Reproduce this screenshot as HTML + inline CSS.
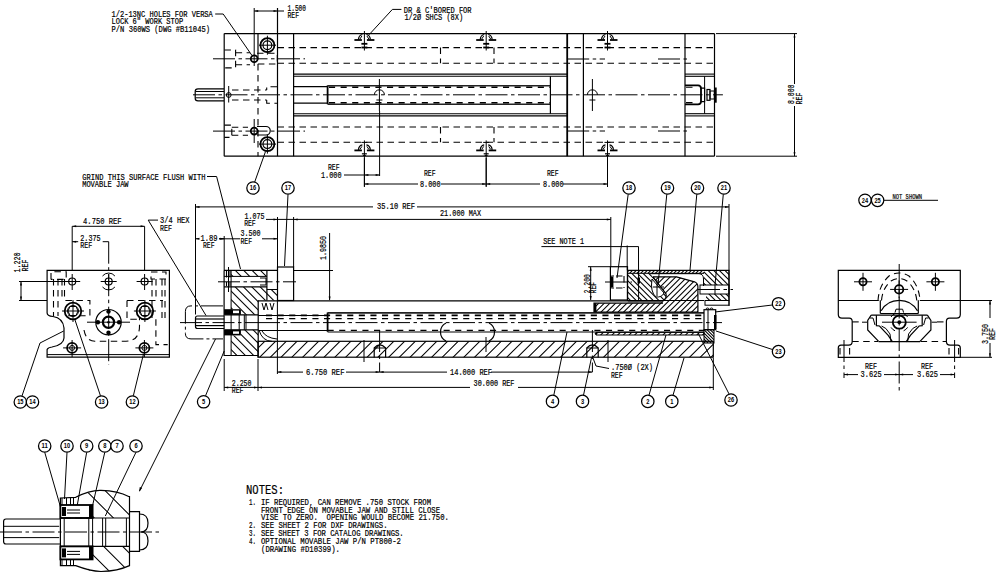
<!DOCTYPE html>
<html><head><meta charset="utf-8"><style>
html,body{margin:0;padding:0;background:#fff;width:1000px;height:573px;overflow:hidden}
svg{display:block}
.t{stroke:#000;stroke-width:1;fill:none}
.m{stroke:#000;stroke-width:1.2;fill:none}
.k{stroke:#000;stroke-width:1.8;fill:none}
.k2{stroke:#000;stroke-width:2.2;fill:none}
.m2{stroke:#222;stroke-width:1.6;fill:none}
.s{stroke:#000;stroke-width:1.1;fill:none}
.w{fill:#fff;stroke:none}
.wf{fill:#fff;stroke:#000;stroke-width:1}
.d{stroke:#000;stroke-width:1.1;fill:none;stroke-dasharray:6.5 4.5}
.dd{stroke:#000;stroke-width:1.6;fill:none;stroke-dasharray:5 3}
.thr{stroke:#000;stroke-width:1.8;fill:none;stroke-dasharray:6.1 5.5}
.thr2{stroke:#000;stroke-width:1.4;fill:none;stroke-dasharray:6.1 5.5}
.c{stroke:#000;stroke-width:1;fill:none;stroke-dasharray:22 3.5 3.5 3.5}
.ph{stroke:#000;stroke-width:1;fill:none;stroke-dasharray:22 3 3 3}
.h{stroke:#000;stroke-width:1.05;fill:none}
.h2{stroke:#000;stroke-width:1;fill:none}
.b{stroke:#000;stroke-width:1.1;fill:#fff}
.blk{fill:#000;stroke:none}
.ah{fill:#000;stroke:none}
.tx{font-family:"Liberation Mono",monospace;fill:#000;stroke:#000;stroke-width:0.2;white-space:pre}
.bt{font-family:"Liberation Sans",sans-serif;fill:#000;font-weight:bold}
.b{stroke:#000;stroke-width:1.25;fill:#fff}
</style></head><body>
<svg width="1000" height="573" viewBox="0 0 1000 573">
<line x1="224.2" y1="33.6" x2="714.5" y2="33.6" class="m"/>
<line x1="224.2" y1="156.2" x2="714.5" y2="156.2" class="m"/>
<line x1="224.2" y1="33.6" x2="224.2" y2="156.2" class="m"/>
<line x1="293.6" y1="33.6" x2="293.6" y2="156.2" class="m"/>
<line x1="277.5" y1="8" x2="277.5" y2="156.2" class="m"/>
<line x1="567.2" y1="33.6" x2="567.2" y2="156.2" class="k"/>
<line x1="583.4" y1="33.6" x2="583.4" y2="156.2" class="m"/>
<line x1="685" y1="33.6" x2="685" y2="156.2" class="m"/>
<line x1="714.5" y1="33.6" x2="714.5" y2="156.2" class="m"/>
<line x1="258" y1="33.6" x2="258" y2="53" class="m"/>
<line x1="258" y1="53" x2="258" y2="156.2" class="d"/>
<line x1="254.2" y1="8" x2="254.2" y2="66" class="t"/>
<line x1="254.2" y1="11" x2="284" y2="11" class="t"/>
<path d="M254.2,11.0L258.2,10.0L258.2,12.0Z" class="ah"/>
<path d="M277.5,11.0L273.5,12.0L273.5,10.0Z" class="ah"/>
<text x="287.5" y="11.2" font-size="8.4" class="tx" textLength="18.5" lengthAdjust="spacingAndGlyphs">1.500</text>
<text x="287.5" y="18.2" font-size="8.4" class="tx" textLength="11.5" lengthAdjust="spacingAndGlyphs">REF</text>
<circle cx="267.4" cy="45.2" r="7" class="k"/>
<circle cx="267.4" cy="45.2" r="4.4" class="m"/>
<line x1="259" y1="45.2" x2="276" y2="45.2" class="t"/>
<line x1="267.4" y1="35.7" x2="267.4" y2="54.7" class="t"/>
<circle cx="267.4" cy="144.1" r="7" class="k"/>
<circle cx="267.4" cy="144.1" r="4.4" class="m"/>
<line x1="259" y1="144.1" x2="276" y2="144.1" class="t"/>
<line x1="267.4" y1="134.6" x2="267.4" y2="153.6" class="t"/>
<circle cx="254.2" cy="58.8" r="3.4" class="k"/>
<line x1="213" y1="58.8" x2="305" y2="58.8" class="c"/>
<circle cx="254.2" cy="131.1" r="3.4" class="k"/>
<line x1="213" y1="131.1" x2="305" y2="131.1" class="c"/>
<path d="M224.4,50 L235.6,50 L235.6,67.9 L224.4,67.9" class="d"/>
<path d="M235.6,52.8 L250,52.8 M235.6,64.7 L250,64.7" class="d"/>
<path d="M257,53.2 L277.3,53.2 L277.3,64 L257,64" class="d"/>
<path d="M224.4,125.1 L231.8,125.1 L231.8,137.4 L224.4,137.4" class="d"/>
<path d="M231.8,127.2 L248,127.2 M231.8,135.3 L248,135.3" class="d"/>
<path d="M257,126.5 L266,126.5 A4.25,4.25 0 0 1 266,135 L257,135" class="m"/>
<line x1="254.2" y1="119" x2="254.2" y2="143" class="t"/>
<line x1="277.5" y1="47.6" x2="714.5" y2="47.6" class="d"/>
<line x1="277.5" y1="63.3" x2="714.5" y2="63.3" class="d"/>
<line x1="277.5" y1="127" x2="714.5" y2="127" class="d"/>
<line x1="277.5" y1="142.3" x2="714.5" y2="142.3" class="d"/>
<line x1="440.5" y1="47.6" x2="440.5" y2="63.3" class="d"/>
<line x1="494" y1="47.6" x2="494" y2="63.3" class="d"/>
<line x1="440.5" y1="127" x2="440.5" y2="142.3" class="d"/>
<line x1="494" y1="127" x2="494" y2="142.3" class="d"/>
<line x1="293.6" y1="74.1" x2="567.2" y2="74.1" class="s"/>
<line x1="685" y1="74.1" x2="714.5" y2="74.1" class="s"/>
<line x1="293.6" y1="76.3" x2="567.2" y2="76.3" class="s"/>
<line x1="685" y1="76.3" x2="714.5" y2="76.3" class="s"/>
<line x1="293.6" y1="113.7" x2="567.2" y2="113.7" class="s"/>
<line x1="685" y1="113.7" x2="714.5" y2="113.7" class="s"/>
<line x1="293.6" y1="115.9" x2="567.2" y2="115.9" class="s"/>
<line x1="685" y1="115.9" x2="714.5" y2="115.9" class="s"/>
<line x1="293.6" y1="86.6" x2="327.6" y2="86.6" class="m"/>
<line x1="293.6" y1="103.2" x2="327.6" y2="103.2" class="m"/>
<line x1="327.6" y1="85.4" x2="327.6" y2="104.2" class="k"/>
<line x1="327.6" y1="85.7" x2="550.4" y2="85.7" class="m2"/>
<line x1="327.6" y1="104.3" x2="550.4" y2="104.3" class="m2"/>
<line x1="329" y1="87.3" x2="550.4" y2="87.3" class="thr2"/>
<line x1="329" y1="102.8" x2="550.4" y2="102.8" class="thr2"/>
<line x1="550.4" y1="76.3" x2="550.4" y2="113.7" class="m"/>
<path d="M224,88.8 L198,88.8 Q195.2,88.8 195.2,91.5 L195.2,98.2 Q195.2,100.9 198,100.9 L224,100.9" class="m"/>
<line x1="195.5" y1="91.5" x2="224" y2="91.5" class="t"/>
<line x1="195.5" y1="97.8" x2="224" y2="97.8" class="t"/>
<circle cx="228.7" cy="95" r="2.4" class="t"/>
<line x1="228.7" y1="86" x2="228.7" y2="102.5" class="t"/>
<path d="M232,90 L266.7,90 M232,100 L266.7,100" class="d"/>
<path d="M277,86.8 L266.7,86.8 L266.7,90 M266.7,100 L266.7,103.3 L277,103.3" class="d"/>
<line x1="193" y1="94.8" x2="722.9" y2="94.8" class="c"/>
<path d="M374.4,94.8 A5,5 0 0 1 384.4,94.8" class="t"/>
<line x1="379.4" y1="79" x2="379.4" y2="111" class="t"/>
<line x1="376.4" y1="100" x2="382.4" y2="100" class="t"/>
<path d="M587.4,94.8 A5,5 0 0 1 597.4,94.8" class="t"/>
<line x1="592.4" y1="79" x2="592.4" y2="111" class="t"/>
<line x1="589.4" y1="100" x2="595.4" y2="100" class="t"/>
<line x1="379.6" y1="111" x2="379.6" y2="176" class="t"/>
<line x1="354.4" y1="40" x2="361.9" y2="40" class="k"/>
<line x1="366.9" y1="40" x2="374.4" y2="40" class="k"/>
<path d="M358.4,39.5 Q358.9,35 362.4,34.5 M366.4,34.5 Q369.9,35 370.4,39.5" class="m"/>
<path d="M359.9,39 L361.9,36 M366.9,36 L368.9,39" class="t"/>
<line x1="364.4" y1="31" x2="364.4" y2="50.5" class="t"/>
<line x1="361.4" y1="43.8" x2="367.4" y2="43.8" class="k"/>
<line x1="361.4" y1="47.5" x2="367.4" y2="47.5" class="k"/>
<line x1="354.4" y1="150.4" x2="361.9" y2="150.4" class="k"/>
<line x1="366.9" y1="150.4" x2="374.4" y2="150.4" class="k"/>
<path d="M358.4,149.9 Q358.9,145.4 362.4,144.9 M366.4,144.9 Q369.9,145.4 370.4,149.9" class="m"/>
<path d="M359.9,149.4 L361.9,146.4 M366.9,146.4 L368.9,149.4" class="t"/>
<line x1="364.4" y1="140.4" x2="364.4" y2="186.4" class="t"/>
<line x1="361.4" y1="142.4" x2="367.4" y2="142.4" class="t"/>
<line x1="361.9" y1="153.8" x2="366.9" y2="153.8" class="m"/>
<line x1="362.9" y1="155.4" x2="365.9" y2="155.4" class="t"/>
<line x1="476.2" y1="40" x2="483.7" y2="40" class="k"/>
<line x1="488.7" y1="40" x2="496.2" y2="40" class="k"/>
<path d="M480.2,39.5 Q480.7,35 484.2,34.5 M488.2,34.5 Q491.7,35 492.2,39.5" class="m"/>
<path d="M481.7,39 L483.7,36 M488.7,36 L490.7,39" class="t"/>
<line x1="486.2" y1="31" x2="486.2" y2="50.5" class="t"/>
<line x1="483.2" y1="43.8" x2="489.2" y2="43.8" class="k"/>
<line x1="483.2" y1="47.5" x2="489.2" y2="47.5" class="k"/>
<line x1="476.2" y1="150.4" x2="483.7" y2="150.4" class="k"/>
<line x1="488.7" y1="150.4" x2="496.2" y2="150.4" class="k"/>
<path d="M480.2,149.9 Q480.7,145.4 484.2,144.9 M488.2,144.9 Q491.7,145.4 492.2,149.9" class="m"/>
<path d="M481.7,149.4 L483.7,146.4 M488.7,146.4 L490.7,149.4" class="t"/>
<line x1="486.2" y1="140.4" x2="486.2" y2="186.4" class="t"/>
<line x1="483.2" y1="142.4" x2="489.2" y2="142.4" class="t"/>
<line x1="483.7" y1="153.8" x2="488.7" y2="153.8" class="m"/>
<line x1="484.7" y1="155.4" x2="487.7" y2="155.4" class="t"/>
<line x1="597.5" y1="40" x2="605" y2="40" class="k"/>
<line x1="610" y1="40" x2="617.5" y2="40" class="k"/>
<path d="M601.5,39.5 Q602.0,35 605.5,34.5 M609.5,34.5 Q613.0,35 613.5,39.5" class="m"/>
<path d="M603.0,39 L605.0,36 M610.0,36 L612.0,39" class="t"/>
<line x1="607.5" y1="31" x2="607.5" y2="50.5" class="t"/>
<line x1="604.5" y1="43.8" x2="610.5" y2="43.8" class="k"/>
<line x1="604.5" y1="47.5" x2="610.5" y2="47.5" class="k"/>
<line x1="597.5" y1="150.4" x2="605" y2="150.4" class="k"/>
<line x1="610" y1="150.4" x2="617.5" y2="150.4" class="k"/>
<path d="M601.5,149.9 Q602.0,145.4 605.5,144.9 M609.5,144.9 Q613.0,145.4 613.5,149.9" class="m"/>
<path d="M603.0,149.4 L605.0,146.4 M610.0,146.4 L612.0,149.4" class="t"/>
<line x1="607.5" y1="140.4" x2="607.5" y2="186.4" class="t"/>
<line x1="604.5" y1="142.4" x2="610.5" y2="142.4" class="t"/>
<line x1="605" y1="153.8" x2="610" y2="153.8" class="m"/>
<line x1="606" y1="155.4" x2="609" y2="155.4" class="t"/>
<line x1="567.2" y1="59" x2="605" y2="59" class="c"/>
<line x1="658" y1="59" x2="690" y2="59" class="c"/>
<line x1="567.2" y1="131" x2="605" y2="131" class="c"/>
<line x1="658" y1="131" x2="690" y2="131" class="c"/>
<path d="M685,85.4 L698,85.4 Q701,85.6 701,88.5 L701,101.2 Q701,104.2 698,104.4 L685,104.4" class="k"/>
<path d="M686,87.2 L697,87.2 M686,102.6 L697,102.6" class="d"/>
<path d="M701,88.2 L704.6,88.2 L704.6,101.6 L701,101.6" class="m"/>
<line x1="704.6" y1="76.3" x2="704.6" y2="113.7" class="t"/>
<rect x="707" y="89.5" width="3" height="10.8" class="m"/>
<rect x="710" y="91" width="4.3" height="8" class="t"/>
<line x1="715.6" y1="87.5" x2="715.6" y2="102.7" class="k2"/>
<line x1="716" y1="33.6" x2="797" y2="33.6" class="t"/>
<line x1="716" y1="156.2" x2="797" y2="156.2" class="t"/>
<line x1="794.5" y1="33.6" x2="794.5" y2="84" class="t"/>
<line x1="794.5" y1="106" x2="794.5" y2="156.2" class="t"/>
<path d="M794.5,33.6L795.5,37.6L793.5,37.6Z" class="ah"/>
<path d="M794.5,156.2L793.5,152.2L795.5,152.2Z" class="ah"/>
<text x="793.8" y="104" font-size="8.4" class="tx" textLength="19.5" lengthAdjust="spacingAndGlyphs" transform="rotate(-90 793.8 104)">8.000</text>
<text x="801.6" y="104.5" font-size="8.4" class="tx" textLength="12" lengthAdjust="spacingAndGlyphs" transform="rotate(-90 801.6 104.5)">REF</text>
<text x="111.5" y="16.8" font-size="8.4" class="tx" textLength="101.3" lengthAdjust="spacingAndGlyphs">1/2-13NC HOLES FOR VERSA</text>
<text x="111.5" y="24.3" font-size="8.4" class="tx" textLength="71.7" lengthAdjust="spacingAndGlyphs">LOCK 6" WORK STOP</text>
<text x="111.5" y="31.9" font-size="8.4" class="tx" textLength="98.5" lengthAdjust="spacingAndGlyphs">P/N 360WS (DWG #B11045)</text>
<path d="M215.2,14 L223.2,14 L252,55.5" class="t"/>
<text x="403.8" y="12.6" font-size="8.4" class="tx" textLength="67.8" lengthAdjust="spacingAndGlyphs">DR &amp; C'BORED FOR</text>
<text x="404.4" y="20.2" font-size="8.4" class="tx" textLength="58.8" lengthAdjust="spacingAndGlyphs">1/2Ø SHCS (8X)</text>
<path d="M401.4,9.4 L392.4,9.4 L369,34.8" class="t"/>
<path d="M254.7,182 L265.5,151.5" class="t"/>
<path d="M288,194.3 L284.5,266" class="t"/>
<line x1="364.4" y1="158" x2="364.4" y2="187" class="t"/>
<line x1="344" y1="175" x2="379.6" y2="175" class="t"/>
<path d="M379.6,175.0L375.6,176.0L375.6,174.0Z" class="ah"/>
<path d="M364.4,175.0L368.4,174.0L368.4,176.0Z" class="ah"/>
<text x="328" y="169.5" font-size="8.4" class="tx" textLength="11.5" lengthAdjust="spacingAndGlyphs">REF</text>
<text x="321" y="178.2" font-size="8.4" class="tx" textLength="20.5" lengthAdjust="spacingAndGlyphs">1.000</text>
<line x1="486.2" y1="158" x2="486.2" y2="187" class="t"/>
<line x1="607.5" y1="158" x2="607.5" y2="187" class="t"/>
<line x1="364.4" y1="184" x2="418" y2="184" class="t"/>
<line x1="441" y1="184" x2="540" y2="184" class="t"/>
<line x1="563" y1="184" x2="607.5" y2="184" class="t"/>
<path d="M364.4,184.0L368.4,183.0L368.4,185.0Z" class="ah"/>
<path d="M486.2,184.0L482.2,185.0L482.2,183.0Z" class="ah"/>
<path d="M486.2,184.0L490.2,183.0L490.2,185.0Z" class="ah"/>
<path d="M607.5,184.0L603.5,185.0L603.5,183.0Z" class="ah"/>
<text x="424" y="175.5" font-size="8.4" class="tx" textLength="11.5" lengthAdjust="spacingAndGlyphs">REF</text>
<text x="420" y="187.2" font-size="8.4" class="tx" textLength="20.5" lengthAdjust="spacingAndGlyphs">8.000</text>
<text x="547" y="175.5" font-size="8.4" class="tx" textLength="11.5" lengthAdjust="spacingAndGlyphs">REF</text>
<text x="543" y="187.2" font-size="8.4" class="tx" textLength="20.5" lengthAdjust="spacingAndGlyphs">8.000</text>
<line x1="195.5" y1="206.9" x2="373" y2="206.9" class="t"/>
<line x1="417" y1="206.9" x2="729" y2="206.9" class="t"/>
<path d="M195.5,206.9L199.5,205.9L199.5,207.9Z" class="ah"/>
<path d="M729.0,206.9L725.0,207.9L725.0,205.9Z" class="ah"/>
<text x="377" y="209.4" font-size="8.4" class="tx" textLength="38" lengthAdjust="spacingAndGlyphs">35.10 REF</text>
<line x1="195.5" y1="204" x2="195.5" y2="314.5" class="t"/>
<line x1="729" y1="204" x2="729" y2="306" class="t"/>
<line x1="266" y1="219.4" x2="610.8" y2="219.4" class="t"/>
<path d="M277.5,219.4L273.5,220.4L273.5,218.4Z" class="ah"/>
<path d="M293.6,219.4L297.6,218.4L297.6,220.4Z" class="ah"/>
<path d="M610.8,219.4L606.8,220.4L606.8,218.4Z" class="ah"/>
<line x1="610.8" y1="217" x2="610.8" y2="267" class="t"/>
<text x="440" y="216.4" font-size="8.4" class="tx" textLength="41" lengthAdjust="spacingAndGlyphs">21.000 MAX</text>
<text x="244.5" y="218.6" font-size="8.4" class="tx" textLength="20" lengthAdjust="spacingAndGlyphs">1.075</text>
<text x="244.2" y="226" font-size="8.4" class="tx" textLength="11.5" lengthAdjust="spacingAndGlyphs">REF</text>
<line x1="277.5" y1="217" x2="277.5" y2="267" class="t"/>
<line x1="293.6" y1="217" x2="293.6" y2="267" class="t"/>
<line x1="195.5" y1="238.8" x2="199" y2="238.8" class="t"/>
<line x1="219" y1="238.8" x2="224.2" y2="238.8" class="t"/>
<path d="M195.5,238.8L199.5,237.8L199.5,239.8Z" class="ah"/>
<path d="M224.2,238.8L220.2,239.8L220.2,237.8Z" class="ah"/>
<text x="200.5" y="241.2" font-size="8.4" class="tx" textLength="17" lengthAdjust="spacingAndGlyphs">1.89</text>
<text x="203" y="248" font-size="8.4" class="tx" textLength="11.5" lengthAdjust="spacingAndGlyphs">REF</text>
<line x1="224.2" y1="236" x2="224.2" y2="270" class="t"/>
<line x1="219" y1="238.8" x2="240" y2="238.8" class="t"/>
<line x1="262" y1="238.8" x2="277.5" y2="238.8" class="t"/>
<path d="M277.5,238.8L273.5,239.8L273.5,237.8Z" class="ah"/>
<text x="240.5" y="236.4" font-size="8.4" class="tx" textLength="20" lengthAdjust="spacingAndGlyphs">3.500</text>
<text x="240.5" y="244.2" font-size="8.4" class="tx" textLength="11.5" lengthAdjust="spacingAndGlyphs">REF</text>
<line x1="329.6" y1="233" x2="329.6" y2="300" class="t"/>
<path d="M329.6,300.5L328.6,296.5L330.6,296.5Z" class="ah"/>
<text x="326.2" y="260" font-size="8.4" class="tx" textLength="24" lengthAdjust="spacingAndGlyphs" transform="rotate(-90 326.2 260)">1.9850</text>
<line x1="294" y1="270.5" x2="333" y2="270.5" class="t"/>
<rect x="277.5" y="267" width="16.1" height="33.5" class="m"/>
<line x1="218" y1="281.8" x2="296" y2="281.8" class="c"/>
<line x1="258" y1="300.8" x2="627.5" y2="300.8" class="m"/>
<rect x="258" y="341.3" width="455.3" height="15.9" class="m"/>
<clipPath id="cp1"><path clip-rule="nonzero" d="M258,341.3 H713.3 V357.2 H258Z"/></clipPath>
<g clip-path="url(#cp1)"><path d="M-1118.1,520.4L720.4,-1318.1M-1112.7,525.8L725.8,-1312.7M-1107.3,531.2L731.2,-1307.3M-1102.0,536.5L736.5,-1302.0M-1096.6,541.9L741.9,-1296.6M-1091.2,547.3L747.3,-1291.2M-1085.8,552.6L752.6,-1285.8M-1080.5,558.0L758.0,-1280.5M-1075.1,563.4L763.4,-1275.1M-1069.7,568.8L768.8,-1269.7M-1064.3,574.1L774.1,-1264.3M-1059.0,579.5L779.5,-1259.0M-1053.6,584.9L784.9,-1253.6M-1048.2,590.3L790.3,-1248.2M-1042.8,595.6L795.6,-1242.8M-1037.5,601.0L801.0,-1237.5M-1032.1,606.4L806.4,-1232.1M-1026.7,611.8L811.8,-1226.7M-1021.3,617.1L817.1,-1221.3M-1016.0,622.5L822.5,-1216.0M-1010.6,627.9L827.9,-1210.6M-1005.2,633.3L833.3,-1205.2M-999.8,638.6L838.6,-1199.8M-994.5,644.0L844.0,-1194.5M-989.1,649.4L849.4,-1189.1M-983.7,654.8L854.8,-1183.7M-978.3,660.1L860.1,-1178.3M-973.0,665.5L865.5,-1173.0M-967.6,670.9L870.9,-1167.6M-962.2,676.3L876.3,-1162.2M-956.9,681.6L881.6,-1156.9M-951.5,687.0L887.0,-1151.5M-946.1,692.4L892.4,-1146.1M-940.7,697.7L897.7,-1140.7M-935.4,703.1L903.1,-1135.4M-930.0,708.5L908.5,-1130.0M-924.6,713.9L913.9,-1124.6M-919.2,719.2L919.2,-1119.2M-913.9,724.6L924.6,-1113.9M-908.5,730.0L930.0,-1108.5M-903.1,735.4L935.4,-1103.1M-897.7,740.7L940.7,-1097.7M-892.4,746.1L946.1,-1092.4M-887.0,751.5L951.5,-1087.0M-881.6,756.9L956.9,-1081.6M-876.2,762.2L962.2,-1076.2M-870.9,767.6L967.6,-1070.9M-865.5,773.0L973.0,-1065.5M-860.1,778.4L978.4,-1060.1M-854.7,783.7L983.7,-1054.7M-849.4,789.1L989.1,-1049.4M-844.0,794.5L994.5,-1044.0M-838.6,799.9L999.9,-1038.6M-833.2,805.2L1005.2,-1033.2M-827.9,810.6L1010.6,-1027.9M-822.5,816.0L1016.0,-1022.5M-817.1,821.3L1021.3,-1017.1M-811.8,826.7L1026.7,-1011.8M-806.4,832.1L1032.1,-1006.4M-801.0,837.5L1037.5,-1001.0M-795.6,842.8L1042.8,-995.6M-790.3,848.2L1048.2,-990.3M-784.9,853.6L1053.6,-984.9M-779.5,859.0L1059.0,-979.5M-774.1,864.3L1064.3,-974.1M-768.8,869.7L1069.7,-968.8M-763.4,875.1L1075.1,-963.4M-758.0,880.5L1080.5,-958.0M-752.6,885.8L1085.8,-952.6M-747.3,891.2L1091.2,-947.3M-741.9,896.6L1096.6,-941.9M-736.5,902.0L1102.0,-936.5M-731.1,907.3L1107.3,-931.1M-725.8,912.7L1112.7,-925.8M-720.4,918.1L1118.1,-920.4M-715.0,923.5L1123.5,-915.0M-709.6,928.8L1128.8,-909.6M-704.3,934.2L1134.2,-904.3M-698.9,939.6L1139.6,-898.9M-693.5,945.0L1145.0,-893.5M-688.2,950.3L1150.3,-888.2M-682.8,955.7L1155.7,-882.8M-677.4,961.1L1161.1,-877.4M-672.0,966.4L1166.4,-872.0M-666.7,971.8L1171.8,-866.7M-661.3,977.2L1177.2,-861.3M-655.9,982.6L1182.6,-855.9M-650.5,987.9L1187.9,-850.5M-645.2,993.3L1193.3,-845.2M-639.8,998.7L1198.7,-839.8M-634.4,1004.1L1204.1,-834.4M-629.0,1009.4L1209.4,-829.0M-623.7,1014.8L1214.8,-823.7M-618.3,1020.2L1220.2,-818.3M-612.9,1025.6L1225.6,-812.9M-607.5,1030.9L1230.9,-807.5M-602.2,1036.3L1236.3,-802.2M-596.8,1041.7L1241.7,-796.8M-591.4,1047.1L1247.1,-791.4M-586.0,1052.4L1252.4,-786.0M-580.7,1057.8L1257.8,-780.7M-575.3,1063.2L1263.2,-775.3M-569.9,1068.6L1268.6,-769.9M-564.5,1073.9L1273.9,-764.5M-559.2,1079.3L1279.3,-759.2M-553.8,1084.7L1284.7,-753.8M-548.4,1090.1L1290.1,-748.4M-543.1,1095.4L1295.4,-743.1M-537.7,1100.8L1300.8,-737.7M-532.3,1106.2L1306.2,-732.3M-526.9,1111.5L1311.5,-726.9M-521.6,1116.9L1316.9,-721.6M-516.2,1122.3L1322.3,-716.2M-510.8,1127.7L1327.7,-710.8M-505.4,1133.0L1333.0,-705.4M-500.1,1138.4L1338.4,-700.1M-494.7,1143.8L1343.8,-694.7M-489.3,1149.2L1349.2,-689.3M-483.9,1154.5L1354.5,-683.9M-478.6,1159.9L1359.9,-678.6M-473.2,1165.3L1365.3,-673.2M-467.8,1170.7L1370.7,-667.8M-462.4,1176.0L1376.0,-662.4M-457.1,1181.4L1381.4,-657.1M-451.7,1186.8L1386.8,-651.7M-446.3,1192.2L1392.2,-646.3M-440.9,1197.5L1397.5,-640.9M-435.6,1202.9L1402.9,-635.6M-430.2,1208.3L1408.3,-630.2M-424.8,1213.7L1413.7,-624.8M-419.5,1219.0L1419.0,-619.5M-414.1,1224.4L1424.4,-614.1M-408.7,1229.8L1429.8,-608.7M-403.3,1235.1L1435.1,-603.3M-398.0,1240.5L1440.5,-598.0M-392.6,1245.9L1445.9,-592.6M-387.2,1251.3L1451.3,-587.2M-381.8,1256.6L1456.6,-581.8M-376.5,1262.0L1462.0,-576.5M-371.1,1267.4L1467.4,-571.1M-365.7,1272.8L1472.8,-565.7M-360.3,1278.1L1478.1,-560.3M-355.0,1283.5L1483.5,-555.0M-349.6,1288.9L1488.9,-549.6M-344.2,1294.3L1494.3,-544.2M-338.8,1299.6L1499.6,-538.8M-333.5,1305.0L1505.0,-533.5M-328.1,1310.4L1510.4,-528.1M-322.7,1315.8L1515.8,-522.7M-317.3,1321.1L1521.1,-517.3M-312.0,1326.5L1526.5,-512.0M-306.6,1331.9L1531.9,-506.6M-301.2,1337.3L1537.3,-501.2M-295.8,1342.6L1542.6,-495.8M-290.5,1348.0L1548.0,-490.5M-285.1,1353.4L1553.4,-485.1M-279.7,1358.8L1558.8,-479.7M-274.4,1364.1L1564.1,-474.4M-269.0,1369.5L1569.5,-469.0M-263.6,1374.9L1574.9,-463.6M-258.2,1380.2L1580.2,-458.2M-252.9,1385.6L1585.6,-452.9M-247.5,1391.0L1591.0,-447.5M-242.1,1396.4L1596.4,-442.1M-236.7,1401.7L1601.7,-436.7M-231.4,1407.1L1607.1,-431.4M-226.0,1412.5L1612.5,-426.0M-220.6,1417.9L1617.9,-420.6M-215.2,1423.2L1623.2,-415.2M-209.9,1428.6L1628.6,-409.9M-204.5,1434.0L1634.0,-404.5M-199.1,1439.4L1639.4,-399.1M-193.7,1444.7L1644.7,-393.7M-188.4,1450.1L1650.1,-388.4M-183.0,1455.5L1655.5,-383.0M-177.6,1460.9L1660.9,-377.6M-172.2,1466.2L1666.2,-372.2M-166.9,1471.6L1671.6,-366.9M-161.5,1477.0L1677.0,-361.5M-156.1,1482.4L1682.4,-356.1M-150.8,1487.7L1687.7,-350.8M-145.4,1493.1L1693.1,-345.4M-140.0,1498.5L1698.5,-340.0M-134.6,1503.8L1703.8,-334.6M-129.3,1509.2L1709.2,-329.3M-123.9,1514.6L1714.6,-323.9M-118.5,1520.0L1720.0,-318.5M-113.1,1525.3L1725.3,-313.1M-107.8,1530.7L1730.7,-307.8M-102.4,1536.1L1736.1,-302.4M-97.0,1541.5L1741.5,-297.0M-91.6,1546.8L1746.8,-291.6M-86.3,1552.2L1752.2,-286.3M-80.9,1557.6L1757.6,-280.9M-75.5,1563.0L1763.0,-275.5M-70.1,1568.3L1768.3,-270.1M-64.8,1573.7L1773.7,-264.8M-59.4,1579.1L1779.1,-259.4M-54.0,1584.5L1784.5,-254.0M-48.6,1589.8L1789.8,-248.6M-43.3,1595.2L1795.2,-243.3M-37.9,1600.6L1800.6,-237.9M-32.5,1606.0L1806.0,-232.5M-27.1,1611.3L1811.3,-227.1M-21.8,1616.7L1816.7,-221.8M-16.4,1622.1L1822.1,-216.4M-11.0,1627.5L1827.5,-211.0M-5.7,1632.8L1832.8,-205.7M-0.3,1638.2L1838.2,-200.3M5.1,1643.6L1843.6,-194.9M10.5,1648.9L1848.9,-189.5M15.8,1654.3L1854.3,-184.2M21.2,1659.7L1859.7,-178.8M26.6,1665.1L1865.1,-173.4M32.0,1670.4L1870.4,-168.0M37.3,1675.8L1875.8,-162.7M42.7,1681.2L1881.2,-157.3M48.1,1686.6L1886.6,-151.9M53.5,1691.9L1891.9,-146.5M58.8,1697.3L1897.3,-141.2M64.2,1702.7L1902.7,-135.8M69.6,1708.1L1908.1,-130.4M75.0,1713.4L1913.4,-125.0M80.3,1718.8L1918.8,-119.7M85.7,1724.2L1924.2,-114.3M91.1,1729.6L1929.6,-108.9M96.5,1734.9L1934.9,-103.5M101.8,1740.3L1940.3,-98.2M107.2,1745.7L1945.7,-92.8M112.6,1751.1L1951.1,-87.4M118.0,1756.4L1956.4,-82.0M123.3,1761.8L1961.8,-76.7M128.7,1767.2L1967.2,-71.3M134.1,1772.5L1972.5,-65.9M139.4,1777.9L1977.9,-60.6M144.8,1783.3L1983.3,-55.2M150.2,1788.7L1988.7,-49.8M155.6,1794.0L1994.0,-44.4M160.9,1799.4L1999.4,-39.1M166.3,1804.8L2004.8,-33.7M171.7,1810.2L2010.2,-28.3M177.1,1815.5L2015.5,-22.9M182.4,1820.9L2020.9,-17.6M187.8,1826.3L2026.3,-12.2M193.2,1831.7L2031.7,-6.8M198.6,1837.0L2037.0,-1.4M203.9,1842.4L2042.4,3.9M209.3,1847.8L2047.8,9.3M214.7,1853.2L2053.2,14.7M220.1,1858.5L2058.5,20.1M225.4,1863.9L2063.9,25.4M230.8,1869.3L2069.3,30.8M236.2,1874.7L2074.7,36.2M241.6,1880.0L2080.0,41.6M246.9,1885.4L2085.4,46.9M252.3,1890.8L2090.8,52.3M257.7,1896.2L2096.2,57.7M263.0,1901.5L2101.5,63.0M268.4,1906.9L2106.9,68.4M273.8,1912.3L2112.3,73.8" class="h"/></g>
<path d="M224.1,270.3 L277.3,270.3 M266.9,270.3 L266.9,300.4 M258.2,300.4 L258.2,357.2 M224.1,270.3 L224.1,355.5 L258.2,355.5" class="m"/>
<line x1="231.1" y1="270.3" x2="231.1" y2="355.5" class="t"/>
<line x1="224.1" y1="276.4" x2="266.9" y2="276.4" class="t"/>
<line x1="224.1" y1="286.9" x2="266.9" y2="286.9" class="m"/>
<line x1="266.9" y1="289.5" x2="277.3" y2="289.5" class="t"/>
<clipPath id="cp2"><path clip-rule="nonzero" d="M231.1,270.3 L266.9,270.3 L266.9,276.4 L231.1,276.4 Z"/></clipPath>
<g clip-path="url(#cp2)"><path d="M122.4,-1160.9L1960.9,677.6M118.2,-1156.7L1956.7,681.8M114.1,-1152.5L1952.5,685.9M109.9,-1148.4L1948.4,690.1M105.7,-1144.2L1944.2,694.3M101.5,-1140.0L1940.0,698.5M97.4,-1135.9L1935.9,702.6M93.2,-1131.7L1931.7,706.8M89.0,-1127.5L1927.5,711.0M84.9,-1123.3L1923.3,715.1M80.7,-1119.2L1919.2,719.3M76.5,-1115.0L1915.0,723.5M72.3,-1110.8L1910.8,727.7M68.2,-1106.6L1906.6,731.8M64.0,-1102.5L1902.5,736.0M59.8,-1098.3L1898.3,740.2M55.7,-1094.1L1894.1,744.3M51.5,-1090.0L1890.0,748.5M47.3,-1085.8L1885.8,752.7M43.1,-1081.6L1881.6,756.9M39.0,-1077.4L1877.4,761.0M34.8,-1073.3L1873.3,765.2M30.6,-1069.1L1869.1,769.4M26.5,-1064.9L1864.9,773.5M22.3,-1060.8L1860.8,777.7M18.1,-1056.6L1856.6,781.9M13.9,-1052.4L1852.4,786.1M9.8,-1048.2L1848.2,790.2M5.6,-1044.1L1844.1,794.4M1.4,-1039.9L1839.9,798.6M-2.8,-1035.7L1835.7,802.8M-6.9,-1031.6L1831.6,806.9M-11.1,-1027.4L1827.4,811.1M-15.3,-1023.2L1823.2,815.3M-19.4,-1019.0L1819.0,819.4M-23.6,-1014.9L1814.9,823.6M-27.8,-1010.7L1810.7,827.8M-32.0,-1006.5L1806.5,832.0M-36.1,-1002.3L1802.3,836.1M-40.3,-998.2L1798.2,840.3M-44.5,-994.0L1794.0,844.5M-48.6,-989.8L1789.8,848.6M-52.8,-985.7L1785.7,852.8M-57.0,-981.5L1781.5,857.0M-61.2,-977.3L1777.3,861.2M-65.3,-973.1L1773.1,865.3M-69.5,-969.0L1769.0,869.5M-73.7,-964.8L1764.8,873.7M-77.8,-960.6L1760.6,877.8M-82.0,-956.5L1756.5,882.0M-86.2,-952.3L1752.3,886.2M-90.4,-948.1L1748.1,890.4M-94.5,-943.9L1743.9,894.5M-98.7,-939.8L1739.8,898.7M-102.9,-935.6L1735.6,902.9M-107.1,-931.4L1731.4,907.1M-111.2,-927.3L1727.3,911.2M-115.4,-923.1L1723.1,915.4M-119.6,-918.9L1718.9,919.6M-123.7,-914.7L1714.7,923.7M-127.9,-910.6L1710.6,927.9M-132.1,-906.4L1706.4,932.1M-136.3,-902.2L1702.2,936.3M-140.4,-898.1L1698.1,940.4M-144.6,-893.9L1693.9,944.6M-148.8,-889.7L1689.7,948.8M-152.9,-885.5L1685.5,952.9M-157.1,-881.4L1681.4,957.1M-161.3,-877.2L1677.2,961.3M-165.5,-873.0L1673.0,965.5M-169.6,-868.8L1668.8,969.6M-173.8,-864.7L1664.7,973.8M-178.0,-860.5L1660.5,978.0M-182.1,-856.3L1656.3,982.1M-186.3,-852.2L1652.2,986.3M-190.5,-848.0L1648.0,990.5M-194.7,-843.8L1643.8,994.7M-198.8,-839.6L1639.6,998.8M-203.0,-835.5L1635.5,1003.0M-207.2,-831.3L1631.3,1007.2M-211.3,-827.1L1627.1,1011.3M-215.5,-823.0L1623.0,1015.5M-219.7,-818.8L1618.8,1019.7M-223.9,-814.6L1614.6,1023.9M-228.0,-810.4L1610.4,1028.0M-232.2,-806.3L1606.3,1032.2M-236.4,-802.1L1602.1,1036.4M-240.6,-797.9L1597.9,1040.6M-244.7,-793.8L1593.8,1044.7M-248.9,-789.6L1589.6,1048.9M-253.1,-785.4L1585.4,1053.1M-257.2,-781.2L1581.2,1057.2M-261.4,-777.1L1577.1,1061.4M-265.6,-772.9L1572.9,1065.6M-269.8,-768.7L1568.7,1069.8M-273.9,-764.5L1564.5,1073.9M-278.1,-760.4L1560.4,1078.1M-282.3,-756.2L1556.2,1082.3M-286.4,-752.0L1552.0,1086.4M-290.6,-747.9L1547.9,1090.6M-294.8,-743.7L1543.7,1094.8M-299.0,-739.5L1539.5,1099.0M-303.1,-735.3L1535.3,1103.1M-307.3,-731.2L1531.2,1107.3M-311.5,-727.0L1527.0,1111.5M-315.6,-722.8L1522.8,1115.6M-319.8,-718.7L1518.7,1119.8M-324.0,-714.5L1514.5,1124.0M-328.2,-710.3L1510.3,1128.2M-332.3,-706.1L1506.1,1132.3M-336.5,-702.0L1502.0,1136.5M-340.7,-697.8L1497.8,1140.7M-344.9,-693.6L1493.6,1144.9M-349.0,-689.5L1489.5,1149.0M-353.2,-685.3L1485.3,1153.2M-357.4,-681.1L1481.1,1157.4M-361.5,-676.9L1476.9,1161.5M-365.7,-672.8L1472.8,1165.7M-369.9,-668.6L1468.6,1169.9M-374.1,-664.4L1464.4,1174.1M-378.2,-660.3L1460.3,1178.2M-382.4,-656.1L1456.1,1182.4M-386.6,-651.9L1451.9,1186.6M-390.7,-647.7L1447.7,1190.7M-394.9,-643.6L1443.6,1194.9M-399.1,-639.4L1439.4,1199.1M-403.3,-635.2L1435.2,1203.3M-407.4,-631.0L1431.0,1207.4M-411.6,-626.9L1426.9,1211.6M-415.8,-622.7L1422.7,1215.8M-419.9,-618.5L1418.5,1219.9M-424.1,-614.4L1414.4,1224.1M-428.3,-610.2L1410.2,1228.3M-432.5,-606.0L1406.0,1232.5M-436.6,-601.8L1401.8,1236.6M-440.8,-597.7L1397.7,1240.8M-445.0,-593.5L1393.5,1245.0M-449.1,-589.3L1389.3,1249.1M-453.3,-585.2L1385.2,1253.3M-457.5,-581.0L1381.0,1257.5M-461.7,-576.8L1376.8,1261.7M-465.8,-572.6L1372.6,1265.8M-470.0,-568.5L1368.5,1270.0M-474.2,-564.3L1364.3,1274.2M-478.4,-560.1L1360.1,1278.4M-482.5,-556.0L1356.0,1282.5M-486.7,-551.8L1351.8,1286.7M-490.9,-547.6L1347.6,1290.9M-495.0,-543.4L1343.4,1295.0M-499.2,-539.3L1339.3,1299.2M-503.4,-535.1L1335.1,1303.4M-507.6,-530.9L1330.9,1307.6M-511.7,-526.7L1326.7,1311.7M-515.9,-522.6L1322.6,1315.9M-520.1,-518.4L1318.4,1320.1M-524.2,-514.2L1314.2,1324.2M-528.4,-510.1L1310.1,1328.4M-532.6,-505.9L1305.9,1332.6M-536.8,-501.7L1301.7,1336.8M-540.9,-497.5L1297.5,1340.9M-545.1,-493.4L1293.4,1345.1M-549.3,-489.2L1289.2,1349.3M-553.4,-485.0L1285.0,1353.4M-557.6,-480.9L1280.9,1357.6M-561.8,-476.7L1276.7,1361.8M-566.0,-472.5L1272.5,1366.0M-570.1,-468.3L1268.3,1370.1M-574.3,-464.2L1264.2,1374.3M-578.5,-460.0L1260.0,1378.5M-582.7,-455.8L1255.8,1382.7M-586.8,-451.7L1251.7,1386.8M-591.0,-447.5L1247.5,1391.0M-595.2,-443.3L1243.3,1395.2M-599.3,-439.1L1239.1,1399.3M-603.5,-435.0L1235.0,1403.5M-607.7,-430.8L1230.8,1407.7M-611.9,-426.6L1226.6,1411.9M-616.0,-422.5L1222.5,1416.0M-620.2,-418.3L1218.3,1420.2M-624.4,-414.1L1214.1,1424.4M-628.5,-409.9L1209.9,1428.5M-632.7,-405.8L1205.8,1432.7M-636.9,-401.6L1201.6,1436.9M-641.1,-397.4L1197.4,1441.1M-645.2,-393.2L1193.2,1445.2M-649.4,-389.1L1189.1,1449.4M-653.6,-384.9L1184.9,1453.6M-657.7,-380.7L1180.7,1457.7M-661.9,-376.6L1176.6,1461.9M-666.1,-372.4L1172.4,1466.1M-670.3,-368.2L1168.2,1470.3M-674.4,-364.0L1164.0,1474.4M-678.6,-359.9L1159.9,1478.6M-682.8,-355.7L1155.7,1482.8M-686.9,-351.5L1151.5,1486.9M-691.1,-347.4L1147.4,1491.1M-695.3,-343.2L1143.2,1495.3M-699.5,-339.0L1139.0,1499.5M-703.6,-334.8L1134.8,1503.6M-707.8,-330.7L1130.7,1507.8M-712.0,-326.5L1126.5,1512.0M-716.2,-322.3L1122.3,1516.2M-720.3,-318.2L1118.2,1520.3M-724.5,-314.0L1114.0,1524.5M-728.7,-309.8L1109.8,1528.7M-732.8,-305.6L1105.6,1532.8M-737.0,-301.5L1101.5,1537.0M-741.2,-297.3L1097.3,1541.2M-745.4,-293.1L1093.1,1545.4M-749.5,-288.9L1088.9,1549.5M-753.7,-284.8L1084.8,1553.7M-757.9,-280.6L1080.6,1557.9M-762.0,-276.4L1076.4,1562.0M-766.2,-272.3L1072.3,1566.2M-770.4,-268.1L1068.1,1570.4M-774.6,-263.9L1063.9,1574.6M-778.7,-259.7L1059.7,1578.7M-782.9,-255.6L1055.6,1582.9M-787.1,-251.4L1051.4,1587.1M-791.2,-247.2L1047.2,1591.2M-795.4,-243.1L1043.1,1595.4M-799.6,-238.9L1038.9,1599.6M-803.8,-234.7L1034.7,1603.8M-807.9,-230.5L1030.5,1607.9M-812.1,-226.4L1026.4,1612.1M-816.3,-222.2L1022.2,1616.3M-820.5,-218.0L1018.0,1620.5M-824.6,-213.9L1013.9,1624.6M-828.8,-209.7L1009.7,1628.8M-833.0,-205.5L1005.5,1633.0M-837.1,-201.3L1001.3,1637.1M-841.3,-197.2L997.2,1641.3M-845.5,-193.0L993.0,1645.5M-849.7,-188.8L988.8,1649.7M-853.8,-184.7L984.7,1653.8M-858.0,-180.5L980.5,1658.0M-862.2,-176.3L976.3,1662.2M-866.3,-172.1L972.1,1666.3M-870.5,-168.0L968.0,1670.5M-874.7,-163.8L963.8,1674.7M-878.9,-159.6L959.6,1678.9M-883.0,-155.4L955.4,1683.0M-887.2,-151.3L951.3,1687.2M-891.4,-147.1L947.1,1691.4M-895.5,-142.9L942.9,1695.5M-899.7,-138.8L938.8,1699.7M-903.9,-134.6L934.6,1703.9M-908.1,-130.4L930.4,1708.1M-912.2,-126.2L926.2,1712.2M-916.4,-122.1L922.1,1716.4M-920.6,-117.9L917.9,1720.6M-924.7,-113.7L913.7,1724.7M-928.9,-109.6L909.6,1728.9M-933.1,-105.4L905.4,1733.1M-937.3,-101.2L901.2,1737.3M-941.4,-97.0L897.0,1741.4M-945.6,-92.9L892.9,1745.6M-949.8,-88.7L888.7,1749.8M-954.0,-84.5L884.5,1754.0M-958.1,-80.4L880.4,1758.1" class="h"/></g>
<clipPath id="cp3"><path clip-rule="evenodd" d="M231.1,286.9 L266.9,286.9 L266.9,289.5 L277.3,289.5 L277.3,300.4 L258.2,300.4 L258.2,355.5 L231.1,355.5 Z M231.1,309.2 L240.9,309.2 L240.9,314.8 L258.2,314.8 L258.2,329.8 L240.9,329.8 L240.9,335.4 L231.1,335.4 Z"/></clipPath>
<g clip-path="url(#cp3)"><path d="M122.4,-1160.9L1960.9,677.6M118.2,-1156.7L1956.7,681.8M114.1,-1152.5L1952.5,685.9M109.9,-1148.4L1948.4,690.1M105.7,-1144.2L1944.2,694.3M101.5,-1140.0L1940.0,698.5M97.4,-1135.9L1935.9,702.6M93.2,-1131.7L1931.7,706.8M89.0,-1127.5L1927.5,711.0M84.9,-1123.3L1923.3,715.1M80.7,-1119.2L1919.2,719.3M76.5,-1115.0L1915.0,723.5M72.3,-1110.8L1910.8,727.7M68.2,-1106.6L1906.6,731.8M64.0,-1102.5L1902.5,736.0M59.8,-1098.3L1898.3,740.2M55.7,-1094.1L1894.1,744.3M51.5,-1090.0L1890.0,748.5M47.3,-1085.8L1885.8,752.7M43.1,-1081.6L1881.6,756.9M39.0,-1077.4L1877.4,761.0M34.8,-1073.3L1873.3,765.2M30.6,-1069.1L1869.1,769.4M26.5,-1064.9L1864.9,773.5M22.3,-1060.8L1860.8,777.7M18.1,-1056.6L1856.6,781.9M13.9,-1052.4L1852.4,786.1M9.8,-1048.2L1848.2,790.2M5.6,-1044.1L1844.1,794.4M1.4,-1039.9L1839.9,798.6M-2.8,-1035.7L1835.7,802.8M-6.9,-1031.6L1831.6,806.9M-11.1,-1027.4L1827.4,811.1M-15.3,-1023.2L1823.2,815.3M-19.4,-1019.0L1819.0,819.4M-23.6,-1014.9L1814.9,823.6M-27.8,-1010.7L1810.7,827.8M-32.0,-1006.5L1806.5,832.0M-36.1,-1002.3L1802.3,836.1M-40.3,-998.2L1798.2,840.3M-44.5,-994.0L1794.0,844.5M-48.6,-989.8L1789.8,848.6M-52.8,-985.7L1785.7,852.8M-57.0,-981.5L1781.5,857.0M-61.2,-977.3L1777.3,861.2M-65.3,-973.1L1773.1,865.3M-69.5,-969.0L1769.0,869.5M-73.7,-964.8L1764.8,873.7M-77.8,-960.6L1760.6,877.8M-82.0,-956.5L1756.5,882.0M-86.2,-952.3L1752.3,886.2M-90.4,-948.1L1748.1,890.4M-94.5,-943.9L1743.9,894.5M-98.7,-939.8L1739.8,898.7M-102.9,-935.6L1735.6,902.9M-107.1,-931.4L1731.4,907.1M-111.2,-927.3L1727.3,911.2M-115.4,-923.1L1723.1,915.4M-119.6,-918.9L1718.9,919.6M-123.7,-914.7L1714.7,923.7M-127.9,-910.6L1710.6,927.9M-132.1,-906.4L1706.4,932.1M-136.3,-902.2L1702.2,936.3M-140.4,-898.1L1698.1,940.4M-144.6,-893.9L1693.9,944.6M-148.8,-889.7L1689.7,948.8M-152.9,-885.5L1685.5,952.9M-157.1,-881.4L1681.4,957.1M-161.3,-877.2L1677.2,961.3M-165.5,-873.0L1673.0,965.5M-169.6,-868.8L1668.8,969.6M-173.8,-864.7L1664.7,973.8M-178.0,-860.5L1660.5,978.0M-182.1,-856.3L1656.3,982.1M-186.3,-852.2L1652.2,986.3M-190.5,-848.0L1648.0,990.5M-194.7,-843.8L1643.8,994.7M-198.8,-839.6L1639.6,998.8M-203.0,-835.5L1635.5,1003.0M-207.2,-831.3L1631.3,1007.2M-211.3,-827.1L1627.1,1011.3M-215.5,-823.0L1623.0,1015.5M-219.7,-818.8L1618.8,1019.7M-223.9,-814.6L1614.6,1023.9M-228.0,-810.4L1610.4,1028.0M-232.2,-806.3L1606.3,1032.2M-236.4,-802.1L1602.1,1036.4M-240.6,-797.9L1597.9,1040.6M-244.7,-793.8L1593.8,1044.7M-248.9,-789.6L1589.6,1048.9M-253.1,-785.4L1585.4,1053.1M-257.2,-781.2L1581.2,1057.2M-261.4,-777.1L1577.1,1061.4M-265.6,-772.9L1572.9,1065.6M-269.8,-768.7L1568.7,1069.8M-273.9,-764.5L1564.5,1073.9M-278.1,-760.4L1560.4,1078.1M-282.3,-756.2L1556.2,1082.3M-286.4,-752.0L1552.0,1086.4M-290.6,-747.9L1547.9,1090.6M-294.8,-743.7L1543.7,1094.8M-299.0,-739.5L1539.5,1099.0M-303.1,-735.3L1535.3,1103.1M-307.3,-731.2L1531.2,1107.3M-311.5,-727.0L1527.0,1111.5M-315.6,-722.8L1522.8,1115.6M-319.8,-718.7L1518.7,1119.8M-324.0,-714.5L1514.5,1124.0M-328.2,-710.3L1510.3,1128.2M-332.3,-706.1L1506.1,1132.3M-336.5,-702.0L1502.0,1136.5M-340.7,-697.8L1497.8,1140.7M-344.9,-693.6L1493.6,1144.9M-349.0,-689.5L1489.5,1149.0M-353.2,-685.3L1485.3,1153.2M-357.4,-681.1L1481.1,1157.4M-361.5,-676.9L1476.9,1161.5M-365.7,-672.8L1472.8,1165.7M-369.9,-668.6L1468.6,1169.9M-374.1,-664.4L1464.4,1174.1M-378.2,-660.3L1460.3,1178.2M-382.4,-656.1L1456.1,1182.4M-386.6,-651.9L1451.9,1186.6M-390.7,-647.7L1447.7,1190.7M-394.9,-643.6L1443.6,1194.9M-399.1,-639.4L1439.4,1199.1M-403.3,-635.2L1435.2,1203.3M-407.4,-631.0L1431.0,1207.4M-411.6,-626.9L1426.9,1211.6M-415.8,-622.7L1422.7,1215.8M-419.9,-618.5L1418.5,1219.9M-424.1,-614.4L1414.4,1224.1M-428.3,-610.2L1410.2,1228.3M-432.5,-606.0L1406.0,1232.5M-436.6,-601.8L1401.8,1236.6M-440.8,-597.7L1397.7,1240.8M-445.0,-593.5L1393.5,1245.0M-449.1,-589.3L1389.3,1249.1M-453.3,-585.2L1385.2,1253.3M-457.5,-581.0L1381.0,1257.5M-461.7,-576.8L1376.8,1261.7M-465.8,-572.6L1372.6,1265.8M-470.0,-568.5L1368.5,1270.0M-474.2,-564.3L1364.3,1274.2M-478.4,-560.1L1360.1,1278.4M-482.5,-556.0L1356.0,1282.5M-486.7,-551.8L1351.8,1286.7M-490.9,-547.6L1347.6,1290.9M-495.0,-543.4L1343.4,1295.0M-499.2,-539.3L1339.3,1299.2M-503.4,-535.1L1335.1,1303.4M-507.6,-530.9L1330.9,1307.6M-511.7,-526.7L1326.7,1311.7M-515.9,-522.6L1322.6,1315.9M-520.1,-518.4L1318.4,1320.1M-524.2,-514.2L1314.2,1324.2M-528.4,-510.1L1310.1,1328.4M-532.6,-505.9L1305.9,1332.6M-536.8,-501.7L1301.7,1336.8M-540.9,-497.5L1297.5,1340.9M-545.1,-493.4L1293.4,1345.1M-549.3,-489.2L1289.2,1349.3M-553.4,-485.0L1285.0,1353.4M-557.6,-480.9L1280.9,1357.6M-561.8,-476.7L1276.7,1361.8M-566.0,-472.5L1272.5,1366.0M-570.1,-468.3L1268.3,1370.1M-574.3,-464.2L1264.2,1374.3M-578.5,-460.0L1260.0,1378.5M-582.7,-455.8L1255.8,1382.7M-586.8,-451.7L1251.7,1386.8M-591.0,-447.5L1247.5,1391.0M-595.2,-443.3L1243.3,1395.2M-599.3,-439.1L1239.1,1399.3M-603.5,-435.0L1235.0,1403.5M-607.7,-430.8L1230.8,1407.7M-611.9,-426.6L1226.6,1411.9M-616.0,-422.5L1222.5,1416.0M-620.2,-418.3L1218.3,1420.2M-624.4,-414.1L1214.1,1424.4M-628.5,-409.9L1209.9,1428.5M-632.7,-405.8L1205.8,1432.7M-636.9,-401.6L1201.6,1436.9M-641.1,-397.4L1197.4,1441.1M-645.2,-393.2L1193.2,1445.2M-649.4,-389.1L1189.1,1449.4M-653.6,-384.9L1184.9,1453.6M-657.7,-380.7L1180.7,1457.7M-661.9,-376.6L1176.6,1461.9M-666.1,-372.4L1172.4,1466.1M-670.3,-368.2L1168.2,1470.3M-674.4,-364.0L1164.0,1474.4M-678.6,-359.9L1159.9,1478.6M-682.8,-355.7L1155.7,1482.8M-686.9,-351.5L1151.5,1486.9M-691.1,-347.4L1147.4,1491.1M-695.3,-343.2L1143.2,1495.3M-699.5,-339.0L1139.0,1499.5M-703.6,-334.8L1134.8,1503.6M-707.8,-330.7L1130.7,1507.8M-712.0,-326.5L1126.5,1512.0M-716.2,-322.3L1122.3,1516.2M-720.3,-318.2L1118.2,1520.3M-724.5,-314.0L1114.0,1524.5M-728.7,-309.8L1109.8,1528.7M-732.8,-305.6L1105.6,1532.8M-737.0,-301.5L1101.5,1537.0M-741.2,-297.3L1097.3,1541.2M-745.4,-293.1L1093.1,1545.4M-749.5,-288.9L1088.9,1549.5M-753.7,-284.8L1084.8,1553.7M-757.9,-280.6L1080.6,1557.9M-762.0,-276.4L1076.4,1562.0M-766.2,-272.3L1072.3,1566.2M-770.4,-268.1L1068.1,1570.4M-774.6,-263.9L1063.9,1574.6M-778.7,-259.7L1059.7,1578.7M-782.9,-255.6L1055.6,1582.9M-787.1,-251.4L1051.4,1587.1M-791.2,-247.2L1047.2,1591.2M-795.4,-243.1L1043.1,1595.4M-799.6,-238.9L1038.9,1599.6M-803.8,-234.7L1034.7,1603.8M-807.9,-230.5L1030.5,1607.9M-812.1,-226.4L1026.4,1612.1M-816.3,-222.2L1022.2,1616.3M-820.5,-218.0L1018.0,1620.5M-824.6,-213.9L1013.9,1624.6M-828.8,-209.7L1009.7,1628.8M-833.0,-205.5L1005.5,1633.0M-837.1,-201.3L1001.3,1637.1M-841.3,-197.2L997.2,1641.3M-845.5,-193.0L993.0,1645.5M-849.7,-188.8L988.8,1649.7M-853.8,-184.7L984.7,1653.8M-858.0,-180.5L980.5,1658.0M-862.2,-176.3L976.3,1662.2M-866.3,-172.1L972.1,1666.3M-870.5,-168.0L968.0,1670.5M-874.7,-163.8L963.8,1674.7M-878.9,-159.6L959.6,1678.9M-883.0,-155.4L955.4,1683.0M-887.2,-151.3L951.3,1687.2M-891.4,-147.1L947.1,1691.4M-895.5,-142.9L942.9,1695.5M-899.7,-138.8L938.8,1699.7M-903.9,-134.6L934.6,1703.9M-908.1,-130.4L930.4,1708.1M-912.2,-126.2L926.2,1712.2M-916.4,-122.1L922.1,1716.4M-920.6,-117.9L917.9,1720.6M-924.7,-113.7L913.7,1724.7M-928.9,-109.6L909.6,1728.9M-933.1,-105.4L905.4,1733.1M-937.3,-101.2L901.2,1737.3M-941.4,-97.0L897.0,1741.4M-945.6,-92.9L892.9,1745.6M-949.8,-88.7L888.7,1749.8M-954.0,-84.5L884.5,1754.0M-958.1,-80.4L880.4,1758.1" class="h"/></g>
<path d="M260,278 L266,278 L266,285 L260,285" class="t"/>
<line x1="228.5" y1="267" x2="228.5" y2="292" class="t"/>
<path d="M226.5,271 L226.5,286 M230,271 L230,286" class="d"/>
<rect x="224.1" y="309.2" width="16.8" height="5.6" class="blk"/>
<rect x="224.1" y="329.8" width="16.8" height="5.6" class="blk"/>
<rect x="233" y="310.6" width="6" height="2.6" class="w"/>
<rect x="233" y="331.4" width="6" height="2.4" class="w"/>
<line x1="224.7" y1="314.8" x2="258.2" y2="314.8" class="m"/>
<line x1="224.7" y1="329.8" x2="258.2" y2="329.8" class="m"/>
<line x1="239.2" y1="314.8" x2="239.2" y2="329.8" class="t"/>
<line x1="244.3" y1="314.8" x2="244.3" y2="329.8" class="t"/>
<line x1="246" y1="314.8" x2="246" y2="329.8" class="t"/>
<path d="M224.1,316 L197.5,316 Q195.5,316 195.5,318 L195.5,326.5 Q195.5,328.5 197.5,328.5 L224.1,328.5" class="m"/>
<line x1="195.5" y1="319" x2="224.2" y2="319" class="m"/>
<line x1="195.5" y1="325.6" x2="224.2" y2="325.6" class="m"/>
<line x1="258.2" y1="315.5" x2="327.6" y2="315.5" class="m"/>
<line x1="258.2" y1="330.5" x2="327.6" y2="330.5" class="m"/>
<path d="M262,303 L264,310 L266,303 L268,310 M270,303 L272,310 L274,303" class="t"/>
<path d="M259,330 Q262,341 272,341.4 M262,331 Q266,338 277,339" class="ph"/>
<path d="M223,305.9 L191,305.9 Q185.4,305.9 185.4,311.5 L185.4,333.5 Q185.4,338.9 191,338.9 L223,338.9" class="ph"/>
<line x1="327.6" y1="312.5" x2="327.6" y2="331.8" class="k"/>
<line x1="327.6" y1="312.9" x2="704" y2="312.9" class="m2"/>
<line x1="327.6" y1="332" x2="704" y2="332" class="m"/>
<line x1="266" y1="315.4" x2="704" y2="315.4" class="thr"/>
<line x1="266" y1="318.6" x2="704" y2="318.6" class="thr2"/>
<line x1="327.6" y1="330.4" x2="704" y2="330.4" class="thr2"/>
<line x1="258" y1="322.6" x2="722" y2="322.6" class="c"/>
<line x1="180" y1="322.6" x2="258" y2="322.6" class="c"/>
<path d="M663,303.2 L594,303.2 L594,312 L698,312" class="m"/>
<rect x="594" y="303.2" width="2.4" height="8.8" class="blk"/>
<path d="M596,332.4 L704,332.4 L704,335 L596,335 Z" class="t"/>
<clipPath id="cp4"><path clip-rule="nonzero" d="M596,332.4 L704,332.4 L704,335 L596,335 Z"/></clipPath>
<g clip-path="url(#cp4)"><path d="M-786.9,851.5L1051.5,-986.9M-784.1,854.4L1054.4,-984.1M-781.3,857.2L1057.2,-981.3M-778.4,860.0L1060.0,-978.4M-775.6,862.9L1062.9,-975.6M-772.8,865.7L1065.7,-972.8M-770.0,868.5L1068.5,-970.0M-767.1,871.3L1071.3,-967.1M-764.3,874.2L1074.2,-964.3M-761.5,877.0L1077.0,-961.5M-758.7,879.8L1079.8,-958.7M-755.8,882.7L1082.7,-955.8M-753.0,885.5L1085.5,-953.0M-750.2,888.3L1088.3,-950.2M-747.3,891.1L1091.1,-947.3M-744.5,894.0L1094.0,-944.5M-741.7,896.8L1096.8,-941.7M-738.9,899.6L1099.6,-938.9M-736.0,902.5L1102.5,-936.0M-733.2,905.3L1105.3,-933.2M-730.4,908.1L1108.1,-930.4M-727.5,910.9L1110.9,-927.5M-724.7,913.8L1113.8,-924.7M-721.9,916.6L1116.6,-921.9M-719.1,919.4L1119.4,-919.1M-716.2,922.3L1122.3,-916.2M-713.4,925.1L1125.1,-913.4M-710.6,927.9L1127.9,-910.6M-707.7,930.7L1130.7,-907.7M-704.9,933.6L1133.6,-904.9M-702.1,936.4L1136.4,-902.1M-699.3,939.2L1139.2,-899.3M-696.4,942.1L1142.1,-896.4M-693.6,944.9L1144.9,-893.6M-690.8,947.7L1147.7,-890.8M-687.9,950.5L1150.5,-887.9M-685.1,953.4L1153.4,-885.1M-682.3,956.2L1156.2,-882.3M-679.5,959.0L1159.0,-879.5M-676.6,961.9L1161.9,-876.6M-673.8,964.7L1164.7,-873.8M-671.0,967.5L1167.5,-871.0M-668.1,970.3L1170.3,-868.1M-665.3,973.2L1173.2,-865.3M-662.5,976.0L1176.0,-862.5M-659.7,978.8L1178.8,-859.7M-656.8,981.7L1181.7,-856.8M-654.0,984.5L1184.5,-854.0M-651.2,987.3L1187.3,-851.2M-648.3,990.1L1190.1,-848.3M-645.5,993.0L1193.0,-845.5M-642.7,995.8L1195.8,-842.7M-639.9,998.6L1198.6,-839.9M-637.0,1001.4L1201.4,-837.0M-634.2,1004.3L1204.3,-834.2M-631.4,1007.1L1207.1,-831.4M-628.5,1009.9L1209.9,-828.5M-625.7,1012.8L1212.8,-825.7M-622.9,1015.6L1215.6,-822.9M-620.1,1018.4L1218.4,-820.1M-617.2,1021.2L1221.2,-817.2M-614.4,1024.1L1224.1,-814.4M-611.6,1026.9L1226.9,-811.6M-608.7,1029.7L1229.7,-808.7M-605.9,1032.6L1232.6,-805.9M-603.1,1035.4L1235.4,-803.1M-600.3,1038.2L1238.2,-800.3M-597.4,1041.0L1241.0,-797.4M-594.6,1043.9L1243.9,-794.6M-591.8,1046.7L1246.7,-791.8M-588.9,1049.5L1249.5,-788.9M-586.1,1052.4L1252.4,-786.1M-583.3,1055.2L1255.2,-783.3M-580.5,1058.0L1258.0,-780.5M-577.6,1060.8L1260.8,-777.6M-574.8,1063.7L1263.7,-774.8M-572.0,1066.5L1266.5,-772.0M-569.1,1069.3L1269.3,-769.1M-566.3,1072.2L1272.2,-766.3M-563.5,1075.0L1275.0,-763.5M-560.7,1077.8L1277.8,-760.7M-557.8,1080.6L1280.6,-757.8M-555.0,1083.5L1283.5,-755.0M-552.2,1086.3L1286.3,-752.2M-549.3,1089.1L1289.1,-749.3M-546.5,1092.0L1292.0,-746.5M-543.7,1094.8L1294.8,-743.7M-540.9,1097.6L1297.6,-740.9M-538.0,1100.4L1300.4,-738.0M-535.2,1103.3L1303.3,-735.2M-532.4,1106.1L1306.1,-732.4M-529.5,1108.9L1308.9,-729.5M-526.7,1111.8L1311.8,-726.7M-523.9,1114.6L1314.6,-723.9M-521.1,1117.4L1317.4,-721.1M-518.2,1120.2L1320.2,-718.2M-515.4,1123.1L1323.1,-715.4M-512.6,1125.9L1325.9,-712.6M-509.7,1128.7L1328.7,-709.7M-506.9,1131.6L1331.6,-706.9M-504.1,1134.4L1334.4,-704.1M-501.3,1137.2L1337.2,-701.3M-498.4,1140.0L1340.0,-698.4M-495.6,1142.9L1342.9,-695.6M-492.8,1145.7L1345.7,-692.8M-489.9,1148.5L1348.5,-689.9M-487.1,1151.4L1351.4,-687.1M-484.3,1154.2L1354.2,-684.3M-481.5,1157.0L1357.0,-681.5M-478.6,1159.8L1359.8,-678.6M-475.8,1162.7L1362.7,-675.8M-473.0,1165.5L1365.5,-673.0M-470.2,1168.3L1368.3,-670.2M-467.3,1171.2L1371.2,-667.3M-464.5,1174.0L1374.0,-664.5M-461.7,1176.8L1376.8,-661.7M-458.8,1179.6L1379.6,-658.8M-456.0,1182.5L1382.5,-656.0M-453.2,1185.3L1385.3,-653.2M-450.4,1188.1L1388.1,-650.4M-447.5,1191.0L1391.0,-647.5M-444.7,1193.8L1393.8,-644.7M-441.9,1196.6L1396.6,-641.9M-439.0,1199.4L1399.4,-639.0M-436.2,1202.3L1402.3,-636.2M-433.4,1205.1L1405.1,-633.4M-430.6,1207.9L1407.9,-630.6M-427.7,1210.8L1410.8,-627.7M-424.9,1213.6L1413.6,-624.9M-422.1,1216.4L1416.4,-622.1M-419.2,1219.2L1419.2,-619.2M-416.4,1222.1L1422.1,-616.4M-413.6,1224.9L1424.9,-613.6M-410.8,1227.7L1427.7,-610.8M-407.9,1230.6L1430.6,-607.9M-405.1,1233.4L1433.4,-605.1M-402.3,1236.2L1436.2,-602.3M-399.4,1239.0L1439.0,-599.4M-396.6,1241.9L1441.9,-596.6M-393.8,1244.7L1444.7,-593.8M-391.0,1247.5L1447.5,-591.0M-388.1,1250.4L1450.4,-588.1M-385.3,1253.2L1453.2,-585.3M-382.5,1256.0L1456.0,-582.5M-379.6,1258.8L1458.8,-579.6M-376.8,1261.7L1461.7,-576.8M-374.0,1264.5L1464.5,-574.0M-371.2,1267.3L1467.3,-571.2M-368.3,1270.2L1470.2,-568.3M-365.5,1273.0L1473.0,-565.5M-362.7,1275.8L1475.8,-562.7M-359.8,1278.6L1478.6,-559.8M-357.0,1281.5L1481.5,-557.0M-354.2,1284.3L1484.3,-554.2M-351.4,1287.1L1487.1,-551.4M-348.5,1289.9L1489.9,-548.5M-345.7,1292.8L1492.8,-545.7M-342.9,1295.6L1495.6,-542.9M-340.0,1298.4L1498.4,-540.0M-337.2,1301.3L1501.3,-537.2M-334.4,1304.1L1504.1,-534.4M-331.6,1306.9L1506.9,-531.6M-328.7,1309.7L1509.7,-528.7M-325.9,1312.6L1512.6,-525.9M-323.1,1315.4L1515.4,-523.1M-320.2,1318.2L1518.2,-520.2M-317.4,1321.1L1521.1,-517.4M-314.6,1323.9L1523.9,-514.6M-311.8,1326.7L1526.7,-511.8M-308.9,1329.5L1529.5,-508.9M-306.1,1332.4L1532.4,-506.1M-303.3,1335.2L1535.2,-503.3M-300.4,1338.0L1538.0,-500.4M-297.6,1340.9L1540.9,-497.6M-294.8,1343.7L1543.7,-494.8M-292.0,1346.5L1546.5,-492.0M-289.1,1349.3L1549.3,-489.1M-286.3,1352.2L1552.2,-486.3M-283.5,1355.0L1555.0,-483.5M-280.6,1357.8L1557.8,-480.6M-277.8,1360.7L1560.7,-477.8M-275.0,1363.5L1563.5,-475.0M-272.2,1366.3L1566.3,-472.2M-269.3,1369.1L1569.1,-469.3M-266.5,1372.0L1572.0,-466.5M-263.7,1374.8L1574.8,-463.7M-260.8,1377.6L1577.6,-460.8M-258.0,1380.5L1580.5,-458.0M-255.2,1383.3L1583.3,-455.2M-252.4,1386.1L1586.1,-452.4M-249.5,1388.9L1588.9,-449.5M-246.7,1391.8L1591.8,-446.7M-243.9,1394.6L1594.6,-443.9M-241.0,1397.4L1597.4,-441.0M-238.2,1400.3L1600.3,-438.2M-235.4,1403.1L1603.1,-435.4M-232.6,1405.9L1605.9,-432.6M-229.7,1408.7L1608.7,-429.7M-226.9,1411.6L1611.6,-426.9M-224.1,1414.4L1614.4,-424.1M-221.2,1417.2L1617.2,-421.2M-218.4,1420.1L1620.1,-418.4M-215.6,1422.9L1622.9,-415.6M-212.8,1425.7L1625.7,-412.8M-209.9,1428.5L1628.5,-409.9M-207.1,1431.4L1631.4,-407.1M-204.3,1434.2L1634.2,-404.3M-201.4,1437.0L1637.0,-401.4M-198.6,1439.9L1639.9,-398.6M-195.8,1442.7L1642.7,-395.8M-193.0,1445.5L1645.5,-393.0M-190.1,1448.3L1648.3,-390.1M-187.3,1451.2L1651.2,-387.3M-184.5,1454.0L1654.0,-384.5M-181.7,1456.8L1656.8,-381.7M-178.8,1459.7L1659.7,-378.8M-176.0,1462.5L1662.5,-376.0M-173.2,1465.3L1665.3,-373.2M-170.3,1468.1L1668.1,-370.3M-167.5,1471.0L1671.0,-367.5M-164.7,1473.8L1673.8,-364.7M-161.9,1476.6L1676.6,-361.9M-159.0,1479.5L1679.5,-359.0M-156.2,1482.3L1682.3,-356.2M-153.4,1485.1L1685.1,-353.4M-150.5,1487.9L1687.9,-350.5M-147.7,1490.8L1690.8,-347.7M-144.9,1493.6L1693.6,-344.9M-142.1,1496.4L1696.4,-342.1M-139.2,1499.3L1699.3,-339.2M-136.4,1502.1L1702.1,-336.4M-133.6,1504.9L1704.9,-333.6M-130.7,1507.7L1707.7,-330.7M-127.9,1510.6L1710.6,-327.9M-125.1,1513.4L1713.4,-325.1M-122.3,1516.2L1716.2,-322.3M-119.4,1519.1L1719.1,-319.4M-116.6,1521.9L1721.9,-316.6M-113.8,1524.7L1724.7,-313.8M-110.9,1527.5L1727.5,-310.9M-108.1,1530.4L1730.4,-308.1M-105.3,1533.2L1733.2,-305.3M-102.5,1536.0L1736.0,-302.5M-99.6,1538.9L1738.9,-299.6M-96.8,1541.7L1741.7,-296.8M-94.0,1544.5L1744.5,-294.0M-91.1,1547.3L1747.3,-291.1M-88.3,1550.2L1750.2,-288.3M-85.5,1553.0L1753.0,-285.5M-82.7,1555.8L1755.8,-282.7M-79.8,1558.7L1758.7,-279.8M-77.0,1561.5L1761.5,-277.0M-74.2,1564.3L1764.3,-274.2M-71.3,1567.1L1767.1,-271.3M-68.5,1570.0L1770.0,-268.5M-65.7,1572.8L1772.8,-265.7M-62.9,1575.6L1775.6,-262.9M-60.0,1578.4L1778.4,-260.0M-57.2,1581.3L1781.3,-257.2M-54.4,1584.1L1784.1,-254.4" class="h"/></g>
<circle cx="596" cy="333.6" r="1.2" class="blk"/>
<path d="M627.5,270.4 L729,270.4 L729,300.5 M704,300.5 L627.5,300.5 L627.5,270.4" class="m"/>
<line x1="627.5" y1="301.8" x2="663" y2="301.8" class="t"/>
<clipPath id="cp5"><path clip-rule="nonzero" d="M627.5,270.4 L704,270.4 L704,273.3 L627.5,273.3 Z"/></clipPath>
<g clip-path="url(#cp5)"><path d="M-658.2,980.2L1180.2,-858.2M-656.4,982.1L1182.1,-856.4M-654.6,983.9L1183.9,-854.6M-652.7,985.8L1185.8,-852.7M-650.9,987.6L1187.6,-850.9M-649.0,989.4L1189.4,-849.0M-647.2,991.3L1191.3,-847.2M-645.4,993.1L1193.1,-845.4M-643.5,994.9L1194.9,-843.5M-641.7,996.8L1196.8,-841.7M-639.9,998.6L1198.6,-839.9M-638.0,1000.5L1200.5,-838.0M-636.2,1002.3L1202.3,-836.2M-634.3,1004.1L1204.1,-834.3M-632.5,1006.0L1206.0,-832.5M-630.7,1007.8L1207.8,-830.7M-628.8,1009.7L1209.7,-828.8M-627.0,1011.5L1211.5,-827.0M-625.1,1013.3L1213.3,-825.1M-623.3,1015.2L1215.2,-823.3M-621.5,1017.0L1217.0,-821.5M-619.6,1018.8L1218.8,-819.6M-617.8,1020.7L1220.7,-817.8M-616.0,1022.5L1222.5,-816.0M-614.1,1024.4L1224.4,-814.1M-612.3,1026.2L1226.2,-812.3M-610.4,1028.0L1228.0,-810.4M-608.6,1029.9L1229.9,-808.6M-606.8,1031.7L1231.7,-806.8M-604.9,1033.6L1233.6,-804.9M-603.1,1035.4L1235.4,-803.1M-601.2,1037.2L1237.2,-801.2M-599.4,1039.1L1239.1,-799.4M-597.6,1040.9L1240.9,-797.6M-595.7,1042.7L1242.7,-795.7M-593.9,1044.6L1244.6,-793.9M-592.1,1046.4L1246.4,-792.1M-590.2,1048.3L1248.3,-790.2M-588.4,1050.1L1250.1,-788.4M-586.5,1051.9L1251.9,-786.5M-584.7,1053.8L1253.8,-784.7M-582.9,1055.6L1255.6,-782.9M-581.0,1057.5L1257.5,-781.0M-579.2,1059.3L1259.3,-779.2M-577.3,1061.1L1261.1,-777.3M-575.5,1063.0L1263.0,-775.5M-573.7,1064.8L1264.8,-773.7M-571.8,1066.6L1266.6,-771.8M-570.0,1068.5L1268.5,-770.0M-568.2,1070.3L1270.3,-768.2M-566.3,1072.2L1272.2,-766.3M-564.5,1074.0L1274.0,-764.5M-562.6,1075.8L1275.8,-762.6M-560.8,1077.7L1277.7,-760.8M-559.0,1079.5L1279.5,-759.0M-557.1,1081.4L1281.4,-757.1M-555.3,1083.2L1283.2,-755.3M-553.4,1085.0L1285.0,-753.4M-551.6,1086.9L1286.9,-751.6M-549.8,1088.7L1288.7,-749.8M-547.9,1090.5L1290.5,-747.9M-546.1,1092.4L1292.4,-746.1M-544.3,1094.2L1294.2,-744.3M-542.4,1096.1L1296.1,-742.4M-540.6,1097.9L1297.9,-740.6M-538.7,1099.7L1299.7,-738.7M-536.9,1101.6L1301.6,-736.9M-535.1,1103.4L1303.4,-735.1M-533.2,1105.3L1305.3,-733.2M-531.4,1107.1L1307.1,-731.4M-529.5,1108.9L1308.9,-729.5M-527.7,1110.8L1310.8,-727.7M-525.9,1112.6L1312.6,-725.9M-524.0,1114.4L1314.4,-724.0M-522.2,1116.3L1316.3,-722.2M-520.4,1118.1L1318.1,-720.4M-518.5,1120.0L1320.0,-718.5M-516.7,1121.8L1321.8,-716.7M-514.8,1123.6L1323.6,-714.8M-513.0,1125.5L1325.5,-713.0M-511.2,1127.3L1327.3,-711.2M-509.3,1129.2L1329.2,-709.3M-507.5,1131.0L1331.0,-707.5M-505.6,1132.8L1332.8,-705.6M-503.8,1134.7L1334.7,-703.8M-502.0,1136.5L1336.5,-702.0M-500.1,1138.3L1338.3,-700.1M-498.3,1140.2L1340.2,-698.3M-496.5,1142.0L1342.0,-696.5M-494.6,1143.9L1343.9,-694.6M-492.8,1145.7L1345.7,-692.8M-490.9,1147.5L1347.5,-690.9M-489.1,1149.4L1349.4,-689.1M-487.3,1151.2L1351.2,-687.3M-485.4,1153.1L1353.1,-685.4M-483.6,1154.9L1354.9,-683.6M-481.7,1156.7L1356.7,-681.7M-479.9,1158.6L1358.6,-679.9M-478.1,1160.4L1360.4,-678.1M-476.2,1162.2L1362.2,-676.2M-474.4,1164.1L1364.1,-674.4M-472.6,1165.9L1365.9,-672.6M-470.7,1167.8L1367.8,-670.7M-468.9,1169.6L1369.6,-668.9M-467.0,1171.4L1371.4,-667.0M-465.2,1173.3L1373.3,-665.2M-463.4,1175.1L1375.1,-663.4M-461.5,1177.0L1377.0,-661.5M-459.7,1178.8L1378.8,-659.7M-457.8,1180.6L1380.6,-657.8M-456.0,1182.5L1382.5,-656.0M-454.2,1184.3L1384.3,-654.2M-452.3,1186.1L1386.1,-652.3M-450.5,1188.0L1388.0,-650.5M-448.7,1189.8L1389.8,-648.7M-446.8,1191.7L1391.7,-646.8M-445.0,1193.5L1393.5,-645.0M-443.1,1195.3L1395.3,-643.1M-441.3,1197.2L1397.2,-641.3M-439.5,1199.0L1399.0,-639.5M-437.6,1200.9L1400.9,-637.6M-435.8,1202.7L1402.7,-635.8M-433.9,1204.5L1404.5,-633.9M-432.1,1206.4L1406.4,-632.1M-430.3,1208.2L1408.2,-630.3M-428.4,1210.0L1410.0,-628.4M-426.6,1211.9L1411.9,-626.6M-424.8,1213.7L1413.7,-624.8M-422.9,1215.6L1415.6,-622.9M-421.1,1217.4L1417.4,-621.1M-419.2,1219.2L1419.2,-619.2M-417.4,1221.1L1421.1,-617.4M-415.6,1222.9L1422.9,-615.6M-413.7,1224.8L1424.8,-613.7M-411.9,1226.6L1426.6,-611.9M-410.0,1228.4L1428.4,-610.0M-408.2,1230.3L1430.3,-608.2M-406.4,1232.1L1432.1,-606.4M-404.5,1233.9L1433.9,-604.5M-402.7,1235.8L1435.8,-602.7M-400.9,1237.6L1437.6,-600.9M-399.0,1239.5L1439.5,-599.0M-397.2,1241.3L1441.3,-597.2M-395.3,1243.1L1443.1,-595.3M-393.5,1245.0L1445.0,-593.5M-391.7,1246.8L1446.8,-591.7M-389.8,1248.7L1448.7,-589.8M-388.0,1250.5L1450.5,-588.0M-386.1,1252.3L1452.3,-586.1M-384.3,1254.2L1454.2,-584.3M-382.5,1256.0L1456.0,-582.5M-380.6,1257.8L1457.8,-580.6M-378.8,1259.7L1459.7,-578.8M-377.0,1261.5L1461.5,-577.0M-375.1,1263.4L1463.4,-575.1M-373.3,1265.2L1465.2,-573.3M-371.4,1267.0L1467.0,-571.4M-369.6,1268.9L1468.9,-569.6M-367.8,1270.7L1470.7,-567.8M-365.9,1272.6L1472.6,-565.9M-364.1,1274.4L1474.4,-564.1M-362.2,1276.2L1476.2,-562.2M-360.4,1278.1L1478.1,-560.4M-358.6,1279.9L1479.9,-558.6M-356.7,1281.7L1481.7,-556.7M-354.9,1283.6L1483.6,-554.9M-353.1,1285.4L1485.4,-553.1M-351.2,1287.3L1487.3,-551.2M-349.4,1289.1L1489.1,-549.4M-347.5,1290.9L1490.9,-547.5M-345.7,1292.8L1492.8,-545.7M-343.9,1294.6L1494.6,-543.9M-342.0,1296.5L1496.5,-542.0M-340.2,1298.3L1498.3,-540.2M-338.3,1300.1L1500.1,-538.3M-336.5,1302.0L1502.0,-536.5M-334.7,1303.8L1503.8,-534.7M-332.8,1305.6L1505.6,-532.8M-331.0,1307.5L1507.5,-531.0M-329.2,1309.3L1509.3,-529.2M-327.3,1311.2L1511.2,-527.3M-325.5,1313.0L1513.0,-525.5M-323.6,1314.8L1514.8,-523.6M-321.8,1316.7L1516.7,-521.8M-320.0,1318.5L1518.5,-520.0M-318.1,1320.4L1520.4,-518.1M-316.3,1322.2L1522.2,-516.3M-314.4,1324.0L1524.0,-514.4M-312.6,1325.9L1525.9,-512.6M-310.8,1327.7L1527.7,-510.8M-308.9,1329.5L1529.5,-508.9M-307.1,1331.4L1531.4,-507.1M-305.3,1333.2L1533.2,-505.3M-303.4,1335.1L1535.1,-503.4M-301.6,1336.9L1536.9,-501.6M-299.7,1338.7L1538.7,-499.7M-297.9,1340.6L1540.6,-497.9M-296.1,1342.4L1542.4,-496.1M-294.2,1344.3L1544.3,-494.2M-292.4,1346.1L1546.1,-492.4M-290.5,1347.9L1547.9,-490.5M-288.7,1349.8L1549.8,-488.7M-286.9,1351.6L1551.6,-486.9M-285.0,1353.4L1553.4,-485.0M-283.2,1355.3L1555.3,-483.2M-281.4,1357.1L1557.1,-481.4M-279.5,1359.0L1559.0,-479.5M-277.7,1360.8L1560.8,-477.7M-275.8,1362.6L1562.6,-475.8M-274.0,1364.5L1564.5,-474.0M-272.2,1366.3L1566.3,-472.2M-270.3,1368.2L1568.2,-470.3M-268.5,1370.0L1570.0,-468.5M-266.6,1371.8L1571.8,-466.6M-264.8,1373.7L1573.7,-464.8M-263.0,1375.5L1575.5,-463.0M-261.1,1377.3L1577.3,-461.1M-259.3,1379.2L1579.2,-459.3M-257.5,1381.0L1581.0,-457.5M-255.6,1382.9L1582.9,-455.6M-253.8,1384.7L1584.7,-453.8M-251.9,1386.5L1586.5,-451.9M-250.1,1388.4L1588.4,-450.1M-248.3,1390.2L1590.2,-448.3M-246.4,1392.1L1592.1,-446.4M-244.6,1393.9L1593.9,-444.6M-242.7,1395.7L1595.7,-442.7M-240.9,1397.6L1597.6,-440.9M-239.1,1399.4L1599.4,-439.1M-237.2,1401.2L1601.2,-437.2M-235.4,1403.1L1603.1,-435.4M-233.6,1404.9L1604.9,-433.6M-231.7,1406.8L1606.8,-431.7M-229.9,1408.6L1608.6,-429.9M-228.0,1410.4L1610.4,-428.0M-226.2,1412.3L1612.3,-426.2M-224.4,1414.1L1614.1,-424.4M-222.5,1416.0L1616.0,-422.5M-220.7,1417.8L1617.8,-420.7M-218.8,1419.6L1619.6,-418.8M-217.0,1421.5L1621.5,-417.0M-215.2,1423.3L1623.3,-415.2M-213.3,1425.1L1625.1,-413.3M-211.5,1427.0L1627.0,-411.5M-209.7,1428.8L1628.8,-409.7M-207.8,1430.7L1630.7,-407.8M-206.0,1432.5L1632.5,-406.0M-204.1,1434.3L1634.3,-404.1M-202.3,1436.2L1636.2,-402.3M-200.5,1438.0L1638.0,-400.5M-198.6,1439.9L1639.9,-398.6M-196.8,1441.7L1641.7,-396.8M-194.9,1443.5L1643.5,-394.9M-193.1,1445.4L1645.4,-393.1M-191.3,1447.2L1647.2,-391.3M-189.4,1449.0L1649.0,-389.4M-187.6,1450.9L1650.9,-387.6M-185.8,1452.7L1652.7,-385.8M-183.9,1454.6L1654.6,-383.9M-182.1,1456.4L1656.4,-382.1" class="h"/></g>
<line x1="627.5" y1="273.3" x2="704" y2="273.3" class="t"/>
<clipPath id="cp6"><path clip-rule="nonzero" d="M627.5,273.3 L650.3,273.3 L652.9,276.8 L666,293.8 Q667,298 663.4,300.5 L627.5,300.5 Z"/></clipPath>
<g clip-path="url(#cp6)"><path d="M-51.5,-986.9L1786.9,851.5M-54.4,-984.1L1784.1,854.4M-57.2,-981.3L1781.3,857.2M-60.0,-978.4L1778.4,860.0M-62.9,-975.6L1775.6,862.9M-65.7,-972.8L1772.8,865.7M-68.5,-970.0L1770.0,868.5M-71.3,-967.1L1767.1,871.3M-74.2,-964.3L1764.3,874.2M-77.0,-961.5L1761.5,877.0M-79.8,-958.7L1758.7,879.8M-82.7,-955.8L1755.8,882.7M-85.5,-953.0L1753.0,885.5M-88.3,-950.2L1750.2,888.3M-91.1,-947.3L1747.3,891.1M-94.0,-944.5L1744.5,894.0M-96.8,-941.7L1741.7,896.8M-99.6,-938.9L1738.9,899.6M-102.5,-936.0L1736.0,902.5M-105.3,-933.2L1733.2,905.3M-108.1,-930.4L1730.4,908.1M-110.9,-927.5L1727.5,910.9M-113.8,-924.7L1724.7,913.8M-116.6,-921.9L1721.9,916.6M-119.4,-919.1L1719.1,919.4M-122.3,-916.2L1716.2,922.3M-125.1,-913.4L1713.4,925.1M-127.9,-910.6L1710.6,927.9M-130.7,-907.7L1707.7,930.7M-133.6,-904.9L1704.9,933.6M-136.4,-902.1L1702.1,936.4M-139.2,-899.3L1699.3,939.2M-142.1,-896.4L1696.4,942.1M-144.9,-893.6L1693.6,944.9M-147.7,-890.8L1690.8,947.7M-150.5,-887.9L1687.9,950.5M-153.4,-885.1L1685.1,953.4M-156.2,-882.3L1682.3,956.2M-159.0,-879.5L1679.5,959.0M-161.9,-876.6L1676.6,961.9M-164.7,-873.8L1673.8,964.7M-167.5,-871.0L1671.0,967.5M-170.3,-868.1L1668.1,970.3M-173.2,-865.3L1665.3,973.2M-176.0,-862.5L1662.5,976.0M-178.8,-859.7L1659.7,978.8M-181.7,-856.8L1656.8,981.7M-184.5,-854.0L1654.0,984.5M-187.3,-851.2L1651.2,987.3M-190.1,-848.3L1648.3,990.1M-193.0,-845.5L1645.5,993.0M-195.8,-842.7L1642.7,995.8M-198.6,-839.9L1639.9,998.6M-201.4,-837.0L1637.0,1001.4M-204.3,-834.2L1634.2,1004.3M-207.1,-831.4L1631.4,1007.1M-209.9,-828.5L1628.5,1009.9M-212.8,-825.7L1625.7,1012.8M-215.6,-822.9L1622.9,1015.6M-218.4,-820.1L1620.1,1018.4M-221.2,-817.2L1617.2,1021.2M-224.1,-814.4L1614.4,1024.1M-226.9,-811.6L1611.6,1026.9M-229.7,-808.7L1608.7,1029.7M-232.6,-805.9L1605.9,1032.6M-235.4,-803.1L1603.1,1035.4M-238.2,-800.3L1600.3,1038.2M-241.0,-797.4L1597.4,1041.0M-243.9,-794.6L1594.6,1043.9M-246.7,-791.8L1591.8,1046.7M-249.5,-788.9L1588.9,1049.5M-252.4,-786.1L1586.1,1052.4M-255.2,-783.3L1583.3,1055.2M-258.0,-780.5L1580.5,1058.0M-260.8,-777.6L1577.6,1060.8M-263.7,-774.8L1574.8,1063.7M-266.5,-772.0L1572.0,1066.5M-269.3,-769.1L1569.1,1069.3M-272.2,-766.3L1566.3,1072.2M-275.0,-763.5L1563.5,1075.0M-277.8,-760.7L1560.7,1077.8M-280.6,-757.8L1557.8,1080.6M-283.5,-755.0L1555.0,1083.5M-286.3,-752.2L1552.2,1086.3M-289.1,-749.3L1549.3,1089.1M-292.0,-746.5L1546.5,1092.0M-294.8,-743.7L1543.7,1094.8M-297.6,-740.9L1540.9,1097.6M-300.4,-738.0L1538.0,1100.4M-303.3,-735.2L1535.2,1103.3M-306.1,-732.4L1532.4,1106.1M-308.9,-729.5L1529.5,1108.9M-311.8,-726.7L1526.7,1111.8M-314.6,-723.9L1523.9,1114.6M-317.4,-721.1L1521.1,1117.4M-320.2,-718.2L1518.2,1120.2M-323.1,-715.4L1515.4,1123.1M-325.9,-712.6L1512.6,1125.9M-328.7,-709.7L1509.7,1128.7M-331.6,-706.9L1506.9,1131.6M-334.4,-704.1L1504.1,1134.4M-337.2,-701.3L1501.3,1137.2M-340.0,-698.4L1498.4,1140.0M-342.9,-695.6L1495.6,1142.9M-345.7,-692.8L1492.8,1145.7M-348.5,-689.9L1489.9,1148.5M-351.4,-687.1L1487.1,1151.4M-354.2,-684.3L1484.3,1154.2M-357.0,-681.5L1481.5,1157.0M-359.8,-678.6L1478.6,1159.8M-362.7,-675.8L1475.8,1162.7M-365.5,-673.0L1473.0,1165.5M-368.3,-670.2L1470.2,1168.3M-371.2,-667.3L1467.3,1171.2M-374.0,-664.5L1464.5,1174.0M-376.8,-661.7L1461.7,1176.8M-379.6,-658.8L1458.8,1179.6M-382.5,-656.0L1456.0,1182.5M-385.3,-653.2L1453.2,1185.3M-388.1,-650.4L1450.4,1188.1M-391.0,-647.5L1447.5,1191.0M-393.8,-644.7L1444.7,1193.8M-396.6,-641.9L1441.9,1196.6M-399.4,-639.0L1439.0,1199.4M-402.3,-636.2L1436.2,1202.3M-405.1,-633.4L1433.4,1205.1M-407.9,-630.6L1430.6,1207.9M-410.8,-627.7L1427.7,1210.8M-413.6,-624.9L1424.9,1213.6M-416.4,-622.1L1422.1,1216.4M-419.2,-619.2L1419.2,1219.2M-422.1,-616.4L1416.4,1222.1M-424.9,-613.6L1413.6,1224.9M-427.7,-610.8L1410.8,1227.7M-430.6,-607.9L1407.9,1230.6M-433.4,-605.1L1405.1,1233.4M-436.2,-602.3L1402.3,1236.2M-439.0,-599.4L1399.4,1239.0M-441.9,-596.6L1396.6,1241.9M-444.7,-593.8L1393.8,1244.7M-447.5,-591.0L1391.0,1247.5M-450.4,-588.1L1388.1,1250.4M-453.2,-585.3L1385.3,1253.2M-456.0,-582.5L1382.5,1256.0M-458.8,-579.6L1379.6,1258.8M-461.7,-576.8L1376.8,1261.7M-464.5,-574.0L1374.0,1264.5M-467.3,-571.2L1371.2,1267.3M-470.2,-568.3L1368.3,1270.2M-473.0,-565.5L1365.5,1273.0M-475.8,-562.7L1362.7,1275.8M-478.6,-559.8L1359.8,1278.6M-481.5,-557.0L1357.0,1281.5M-484.3,-554.2L1354.2,1284.3M-487.1,-551.4L1351.4,1287.1M-489.9,-548.5L1348.5,1289.9M-492.8,-545.7L1345.7,1292.8M-495.6,-542.9L1342.9,1295.6M-498.4,-540.0L1340.0,1298.4M-501.3,-537.2L1337.2,1301.3M-504.1,-534.4L1334.4,1304.1M-506.9,-531.6L1331.6,1306.9M-509.7,-528.7L1328.7,1309.7M-512.6,-525.9L1325.9,1312.6M-515.4,-523.1L1323.1,1315.4M-518.2,-520.2L1320.2,1318.2M-521.1,-517.4L1317.4,1321.1M-523.9,-514.6L1314.6,1323.9M-526.7,-511.8L1311.8,1326.7M-529.5,-508.9L1308.9,1329.5M-532.4,-506.1L1306.1,1332.4M-535.2,-503.3L1303.3,1335.2M-538.0,-500.4L1300.4,1338.0M-540.9,-497.6L1297.6,1340.9M-543.7,-494.8L1294.8,1343.7M-546.5,-492.0L1292.0,1346.5M-549.3,-489.1L1289.1,1349.3M-552.2,-486.3L1286.3,1352.2M-555.0,-483.5L1283.5,1355.0M-557.8,-480.6L1280.6,1357.8M-560.7,-477.8L1277.8,1360.7M-563.5,-475.0L1275.0,1363.5M-566.3,-472.2L1272.2,1366.3M-569.1,-469.3L1269.3,1369.1M-572.0,-466.5L1266.5,1372.0M-574.8,-463.7L1263.7,1374.8M-577.6,-460.8L1260.8,1377.6M-580.5,-458.0L1258.0,1380.5M-583.3,-455.2L1255.2,1383.3M-586.1,-452.4L1252.4,1386.1M-588.9,-449.5L1249.5,1388.9M-591.8,-446.7L1246.7,1391.8M-594.6,-443.9L1243.9,1394.6M-597.4,-441.0L1241.0,1397.4M-600.3,-438.2L1238.2,1400.3M-603.1,-435.4L1235.4,1403.1M-605.9,-432.6L1232.6,1405.9M-608.7,-429.7L1229.7,1408.7M-611.6,-426.9L1226.9,1411.6M-614.4,-424.1L1224.1,1414.4M-617.2,-421.2L1221.2,1417.2M-620.1,-418.4L1218.4,1420.1M-622.9,-415.6L1215.6,1422.9M-625.7,-412.8L1212.8,1425.7M-628.5,-409.9L1209.9,1428.5M-631.4,-407.1L1207.1,1431.4M-634.2,-404.3L1204.3,1434.2M-637.0,-401.4L1201.4,1437.0M-639.9,-398.6L1198.6,1439.9M-642.7,-395.8L1195.8,1442.7M-645.5,-393.0L1193.0,1445.5M-648.3,-390.1L1190.1,1448.3M-651.2,-387.3L1187.3,1451.2M-654.0,-384.5L1184.5,1454.0M-656.8,-381.7L1181.7,1456.8M-659.7,-378.8L1178.8,1459.7M-662.5,-376.0L1176.0,1462.5M-665.3,-373.2L1173.2,1465.3M-668.1,-370.3L1170.3,1468.1M-671.0,-367.5L1167.5,1471.0M-673.8,-364.7L1164.7,1473.8M-676.6,-361.9L1161.9,1476.6M-679.5,-359.0L1159.0,1479.5M-682.3,-356.2L1156.2,1482.3M-685.1,-353.4L1153.4,1485.1M-687.9,-350.5L1150.5,1487.9M-690.8,-347.7L1147.7,1490.8M-693.6,-344.9L1144.9,1493.6M-696.4,-342.1L1142.1,1496.4M-699.3,-339.2L1139.2,1499.3M-702.1,-336.4L1136.4,1502.1M-704.9,-333.6L1133.6,1504.9M-707.7,-330.7L1130.7,1507.7M-710.6,-327.9L1127.9,1510.6M-713.4,-325.1L1125.1,1513.4M-716.2,-322.3L1122.3,1516.2M-719.1,-319.4L1119.4,1519.1M-721.9,-316.6L1116.6,1521.9M-724.7,-313.8L1113.8,1524.7M-727.5,-310.9L1110.9,1527.5M-730.4,-308.1L1108.1,1530.4M-733.2,-305.3L1105.3,1533.2M-736.0,-302.5L1102.5,1536.0M-738.9,-299.6L1099.6,1538.9M-741.7,-296.8L1096.8,1541.7M-744.5,-294.0L1094.0,1544.5M-747.3,-291.1L1091.1,1547.3M-750.2,-288.3L1088.3,1550.2M-753.0,-285.5L1085.5,1553.0M-755.8,-282.7L1082.7,1555.8M-758.7,-279.8L1079.8,1558.7M-761.5,-277.0L1077.0,1561.5M-764.3,-274.2L1074.2,1564.3M-767.1,-271.3L1071.3,1567.1M-770.0,-268.5L1068.5,1570.0M-772.8,-265.7L1065.7,1572.8M-775.6,-262.9L1062.9,1575.6M-778.4,-260.0L1060.0,1578.4M-781.3,-257.2L1057.2,1581.3M-784.1,-254.4L1054.4,1584.1" class="h"/></g>
<path d="M652.9,276.8 L676.5,276.8 L694.5,281.8 Q697.9,283.2 697.9,287 L697.9,312 M652.9,276.8 L666,293.8 Q667,298 663.4,300.5" class="m"/>
<clipPath id="cp7"><path clip-rule="nonzero" d="M652.9,276.8 L676.5,276.8 L694.5,281.8 Q697.9,283.2 697.9,287 L697.9,312 L594,312 L594,303.2 L660,303.2 Q667,300 666,293.8 Z"/></clipPath>
<g clip-path="url(#cp7)"><path d="M-786.9,851.5L1051.5,-986.9M-784.1,854.4L1054.4,-984.1M-781.3,857.2L1057.2,-981.3M-778.4,860.0L1060.0,-978.4M-775.6,862.9L1062.9,-975.6M-772.8,865.7L1065.7,-972.8M-770.0,868.5L1068.5,-970.0M-767.1,871.3L1071.3,-967.1M-764.3,874.2L1074.2,-964.3M-761.5,877.0L1077.0,-961.5M-758.7,879.8L1079.8,-958.7M-755.8,882.7L1082.7,-955.8M-753.0,885.5L1085.5,-953.0M-750.2,888.3L1088.3,-950.2M-747.3,891.1L1091.1,-947.3M-744.5,894.0L1094.0,-944.5M-741.7,896.8L1096.8,-941.7M-738.9,899.6L1099.6,-938.9M-736.0,902.5L1102.5,-936.0M-733.2,905.3L1105.3,-933.2M-730.4,908.1L1108.1,-930.4M-727.5,910.9L1110.9,-927.5M-724.7,913.8L1113.8,-924.7M-721.9,916.6L1116.6,-921.9M-719.1,919.4L1119.4,-919.1M-716.2,922.3L1122.3,-916.2M-713.4,925.1L1125.1,-913.4M-710.6,927.9L1127.9,-910.6M-707.7,930.7L1130.7,-907.7M-704.9,933.6L1133.6,-904.9M-702.1,936.4L1136.4,-902.1M-699.3,939.2L1139.2,-899.3M-696.4,942.1L1142.1,-896.4M-693.6,944.9L1144.9,-893.6M-690.8,947.7L1147.7,-890.8M-687.9,950.5L1150.5,-887.9M-685.1,953.4L1153.4,-885.1M-682.3,956.2L1156.2,-882.3M-679.5,959.0L1159.0,-879.5M-676.6,961.9L1161.9,-876.6M-673.8,964.7L1164.7,-873.8M-671.0,967.5L1167.5,-871.0M-668.1,970.3L1170.3,-868.1M-665.3,973.2L1173.2,-865.3M-662.5,976.0L1176.0,-862.5M-659.7,978.8L1178.8,-859.7M-656.8,981.7L1181.7,-856.8M-654.0,984.5L1184.5,-854.0M-651.2,987.3L1187.3,-851.2M-648.3,990.1L1190.1,-848.3M-645.5,993.0L1193.0,-845.5M-642.7,995.8L1195.8,-842.7M-639.9,998.6L1198.6,-839.9M-637.0,1001.4L1201.4,-837.0M-634.2,1004.3L1204.3,-834.2M-631.4,1007.1L1207.1,-831.4M-628.5,1009.9L1209.9,-828.5M-625.7,1012.8L1212.8,-825.7M-622.9,1015.6L1215.6,-822.9M-620.1,1018.4L1218.4,-820.1M-617.2,1021.2L1221.2,-817.2M-614.4,1024.1L1224.1,-814.4M-611.6,1026.9L1226.9,-811.6M-608.7,1029.7L1229.7,-808.7M-605.9,1032.6L1232.6,-805.9M-603.1,1035.4L1235.4,-803.1M-600.3,1038.2L1238.2,-800.3M-597.4,1041.0L1241.0,-797.4M-594.6,1043.9L1243.9,-794.6M-591.8,1046.7L1246.7,-791.8M-588.9,1049.5L1249.5,-788.9M-586.1,1052.4L1252.4,-786.1M-583.3,1055.2L1255.2,-783.3M-580.5,1058.0L1258.0,-780.5M-577.6,1060.8L1260.8,-777.6M-574.8,1063.7L1263.7,-774.8M-572.0,1066.5L1266.5,-772.0M-569.1,1069.3L1269.3,-769.1M-566.3,1072.2L1272.2,-766.3M-563.5,1075.0L1275.0,-763.5M-560.7,1077.8L1277.8,-760.7M-557.8,1080.6L1280.6,-757.8M-555.0,1083.5L1283.5,-755.0M-552.2,1086.3L1286.3,-752.2M-549.3,1089.1L1289.1,-749.3M-546.5,1092.0L1292.0,-746.5M-543.7,1094.8L1294.8,-743.7M-540.9,1097.6L1297.6,-740.9M-538.0,1100.4L1300.4,-738.0M-535.2,1103.3L1303.3,-735.2M-532.4,1106.1L1306.1,-732.4M-529.5,1108.9L1308.9,-729.5M-526.7,1111.8L1311.8,-726.7M-523.9,1114.6L1314.6,-723.9M-521.1,1117.4L1317.4,-721.1M-518.2,1120.2L1320.2,-718.2M-515.4,1123.1L1323.1,-715.4M-512.6,1125.9L1325.9,-712.6M-509.7,1128.7L1328.7,-709.7M-506.9,1131.6L1331.6,-706.9M-504.1,1134.4L1334.4,-704.1M-501.3,1137.2L1337.2,-701.3M-498.4,1140.0L1340.0,-698.4M-495.6,1142.9L1342.9,-695.6M-492.8,1145.7L1345.7,-692.8M-489.9,1148.5L1348.5,-689.9M-487.1,1151.4L1351.4,-687.1M-484.3,1154.2L1354.2,-684.3M-481.5,1157.0L1357.0,-681.5M-478.6,1159.8L1359.8,-678.6M-475.8,1162.7L1362.7,-675.8M-473.0,1165.5L1365.5,-673.0M-470.2,1168.3L1368.3,-670.2M-467.3,1171.2L1371.2,-667.3M-464.5,1174.0L1374.0,-664.5M-461.7,1176.8L1376.8,-661.7M-458.8,1179.6L1379.6,-658.8M-456.0,1182.5L1382.5,-656.0M-453.2,1185.3L1385.3,-653.2M-450.4,1188.1L1388.1,-650.4M-447.5,1191.0L1391.0,-647.5M-444.7,1193.8L1393.8,-644.7M-441.9,1196.6L1396.6,-641.9M-439.0,1199.4L1399.4,-639.0M-436.2,1202.3L1402.3,-636.2M-433.4,1205.1L1405.1,-633.4M-430.6,1207.9L1407.9,-630.6M-427.7,1210.8L1410.8,-627.7M-424.9,1213.6L1413.6,-624.9M-422.1,1216.4L1416.4,-622.1M-419.2,1219.2L1419.2,-619.2M-416.4,1222.1L1422.1,-616.4M-413.6,1224.9L1424.9,-613.6M-410.8,1227.7L1427.7,-610.8M-407.9,1230.6L1430.6,-607.9M-405.1,1233.4L1433.4,-605.1M-402.3,1236.2L1436.2,-602.3M-399.4,1239.0L1439.0,-599.4M-396.6,1241.9L1441.9,-596.6M-393.8,1244.7L1444.7,-593.8M-391.0,1247.5L1447.5,-591.0M-388.1,1250.4L1450.4,-588.1M-385.3,1253.2L1453.2,-585.3M-382.5,1256.0L1456.0,-582.5M-379.6,1258.8L1458.8,-579.6M-376.8,1261.7L1461.7,-576.8M-374.0,1264.5L1464.5,-574.0M-371.2,1267.3L1467.3,-571.2M-368.3,1270.2L1470.2,-568.3M-365.5,1273.0L1473.0,-565.5M-362.7,1275.8L1475.8,-562.7M-359.8,1278.6L1478.6,-559.8M-357.0,1281.5L1481.5,-557.0M-354.2,1284.3L1484.3,-554.2M-351.4,1287.1L1487.1,-551.4M-348.5,1289.9L1489.9,-548.5M-345.7,1292.8L1492.8,-545.7M-342.9,1295.6L1495.6,-542.9M-340.0,1298.4L1498.4,-540.0M-337.2,1301.3L1501.3,-537.2M-334.4,1304.1L1504.1,-534.4M-331.6,1306.9L1506.9,-531.6M-328.7,1309.7L1509.7,-528.7M-325.9,1312.6L1512.6,-525.9M-323.1,1315.4L1515.4,-523.1M-320.2,1318.2L1518.2,-520.2M-317.4,1321.1L1521.1,-517.4M-314.6,1323.9L1523.9,-514.6M-311.8,1326.7L1526.7,-511.8M-308.9,1329.5L1529.5,-508.9M-306.1,1332.4L1532.4,-506.1M-303.3,1335.2L1535.2,-503.3M-300.4,1338.0L1538.0,-500.4M-297.6,1340.9L1540.9,-497.6M-294.8,1343.7L1543.7,-494.8M-292.0,1346.5L1546.5,-492.0M-289.1,1349.3L1549.3,-489.1M-286.3,1352.2L1552.2,-486.3M-283.5,1355.0L1555.0,-483.5M-280.6,1357.8L1557.8,-480.6M-277.8,1360.7L1560.7,-477.8M-275.0,1363.5L1563.5,-475.0M-272.2,1366.3L1566.3,-472.2M-269.3,1369.1L1569.1,-469.3M-266.5,1372.0L1572.0,-466.5M-263.7,1374.8L1574.8,-463.7M-260.8,1377.6L1577.6,-460.8M-258.0,1380.5L1580.5,-458.0M-255.2,1383.3L1583.3,-455.2M-252.4,1386.1L1586.1,-452.4M-249.5,1388.9L1588.9,-449.5M-246.7,1391.8L1591.8,-446.7M-243.9,1394.6L1594.6,-443.9M-241.0,1397.4L1597.4,-441.0M-238.2,1400.3L1600.3,-438.2M-235.4,1403.1L1603.1,-435.4M-232.6,1405.9L1605.9,-432.6M-229.7,1408.7L1608.7,-429.7M-226.9,1411.6L1611.6,-426.9M-224.1,1414.4L1614.4,-424.1M-221.2,1417.2L1617.2,-421.2M-218.4,1420.1L1620.1,-418.4M-215.6,1422.9L1622.9,-415.6M-212.8,1425.7L1625.7,-412.8M-209.9,1428.5L1628.5,-409.9M-207.1,1431.4L1631.4,-407.1M-204.3,1434.2L1634.2,-404.3M-201.4,1437.0L1637.0,-401.4M-198.6,1439.9L1639.9,-398.6M-195.8,1442.7L1642.7,-395.8M-193.0,1445.5L1645.5,-393.0M-190.1,1448.3L1648.3,-390.1M-187.3,1451.2L1651.2,-387.3M-184.5,1454.0L1654.0,-384.5M-181.7,1456.8L1656.8,-381.7M-178.8,1459.7L1659.7,-378.8M-176.0,1462.5L1662.5,-376.0M-173.2,1465.3L1665.3,-373.2M-170.3,1468.1L1668.1,-370.3M-167.5,1471.0L1671.0,-367.5M-164.7,1473.8L1673.8,-364.7M-161.9,1476.6L1676.6,-361.9M-159.0,1479.5L1679.5,-359.0M-156.2,1482.3L1682.3,-356.2M-153.4,1485.1L1685.1,-353.4M-150.5,1487.9L1687.9,-350.5M-147.7,1490.8L1690.8,-347.7M-144.9,1493.6L1693.6,-344.9M-142.1,1496.4L1696.4,-342.1M-139.2,1499.3L1699.3,-339.2M-136.4,1502.1L1702.1,-336.4M-133.6,1504.9L1704.9,-333.6M-130.7,1507.7L1707.7,-330.7M-127.9,1510.6L1710.6,-327.9M-125.1,1513.4L1713.4,-325.1M-122.3,1516.2L1716.2,-322.3M-119.4,1519.1L1719.1,-319.4M-116.6,1521.9L1721.9,-316.6M-113.8,1524.7L1724.7,-313.8M-110.9,1527.5L1727.5,-310.9M-108.1,1530.4L1730.4,-308.1M-105.3,1533.2L1733.2,-305.3M-102.5,1536.0L1736.0,-302.5M-99.6,1538.9L1738.9,-299.6M-96.8,1541.7L1741.7,-296.8M-94.0,1544.5L1744.5,-294.0M-91.1,1547.3L1747.3,-291.1M-88.3,1550.2L1750.2,-288.3M-85.5,1553.0L1753.0,-285.5M-82.7,1555.8L1755.8,-282.7M-79.8,1558.7L1758.7,-279.8M-77.0,1561.5L1761.5,-277.0M-74.2,1564.3L1764.3,-274.2M-71.3,1567.1L1767.1,-271.3M-68.5,1570.0L1770.0,-268.5M-65.7,1572.8L1772.8,-265.7M-62.9,1575.6L1775.6,-262.9M-60.0,1578.4L1778.4,-260.0M-57.2,1581.3L1781.3,-257.2M-54.4,1584.1L1784.1,-254.4" class="h"/></g>
<path d="M650.3,273.7 L699,273.7 Q703.5,274 703.5,279 L703.5,286" class="t"/>
<path d="M652,279 L664,293 Q662,297.5 656,297 Q650,292 652,279 Z" class="wf"/>
<line x1="653" y1="287" x2="664" y2="287" class="t"/>
<line x1="657" y1="280" x2="657" y2="296" class="t"/>
<line x1="638.5" y1="246.6" x2="638.6" y2="300.5" class="t"/>
<rect x="637.5" y="277.5" width="2.5" height="6" class="blk"/>
<clipPath id="cp8"><path clip-rule="nonzero" d="M704,271 L729,271 L729,285 L704,285 Z M706,294 L729,294 L729,300.5 L706,300.5Z"/></clipPath>
<g clip-path="url(#cp8)"><path d="M-51.5,-986.9L1786.9,851.5M-54.4,-984.1L1784.1,854.4M-57.2,-981.3L1781.3,857.2M-60.0,-978.4L1778.4,860.0M-62.9,-975.6L1775.6,862.9M-65.7,-972.8L1772.8,865.7M-68.5,-970.0L1770.0,868.5M-71.3,-967.1L1767.1,871.3M-74.2,-964.3L1764.3,874.2M-77.0,-961.5L1761.5,877.0M-79.8,-958.7L1758.7,879.8M-82.7,-955.8L1755.8,882.7M-85.5,-953.0L1753.0,885.5M-88.3,-950.2L1750.2,888.3M-91.1,-947.3L1747.3,891.1M-94.0,-944.5L1744.5,894.0M-96.8,-941.7L1741.7,896.8M-99.6,-938.9L1738.9,899.6M-102.5,-936.0L1736.0,902.5M-105.3,-933.2L1733.2,905.3M-108.1,-930.4L1730.4,908.1M-110.9,-927.5L1727.5,910.9M-113.8,-924.7L1724.7,913.8M-116.6,-921.9L1721.9,916.6M-119.4,-919.1L1719.1,919.4M-122.3,-916.2L1716.2,922.3M-125.1,-913.4L1713.4,925.1M-127.9,-910.6L1710.6,927.9M-130.7,-907.7L1707.7,930.7M-133.6,-904.9L1704.9,933.6M-136.4,-902.1L1702.1,936.4M-139.2,-899.3L1699.3,939.2M-142.1,-896.4L1696.4,942.1M-144.9,-893.6L1693.6,944.9M-147.7,-890.8L1690.8,947.7M-150.5,-887.9L1687.9,950.5M-153.4,-885.1L1685.1,953.4M-156.2,-882.3L1682.3,956.2M-159.0,-879.5L1679.5,959.0M-161.9,-876.6L1676.6,961.9M-164.7,-873.8L1673.8,964.7M-167.5,-871.0L1671.0,967.5M-170.3,-868.1L1668.1,970.3M-173.2,-865.3L1665.3,973.2M-176.0,-862.5L1662.5,976.0M-178.8,-859.7L1659.7,978.8M-181.7,-856.8L1656.8,981.7M-184.5,-854.0L1654.0,984.5M-187.3,-851.2L1651.2,987.3M-190.1,-848.3L1648.3,990.1M-193.0,-845.5L1645.5,993.0M-195.8,-842.7L1642.7,995.8M-198.6,-839.9L1639.9,998.6M-201.4,-837.0L1637.0,1001.4M-204.3,-834.2L1634.2,1004.3M-207.1,-831.4L1631.4,1007.1M-209.9,-828.5L1628.5,1009.9M-212.8,-825.7L1625.7,1012.8M-215.6,-822.9L1622.9,1015.6M-218.4,-820.1L1620.1,1018.4M-221.2,-817.2L1617.2,1021.2M-224.1,-814.4L1614.4,1024.1M-226.9,-811.6L1611.6,1026.9M-229.7,-808.7L1608.7,1029.7M-232.6,-805.9L1605.9,1032.6M-235.4,-803.1L1603.1,1035.4M-238.2,-800.3L1600.3,1038.2M-241.0,-797.4L1597.4,1041.0M-243.9,-794.6L1594.6,1043.9M-246.7,-791.8L1591.8,1046.7M-249.5,-788.9L1588.9,1049.5M-252.4,-786.1L1586.1,1052.4M-255.2,-783.3L1583.3,1055.2M-258.0,-780.5L1580.5,1058.0M-260.8,-777.6L1577.6,1060.8M-263.7,-774.8L1574.8,1063.7M-266.5,-772.0L1572.0,1066.5M-269.3,-769.1L1569.1,1069.3M-272.2,-766.3L1566.3,1072.2M-275.0,-763.5L1563.5,1075.0M-277.8,-760.7L1560.7,1077.8M-280.6,-757.8L1557.8,1080.6M-283.5,-755.0L1555.0,1083.5M-286.3,-752.2L1552.2,1086.3M-289.1,-749.3L1549.3,1089.1M-292.0,-746.5L1546.5,1092.0M-294.8,-743.7L1543.7,1094.8M-297.6,-740.9L1540.9,1097.6M-300.4,-738.0L1538.0,1100.4M-303.3,-735.2L1535.2,1103.3M-306.1,-732.4L1532.4,1106.1M-308.9,-729.5L1529.5,1108.9M-311.8,-726.7L1526.7,1111.8M-314.6,-723.9L1523.9,1114.6M-317.4,-721.1L1521.1,1117.4M-320.2,-718.2L1518.2,1120.2M-323.1,-715.4L1515.4,1123.1M-325.9,-712.6L1512.6,1125.9M-328.7,-709.7L1509.7,1128.7M-331.6,-706.9L1506.9,1131.6M-334.4,-704.1L1504.1,1134.4M-337.2,-701.3L1501.3,1137.2M-340.0,-698.4L1498.4,1140.0M-342.9,-695.6L1495.6,1142.9M-345.7,-692.8L1492.8,1145.7M-348.5,-689.9L1489.9,1148.5M-351.4,-687.1L1487.1,1151.4M-354.2,-684.3L1484.3,1154.2M-357.0,-681.5L1481.5,1157.0M-359.8,-678.6L1478.6,1159.8M-362.7,-675.8L1475.8,1162.7M-365.5,-673.0L1473.0,1165.5M-368.3,-670.2L1470.2,1168.3M-371.2,-667.3L1467.3,1171.2M-374.0,-664.5L1464.5,1174.0M-376.8,-661.7L1461.7,1176.8M-379.6,-658.8L1458.8,1179.6M-382.5,-656.0L1456.0,1182.5M-385.3,-653.2L1453.2,1185.3M-388.1,-650.4L1450.4,1188.1M-391.0,-647.5L1447.5,1191.0M-393.8,-644.7L1444.7,1193.8M-396.6,-641.9L1441.9,1196.6M-399.4,-639.0L1439.0,1199.4M-402.3,-636.2L1436.2,1202.3M-405.1,-633.4L1433.4,1205.1M-407.9,-630.6L1430.6,1207.9M-410.8,-627.7L1427.7,1210.8M-413.6,-624.9L1424.9,1213.6M-416.4,-622.1L1422.1,1216.4M-419.2,-619.2L1419.2,1219.2M-422.1,-616.4L1416.4,1222.1M-424.9,-613.6L1413.6,1224.9M-427.7,-610.8L1410.8,1227.7M-430.6,-607.9L1407.9,1230.6M-433.4,-605.1L1405.1,1233.4M-436.2,-602.3L1402.3,1236.2M-439.0,-599.4L1399.4,1239.0M-441.9,-596.6L1396.6,1241.9M-444.7,-593.8L1393.8,1244.7M-447.5,-591.0L1391.0,1247.5M-450.4,-588.1L1388.1,1250.4M-453.2,-585.3L1385.3,1253.2M-456.0,-582.5L1382.5,1256.0M-458.8,-579.6L1379.6,1258.8M-461.7,-576.8L1376.8,1261.7M-464.5,-574.0L1374.0,1264.5M-467.3,-571.2L1371.2,1267.3M-470.2,-568.3L1368.3,1270.2M-473.0,-565.5L1365.5,1273.0M-475.8,-562.7L1362.7,1275.8M-478.6,-559.8L1359.8,1278.6M-481.5,-557.0L1357.0,1281.5M-484.3,-554.2L1354.2,1284.3M-487.1,-551.4L1351.4,1287.1M-489.9,-548.5L1348.5,1289.9M-492.8,-545.7L1345.7,1292.8M-495.6,-542.9L1342.9,1295.6M-498.4,-540.0L1340.0,1298.4M-501.3,-537.2L1337.2,1301.3M-504.1,-534.4L1334.4,1304.1M-506.9,-531.6L1331.6,1306.9M-509.7,-528.7L1328.7,1309.7M-512.6,-525.9L1325.9,1312.6M-515.4,-523.1L1323.1,1315.4M-518.2,-520.2L1320.2,1318.2M-521.1,-517.4L1317.4,1321.1M-523.9,-514.6L1314.6,1323.9M-526.7,-511.8L1311.8,1326.7M-529.5,-508.9L1308.9,1329.5M-532.4,-506.1L1306.1,1332.4M-535.2,-503.3L1303.3,1335.2M-538.0,-500.4L1300.4,1338.0M-540.9,-497.6L1297.6,1340.9M-543.7,-494.8L1294.8,1343.7M-546.5,-492.0L1292.0,1346.5M-549.3,-489.1L1289.1,1349.3M-552.2,-486.3L1286.3,1352.2M-555.0,-483.5L1283.5,1355.0M-557.8,-480.6L1280.6,1357.8M-560.7,-477.8L1277.8,1360.7M-563.5,-475.0L1275.0,1363.5M-566.3,-472.2L1272.2,1366.3M-569.1,-469.3L1269.3,1369.1M-572.0,-466.5L1266.5,1372.0M-574.8,-463.7L1263.7,1374.8M-577.6,-460.8L1260.8,1377.6M-580.5,-458.0L1258.0,1380.5M-583.3,-455.2L1255.2,1383.3M-586.1,-452.4L1252.4,1386.1M-588.9,-449.5L1249.5,1388.9M-591.8,-446.7L1246.7,1391.8M-594.6,-443.9L1243.9,1394.6M-597.4,-441.0L1241.0,1397.4M-600.3,-438.2L1238.2,1400.3M-603.1,-435.4L1235.4,1403.1M-605.9,-432.6L1232.6,1405.9M-608.7,-429.7L1229.7,1408.7M-611.6,-426.9L1226.9,1411.6M-614.4,-424.1L1224.1,1414.4M-617.2,-421.2L1221.2,1417.2M-620.1,-418.4L1218.4,1420.1M-622.9,-415.6L1215.6,1422.9M-625.7,-412.8L1212.8,1425.7M-628.5,-409.9L1209.9,1428.5M-631.4,-407.1L1207.1,1431.4M-634.2,-404.3L1204.3,1434.2M-637.0,-401.4L1201.4,1437.0M-639.9,-398.6L1198.6,1439.9M-642.7,-395.8L1195.8,1442.7M-645.5,-393.0L1193.0,1445.5M-648.3,-390.1L1190.1,1448.3M-651.2,-387.3L1187.3,1451.2M-654.0,-384.5L1184.5,1454.0M-656.8,-381.7L1181.7,1456.8M-659.7,-378.8L1178.8,1459.7M-662.5,-376.0L1176.0,1462.5M-665.3,-373.2L1173.2,1465.3M-668.1,-370.3L1170.3,1468.1M-671.0,-367.5L1167.5,1471.0M-673.8,-364.7L1164.7,1473.8M-676.6,-361.9L1161.9,1476.6M-679.5,-359.0L1159.0,1479.5M-682.3,-356.2L1156.2,1482.3M-685.1,-353.4L1153.4,1485.1M-687.9,-350.5L1150.5,1487.9M-690.8,-347.7L1147.7,1490.8M-693.6,-344.9L1144.9,1493.6M-696.4,-342.1L1142.1,1496.4M-699.3,-339.2L1139.2,1499.3M-702.1,-336.4L1136.4,1502.1M-704.9,-333.6L1133.6,1504.9M-707.7,-330.7L1130.7,1507.7M-710.6,-327.9L1127.9,1510.6M-713.4,-325.1L1125.1,1513.4M-716.2,-322.3L1122.3,1516.2M-719.1,-319.4L1119.4,1519.1M-721.9,-316.6L1116.6,1521.9M-724.7,-313.8L1113.8,1524.7M-727.5,-310.9L1110.9,1527.5M-730.4,-308.1L1108.1,1530.4M-733.2,-305.3L1105.3,1533.2M-736.0,-302.5L1102.5,1536.0M-738.9,-299.6L1099.6,1538.9M-741.7,-296.8L1096.8,1541.7M-744.5,-294.0L1094.0,1544.5M-747.3,-291.1L1091.1,1547.3M-750.2,-288.3L1088.3,1550.2M-753.0,-285.5L1085.5,1553.0M-755.8,-282.7L1082.7,1555.8M-758.7,-279.8L1079.8,1558.7M-761.5,-277.0L1077.0,1561.5M-764.3,-274.2L1074.2,1564.3M-767.1,-271.3L1071.3,1567.1M-770.0,-268.5L1068.5,1570.0M-772.8,-265.7L1065.7,1572.8M-775.6,-262.9L1062.9,1575.6M-778.4,-260.0L1060.0,1578.4M-781.3,-257.2L1057.2,1581.3M-784.1,-254.4L1054.4,1584.1" class="h"/></g>
<rect x="700" y="285" width="29" height="9" class="t"/>
<line x1="715" y1="285" x2="715" y2="294" class="t"/>
<line x1="698" y1="289.5" x2="733" y2="289.5" class="c"/>
<rect x="705" y="300.5" width="24" height="4.7" class="t"/>
<rect x="610.4" y="266.7" width="17.1" height="33.3" class="m"/>
<path d="M614,276 L611.8,276 L611.8,288 L614,288 M616,276 L624,276 M616,288 L624,288 M624,276 L624,288" class="d"/>
<rect x="611" y="277" width="2.4" height="10" class="blk"/>
<line x1="605" y1="282" x2="632" y2="282" class="c"/>
<line x1="590.7" y1="266.7" x2="590.7" y2="300" class="t"/>
<path d="M590.7,266.7L591.7,270.7L589.7,270.7Z" class="ah"/>
<path d="M590.7,300.0L589.7,296.0L591.7,296.0Z" class="ah"/>
<line x1="588" y1="266.7" x2="610.4" y2="266.7" class="t"/>
<text x="589.8" y="293.4" font-size="8.4" class="tx" textLength="19.4" lengthAdjust="spacingAndGlyphs" transform="rotate(-90 589.8 293.4)">2.200</text>
<text x="596.4" y="293.4" font-size="8.4" class="tx" textLength="11.4" lengthAdjust="spacingAndGlyphs" transform="rotate(-90 596.4 293.4)">REF</text>
<text x="543.2" y="244" font-size="8.4" class="tx" textLength="40.8" lengthAdjust="spacingAndGlyphs">SEE NOTE 1</text>
<line x1="541.4" y1="246.6" x2="638.6" y2="246.6" class="t"/>
<line x1="627.2" y1="245.5" x2="627.2" y2="270.4" class="t"/>
<rect x="704" y="309.7" width="11.7" height="20" class="m"/>
<line x1="708" y1="309.7" x2="708" y2="329.7" class="t"/>
<rect x="704" y="329.7" width="10" height="13.3" class="t"/>
<clipPath id="cp9"><path clip-rule="nonzero" d="M704,329.7 L714,329.7 L714,343 L704,343Z"/></clipPath>
<g clip-path="url(#cp9)"><path d="M-217.0,-821.5L1621.5,1017.0M-218.6,-819.9L1619.9,1018.6M-220.1,-818.4L1618.4,1020.1M-221.7,-816.8L1616.8,1021.7M-223.2,-815.2L1615.2,1023.2M-224.8,-813.7L1613.7,1024.8M-226.3,-812.1L1612.1,1026.3M-227.9,-810.6L1610.6,1027.9M-229.5,-809.0L1609.0,1029.5M-231.0,-807.5L1607.5,1031.0M-232.6,-805.9L1605.9,1032.6M-234.1,-804.4L1604.4,1034.1M-235.7,-802.8L1602.8,1035.7M-237.2,-801.2L1601.2,1037.2M-238.8,-799.7L1599.7,1038.8M-240.3,-798.1L1598.1,1040.3M-241.9,-796.6L1596.6,1041.9M-243.5,-795.0L1595.0,1043.5M-245.0,-793.5L1593.5,1045.0M-246.6,-791.9L1591.9,1046.6M-248.1,-790.4L1590.4,1048.1M-249.7,-788.8L1588.8,1049.7M-251.2,-787.2L1587.2,1051.2M-252.8,-785.7L1585.7,1052.8M-254.3,-784.1L1584.1,1054.3M-255.9,-782.6L1582.6,1055.9M-257.5,-781.0L1581.0,1057.5M-259.0,-779.5L1579.5,1059.0M-260.6,-777.9L1577.9,1060.6M-262.1,-776.4L1576.4,1062.1M-263.7,-774.8L1574.8,1063.7M-265.2,-773.2L1573.2,1065.2M-266.8,-771.7L1571.7,1066.8M-268.3,-770.1L1570.1,1068.3M-269.9,-768.6L1568.6,1069.9M-271.5,-767.0L1567.0,1071.5M-273.0,-765.5L1565.5,1073.0M-274.6,-763.9L1563.9,1074.6M-276.1,-762.4L1562.4,1076.1M-277.7,-760.8L1560.8,1077.7M-279.2,-759.2L1559.2,1079.2M-280.8,-757.7L1557.7,1080.8M-282.3,-756.1L1556.1,1082.3M-283.9,-754.6L1554.6,1083.9M-285.5,-753.0L1553.0,1085.5M-287.0,-751.5L1551.5,1087.0M-288.6,-749.9L1549.9,1088.6M-290.1,-748.4L1548.4,1090.1M-291.7,-746.8L1546.8,1091.7M-293.2,-745.2L1545.2,1093.2M-294.8,-743.7L1543.7,1094.8M-296.3,-742.1L1542.1,1096.3M-297.9,-740.6L1540.6,1097.9M-299.5,-739.0L1539.0,1099.5M-301.0,-737.5L1537.5,1101.0M-302.6,-735.9L1535.9,1102.6M-304.1,-734.4L1534.4,1104.1M-305.7,-732.8L1532.8,1105.7M-307.2,-731.2L1531.2,1107.2M-308.8,-729.7L1529.7,1108.8M-310.3,-728.1L1528.1,1110.3M-311.9,-726.6L1526.6,1111.9M-313.5,-725.0L1525.0,1113.5M-315.0,-723.5L1523.5,1115.0M-316.6,-721.9L1521.9,1116.6M-318.1,-720.4L1520.4,1118.1M-319.7,-718.8L1518.8,1119.7M-321.2,-717.2L1517.2,1121.2M-322.8,-715.7L1515.7,1122.8M-324.3,-714.1L1514.1,1124.3M-325.9,-712.6L1512.6,1125.9M-327.5,-711.0L1511.0,1127.5M-329.0,-709.5L1509.5,1129.0M-330.6,-707.9L1507.9,1130.6M-332.1,-706.4L1506.4,1132.1M-333.7,-704.8L1504.8,1133.7M-335.2,-703.2L1503.2,1135.2M-336.8,-701.7L1501.7,1136.8M-338.3,-700.1L1500.1,1138.3M-339.9,-698.6L1498.6,1139.9M-341.5,-697.0L1497.0,1141.5M-343.0,-695.5L1495.5,1143.0M-344.6,-693.9L1493.9,1144.6M-346.1,-692.4L1492.4,1146.1M-347.7,-690.8L1490.8,1147.7M-349.2,-689.2L1489.2,1149.2M-350.8,-687.7L1487.7,1150.8M-352.3,-686.1L1486.1,1152.3M-353.9,-684.6L1484.6,1153.9M-355.5,-683.0L1483.0,1155.5M-357.0,-681.5L1481.5,1157.0M-358.6,-679.9L1479.9,1158.6M-360.1,-678.4L1478.4,1160.1M-361.7,-676.8L1476.8,1161.7M-363.2,-675.2L1475.2,1163.2M-364.8,-673.7L1473.7,1164.8M-366.3,-672.1L1472.1,1166.3M-367.9,-670.6L1470.6,1167.9M-369.5,-669.0L1469.0,1169.5M-371.0,-667.5L1467.5,1171.0M-372.6,-665.9L1465.9,1172.6M-374.1,-664.4L1464.4,1174.1M-375.7,-662.8L1462.8,1175.7M-377.2,-661.2L1461.2,1177.2M-378.8,-659.7L1459.7,1178.8M-380.3,-658.1L1458.1,1180.3M-381.9,-656.6L1456.6,1181.9M-383.5,-655.0L1455.0,1183.5M-385.0,-653.5L1453.5,1185.0M-386.6,-651.9L1451.9,1186.6M-388.1,-650.4L1450.4,1188.1M-389.7,-648.8L1448.8,1189.7M-391.2,-647.2L1447.2,1191.2M-392.8,-645.7L1445.7,1192.8M-394.3,-644.1L1444.1,1194.3M-395.9,-642.6L1442.6,1195.9M-397.5,-641.0L1441.0,1197.5M-399.0,-639.5L1439.5,1199.0M-400.6,-637.9L1437.9,1200.6M-402.1,-636.4L1436.4,1202.1M-403.7,-634.8L1434.8,1203.7M-405.2,-633.2L1433.2,1205.2M-406.8,-631.7L1431.7,1206.8M-408.3,-630.1L1430.1,1208.3M-409.9,-628.6L1428.6,1209.9M-411.5,-627.0L1427.0,1211.5M-413.0,-625.5L1425.5,1213.0M-414.6,-623.9L1423.9,1214.6M-416.1,-622.4L1422.4,1216.1M-417.7,-620.8L1420.8,1217.7M-419.2,-619.2L1419.2,1219.2M-420.8,-617.7L1417.7,1220.8M-422.4,-616.1L1416.1,1222.4M-423.9,-614.6L1414.6,1223.9M-425.5,-613.0L1413.0,1225.5M-427.0,-611.5L1411.5,1227.0M-428.6,-609.9L1409.9,1228.6M-430.1,-608.3L1408.3,1230.1M-431.7,-606.8L1406.8,1231.7M-433.2,-605.2L1405.2,1233.2M-434.8,-603.7L1403.7,1234.8M-436.4,-602.1L1402.1,1236.4M-437.9,-600.6L1400.6,1237.9M-439.5,-599.0L1399.0,1239.5M-441.0,-597.5L1397.5,1241.0M-442.6,-595.9L1395.9,1242.6M-444.1,-594.3L1394.3,1244.1M-445.7,-592.8L1392.8,1245.7M-447.2,-591.2L1391.2,1247.2M-448.8,-589.7L1389.7,1248.8M-450.4,-588.1L1388.1,1250.4M-451.9,-586.6L1386.6,1251.9M-453.5,-585.0L1385.0,1253.5M-455.0,-583.5L1383.5,1255.0M-456.6,-581.9L1381.9,1256.6M-458.1,-580.3L1380.3,1258.1M-459.7,-578.8L1378.8,1259.7M-461.2,-577.2L1377.2,1261.2M-462.8,-575.7L1375.7,1262.8M-464.4,-574.1L1374.1,1264.4M-465.9,-572.6L1372.6,1265.9M-467.5,-571.0L1371.0,1267.5M-469.0,-569.5L1369.5,1269.0M-470.6,-567.9L1367.9,1270.6M-472.1,-566.3L1366.3,1272.1M-473.7,-564.8L1364.8,1273.7M-475.2,-563.2L1363.2,1275.2M-476.8,-561.7L1361.7,1276.8M-478.4,-560.1L1360.1,1278.4M-479.9,-558.6L1358.6,1279.9M-481.5,-557.0L1357.0,1281.5M-483.0,-555.5L1355.5,1283.0M-484.6,-553.9L1353.9,1284.6M-486.1,-552.3L1352.3,1286.1M-487.7,-550.8L1350.8,1287.7M-489.2,-549.2L1349.2,1289.2M-490.8,-547.7L1347.7,1290.8M-492.4,-546.1L1346.1,1292.4M-493.9,-544.6L1344.6,1293.9M-495.5,-543.0L1343.0,1295.5M-497.0,-541.5L1341.5,1297.0M-498.6,-539.9L1339.9,1298.6M-500.1,-538.3L1338.3,1300.1M-501.7,-536.8L1336.8,1301.7M-503.2,-535.2L1335.2,1303.2M-504.8,-533.7L1333.7,1304.8M-506.4,-532.1L1332.1,1306.4M-507.9,-530.6L1330.6,1307.9M-509.5,-529.0L1329.0,1309.5M-511.0,-527.5L1327.5,1311.0M-512.6,-525.9L1325.9,1312.6M-514.1,-524.3L1324.3,1314.1M-515.7,-522.8L1322.8,1315.7M-517.2,-521.2L1321.2,1317.2M-518.8,-519.7L1319.7,1318.8M-520.4,-518.1L1318.1,1320.4M-521.9,-516.6L1316.6,1321.9M-523.5,-515.0L1315.0,1323.5M-525.0,-513.5L1313.5,1325.0M-526.6,-511.9L1311.9,1326.6M-528.1,-510.3L1310.3,1328.1M-529.7,-508.8L1308.8,1329.7M-531.2,-507.2L1307.2,1331.2M-532.8,-505.7L1305.7,1332.8M-534.4,-504.1L1304.1,1334.4M-535.9,-502.6L1302.6,1335.9M-537.5,-501.0L1301.0,1337.5M-539.0,-499.5L1299.5,1339.0M-540.6,-497.9L1297.9,1340.6M-542.1,-496.3L1296.3,1342.1M-543.7,-494.8L1294.8,1343.7M-545.2,-493.2L1293.2,1345.2M-546.8,-491.7L1291.7,1346.8M-548.4,-490.1L1290.1,1348.4M-549.9,-488.6L1288.6,1349.9M-551.5,-487.0L1287.0,1351.5M-553.0,-485.5L1285.5,1353.0M-554.6,-483.9L1283.9,1354.6M-556.1,-482.3L1282.3,1356.1M-557.7,-480.8L1280.8,1357.7M-559.2,-479.2L1279.2,1359.2M-560.8,-477.7L1277.7,1360.8M-562.4,-476.1L1276.1,1362.4M-563.9,-474.6L1274.6,1363.9M-565.5,-473.0L1273.0,1365.5M-567.0,-471.5L1271.5,1367.0M-568.6,-469.9L1269.9,1368.6M-570.1,-468.3L1268.3,1370.1M-571.7,-466.8L1266.8,1371.7M-573.2,-465.2L1265.2,1373.2M-574.8,-463.7L1263.7,1374.8M-576.4,-462.1L1262.1,1376.4M-577.9,-460.6L1260.6,1377.9M-579.5,-459.0L1259.0,1379.5M-581.0,-457.5L1257.5,1381.0M-582.6,-455.9L1255.9,1382.6M-584.1,-454.3L1254.3,1384.1M-585.7,-452.8L1252.8,1385.7M-587.2,-451.2L1251.2,1387.2M-588.8,-449.7L1249.7,1388.8M-590.4,-448.1L1248.1,1390.4M-591.9,-446.6L1246.6,1391.9M-593.5,-445.0L1245.0,1393.5M-595.0,-443.5L1243.5,1395.0M-596.6,-441.9L1241.9,1396.6M-598.1,-440.3L1240.3,1398.1M-599.7,-438.8L1238.8,1399.7M-601.2,-437.2L1237.2,1401.2M-602.8,-435.7L1235.7,1402.8M-604.4,-434.1L1234.1,1404.4M-605.9,-432.6L1232.6,1405.9M-607.5,-431.0L1231.0,1407.5M-609.0,-429.5L1229.5,1409.0M-610.6,-427.9L1227.9,1410.6M-612.1,-426.3L1226.3,1412.1M-613.7,-424.8L1224.8,1413.7M-615.2,-423.2L1223.2,1415.2M-616.8,-421.7L1221.7,1416.8M-618.4,-420.1L1220.1,1418.4M-619.9,-418.6L1218.6,1419.9" class="h"/></g>
<rect x="714" y="315" width="2.4" height="14" class="blk"/>
<path d="M706,309.5 A1.5,1.5 0 0 1 709,309.5 M710,309.5 A1.5,1.5 0 0 1 713,309.5" class="t"/>
<path d="M374.2,357.6 L374.2,348 Q379.8,341.6 385.59999999999997,348 L385.59999999999997,357.6" class="m"/>
<line x1="374.2" y1="348" x2="385.6" y2="348" class="t"/>
<path d="M586.8,357.6 L586.8,348 Q592.4,341.6 598.1999999999999,348 L598.1999999999999,357.6" class="m"/>
<line x1="586.8" y1="348" x2="598.2" y2="348" class="t"/>
<line x1="364" y1="340" x2="364" y2="362" class="t"/>
<line x1="379.6" y1="330" x2="379.6" y2="372" class="c"/>
<line x1="592.4" y1="330" x2="592.4" y2="372" class="c"/>
<line x1="608" y1="340" x2="608" y2="362" class="t"/>
<path d="M446,323 A10.1,10.1 0 0 0 446,341 M489,323 A10.1,10.1 0 0 1 489,341" class="m"/>
<line x1="486" y1="337" x2="486" y2="352" class="t"/>
<line x1="224.2" y1="359" x2="224.2" y2="391" class="t"/>
<line x1="258" y1="359" x2="258" y2="391" class="t"/>
<line x1="277.4" y1="300.5" x2="277.4" y2="374" class="t"/>
<line x1="277.4" y1="372.1" x2="303" y2="372.1" class="t"/>
<line x1="346" y1="372.1" x2="447" y2="372.1" class="t"/>
<line x1="491" y1="372.1" x2="592.4" y2="372.1" class="t"/>
<path d="M277.4,372.1L281.4,371.1L281.4,373.1Z" class="ah"/>
<path d="M379.6,372.1L375.6,373.1L375.6,371.1Z" class="ah"/>
<path d="M379.6,372.1L383.6,371.1L383.6,373.1Z" class="ah"/>
<path d="M592.4,372.1L588.4,373.1L588.4,371.1Z" class="ah"/>
<text x="306" y="375" font-size="8.4" class="tx" textLength="38.4" lengthAdjust="spacingAndGlyphs">6.750 REF</text>
<text x="450" y="375" font-size="8.4" class="tx" textLength="42" lengthAdjust="spacingAndGlyphs">14.000 REF</text>
<line x1="224.2" y1="387.4" x2="258" y2="387.4" class="t"/>
<line x1="258" y1="387.4" x2="470" y2="387.4" class="t"/>
<line x1="518" y1="387.4" x2="713.3" y2="387.4" class="t"/>
<path d="M224.2,387.4L228.2,386.4L228.2,388.4Z" class="ah"/>
<path d="M258.0,387.4L254.0,388.4L254.0,386.4Z" class="ah"/>
<path d="M258.0,387.4L262.0,386.4L262.0,388.4Z" class="ah"/>
<path d="M713.3,387.4L709.3,388.4L709.3,386.4Z" class="ah"/>
<text x="231.8" y="386.2" font-size="8.4" class="tx" textLength="19.7" lengthAdjust="spacingAndGlyphs">2.250</text>
<text x="231.8" y="393.4" font-size="8.4" class="tx" textLength="11.6" lengthAdjust="spacingAndGlyphs">REF</text>
<text x="473.6" y="385.6" font-size="8.4" class="tx" textLength="40.8" lengthAdjust="spacingAndGlyphs">30.000 REF</text>
<line x1="713.3" y1="358" x2="713.3" y2="390" class="t"/>
<text x="611" y="370.4" font-size="8.4" class="tx" textLength="42" lengthAdjust="spacingAndGlyphs">.750Ø (2X)</text>
<text x="611" y="377.6" font-size="8.4" class="tx" textLength="11.6" lengthAdjust="spacingAndGlyphs">REF</text>
<path d="M593,358 L596,366 L609,368.5" class="t"/>
<text x="82.2" y="179.7" font-size="8.4" class="tx" textLength="123.2" lengthAdjust="spacingAndGlyphs">GRIND THIS SURFACE FLUSH WITH</text>
<text x="82.2" y="187.4" font-size="8.4" class="tx" textLength="46.4" lengthAdjust="spacingAndGlyphs">MOVABLE JAW</text>
<path d="M207,176.5 L216.6,176.5 L240.5,269" class="t"/>
<path d="M628.2,194.2 L617,278" class="t"/>
<path d="M666.8,194.2 L658,285" class="t"/>
<path d="M696.8,194.2 L690,270" class="t"/>
<path d="M723.3,194.2 L715,285" class="t"/>
<path d="M772.4,305 L715,312" class="t"/>
<path d="M772.4,349.5 L716,331" class="t"/>
<path d="M729,393.9 L698,333" class="t"/>
<path d="M649,395.2 L666,335" class="t"/>
<path d="M673,395.2 L684,358" class="t"/>
<path d="M553.8,395.2 L567,332" class="t"/>
<path d="M583.5,395.2 L591.5,357.6" class="t"/>
<path d="M205.5,395.8 L224.2,351" class="t"/>
<line x1="883.8" y1="200.3" x2="938" y2="200.3" class="t"/>
<text x="892.5" y="199.2" font-size="7.4" class="tx" textLength="29.5" lengthAdjust="spacingAndGlyphs">NOT SHOWN</text>
<path d="M838.3,270.4 H960.3 V314.6 Q960.3,318.2 956.6,318.2 H949.4 Q946.4,318.2 946.4,321.5 V341.5 Q946.4,345.1 950,345.1 H957.6 Q960.3,345.1 960.3,348 V357.3 H838.3 V348 Q838.3,345.1 841,345.1 H848.6 Q852.2,345.1 852.2,341.5 V321.5 Q852.2,318.2 849.2,318.2 H842 Q838.3,318.2 838.3,314.6 Z" class="m"/>
<line x1="838.3" y1="300.5" x2="878.8" y2="300.5" class="t"/>
<line x1="919.8" y1="300.5" x2="960.3" y2="300.5" class="t"/>
<line x1="960.3" y1="300.5" x2="992" y2="300.5" class="t"/>
<line x1="960.3" y1="357.3" x2="992" y2="357.3" class="t"/>
<line x1="990" y1="300.5" x2="990" y2="318" class="t"/>
<line x1="990" y1="343" x2="990" y2="357.3" class="t"/>
<path d="M990.0,300.5L991.0,304.5L989.0,304.5Z" class="ah"/>
<path d="M990.0,357.3L989.0,353.3L991.0,353.3Z" class="ah"/>
<text x="988.2" y="344" font-size="8.4" class="tx" textLength="20" lengthAdjust="spacingAndGlyphs" transform="rotate(-90 988.2 344)">3.750</text>
<text x="994.8" y="340" font-size="8.4" class="tx" textLength="12" lengthAdjust="spacingAndGlyphs" transform="rotate(-90 994.8 340)">REF</text>
<circle cx="863" cy="281.8" r="3.6" class="k"/>
<line x1="854" y1="281.8" x2="872" y2="281.8" class="t"/>
<line x1="863" y1="272.8" x2="863" y2="290.8" class="t"/>
<circle cx="899.1" cy="289.4" r="4.2" class="k"/>
<line x1="890.1" y1="289.4" x2="908.1" y2="289.4" class="t"/>
<line x1="899.1" y1="280.4" x2="899.1" y2="298.4" class="t"/>
<circle cx="935.4" cy="281.8" r="3.6" class="k"/>
<line x1="926.4" y1="281.8" x2="944.4" y2="281.8" class="t"/>
<line x1="935.4" y1="272.8" x2="935.4" y2="290.8" class="t"/>
<line x1="899.2" y1="264" x2="899.2" y2="392" class="c"/>
<circle cx="899.3" cy="322.2" r="6.5" class="k"/>
<circle cx="899.3" cy="322.2" r="1.9" class="blk"/>
<path d="M891,317 A9.3,9.3 0 0 1 895,313.6 M903.6,313.6 A9.3,9.3 0 0 1 907.6,317 M907.6,327.4 A9.3,9.3 0 0 1 903.6,330.8 M895,330.8 A9.3,9.3 0 0 1 891,327.4" class="t"/>
<path d="M878,300.5 Q879,285 889,276 Q899,270 909,276 Q919,285 920,300.5" class="d"/>
<path d="M881.5,300.5 Q882.5,288 891,281 Q899,276 907,281 Q915.5,288 916.8,300.5" class="d"/>
<path d="M880.3,300.2 L880.3,313.5 M918.3,300.2 L918.3,313.5 M881.2,310.8 Q887,300.4 899.3,300.4 Q911.5,300.4 917.4,310.8" class="m"/>
<path d="M880.3,313.5 L918.3,313.5 M895,312.6 L896,309.2 L902.6,309.2 L903.6,312.6" class="t"/>
<path d="M871.2,315.2 L927.4,315.2 M871.2,315.2 L867.7,320.4 L867.7,330 L878.6,341.4 M927.4,315.2 L930.9,320.4 L930.9,330 L920,341.4" class="m"/>
<path d="M876.4,315.2 L876.4,325.7 L879.5,326 L888.2,335.3 L892.5,341.8 M922.2,315.2 L922.2,325.7 L919.1,326 L910.4,335.3 L906.1,341.8" class="m"/>
<path d="M881.5,326 Q886,327 890,334 L891,341.8 M917.1,326 Q912.6,327 908.6,334 L907.6,341.8" class="t"/>
<line x1="878.6" y1="341.6" x2="920" y2="341.6" class="m"/>
<path d="M870,318 L873,318 L875,325 M928.6,318 L925.6,318 L923.6,325" class="t"/>
<line x1="882" y1="322.2" x2="916.6" y2="322.2" class="t"/>
<line x1="862" y1="322.2" x2="867" y2="322.2" class="t"/>
<line x1="931.6" y1="322.2" x2="937" y2="322.2" class="t"/>
<line x1="852.2" y1="321.9" x2="862" y2="321.9" class="d"/>
<line x1="937" y1="321.9" x2="946.4" y2="321.9" class="d"/>
<line x1="852.2" y1="341.5" x2="878" y2="341.5" class="d"/>
<line x1="920.6" y1="341.5" x2="946.4" y2="341.5" class="d"/>
<line x1="844" y1="340" x2="844" y2="378" class="c"/>
<line x1="954.6" y1="340" x2="954.6" y2="378" class="c"/>
<path d="M840,348 L840,357 M849.6,348 L849.6,357 M949,348 L949,357 M958.6,348 L958.6,357" class="d"/>
<line x1="844" y1="374.6" x2="858" y2="374.6" class="t"/>
<line x1="884" y1="374.6" x2="913" y2="374.6" class="t"/>
<line x1="940" y1="374.6" x2="954.6" y2="374.6" class="t"/>
<path d="M844.0,374.6L848.0,373.6L848.0,375.6Z" class="ah"/>
<path d="M899.2,374.6L895.2,375.6L895.2,373.6Z" class="ah"/>
<path d="M899.2,374.6L903.2,373.6L903.2,375.6Z" class="ah"/>
<path d="M954.6,374.6L950.6,375.6L950.6,373.6Z" class="ah"/>
<text x="865" y="369" font-size="8.4" class="tx" textLength="12" lengthAdjust="spacingAndGlyphs">REF</text>
<text x="860.6" y="377.2" font-size="8.4" class="tx" textLength="21" lengthAdjust="spacingAndGlyphs">3.625</text>
<text x="921" y="369" font-size="8.4" class="tx" textLength="12" lengthAdjust="spacingAndGlyphs">REF</text>
<text x="917" y="377.2" font-size="8.4" class="tx" textLength="21" lengthAdjust="spacingAndGlyphs">3.625</text>
<path d="M47.1,270.4 L169.4,270.4 L169.4,357.2 L47.1,357.2 L47.1,349.5 Q48,347.5 52,347 Q63.5,345 64,338 L64,328 Q63,318 53,316.5 Q47.1,316 47.1,313 Z" class="m"/>
<line x1="47.1" y1="354.6" x2="169.4" y2="354.6" class="t"/>
<circle cx="72.2" cy="281.5" r="3.5" class="m"/>
<line x1="64.2" y1="281.5" x2="80.2" y2="281.5" class="t"/>
<line x1="72.2" y1="274" x2="72.2" y2="290" class="t"/>
<circle cx="108.7" cy="281.5" r="3.5" class="m"/>
<line x1="100.7" y1="281.5" x2="116.7" y2="281.5" class="t"/>
<line x1="108.7" y1="274" x2="108.7" y2="290" class="t"/>
<circle cx="144.6" cy="281.5" r="3.5" class="m"/>
<line x1="136.6" y1="281.5" x2="152.6" y2="281.5" class="t"/>
<line x1="144.6" y1="274" x2="144.6" y2="290" class="t"/>
<path d="M102.5,276 A8,8 0 0 1 114.9,276 M114.9,287 A8,8 0 0 1 102.5,287" class="t"/>
<line x1="72.2" y1="226.3" x2="72.2" y2="270.4" class="t"/>
<line x1="144.6" y1="226.3" x2="144.6" y2="270.4" class="t"/>
<line x1="108.7" y1="241.7" x2="108.7" y2="365" class="c"/>
<line x1="72.2" y1="226.3" x2="144.6" y2="226.3" class="t"/>
<path d="M72.2,226.3L76.2,225.3L76.2,227.3Z" class="ah"/>
<path d="M144.6,226.3L140.6,227.3L140.6,225.3Z" class="ah"/>
<text x="83.1" y="223.5" font-size="8.4" class="tx" textLength="38.5" lengthAdjust="spacingAndGlyphs">4.750 REF</text>
<line x1="72.2" y1="241.7" x2="78.2" y2="241.7" class="t"/>
<line x1="102.7" y1="241.7" x2="108.7" y2="241.7" class="t"/>
<path d="M72.2,241.7L76.2,240.7L76.2,242.7Z" class="ah"/>
<text x="80.3" y="240.7" font-size="8.4" class="tx" textLength="20.3" lengthAdjust="spacingAndGlyphs">2.375</text>
<text x="80.3" y="247.7" font-size="8.4" class="tx" textLength="11.9" lengthAdjust="spacingAndGlyphs">REF</text>
<line x1="19" y1="281.5" x2="64" y2="281.5" class="t"/>
<line x1="19" y1="300.5" x2="47" y2="300.5" class="t"/>
<line x1="21" y1="281.5" x2="21" y2="300.5" class="t"/>
<path d="M21.0,281.5L22.0,285.5L20.0,285.5Z" class="ah"/>
<path d="M21.0,300.5L20.0,296.5L22.0,296.5Z" class="ah"/>
<text x="20.5" y="272.6" font-size="8.4" class="tx" textLength="20" lengthAdjust="spacingAndGlyphs" transform="rotate(-90 20.5 272.6)">1.220</text>
<text x="27.8" y="271.5" font-size="8.4" class="tx" textLength="12" lengthAdjust="spacingAndGlyphs" transform="rotate(-90 27.8 271.5)">REF</text>
<text x="160.1" y="223.2" font-size="8.4" class="tx" textLength="29.4" lengthAdjust="spacingAndGlyphs">3/4 HEX</text>
<text x="160.1" y="230.9" font-size="8.4" class="tx" textLength="11.9" lengthAdjust="spacingAndGlyphs">REF</text>
<path d="M158,220.1 L148.2,220.1 L206,315.5" class="t"/>
<circle cx="73" cy="311" r="8.3" class="k"/>
<circle cx="73" cy="311" r="5.5" class="t"/>
<path d="M70,306.5 L76,306.5 L78,311 L76,315.5 L70,315.5 L68,311 Z" class="t"/>
<line x1="62" y1="311" x2="84" y2="311" class="t"/>
<line x1="73" y1="300" x2="73" y2="322" class="t"/>
<circle cx="144.9" cy="311" r="8.3" class="k"/>
<circle cx="144.9" cy="311" r="5.5" class="t"/>
<path d="M141.9,306.5 L147.9,306.5 L149.9,311 L147.9,315.5 L141.9,315.5 L139.9,311 Z" class="t"/>
<line x1="133.9" y1="311" x2="155.9" y2="311" class="t"/>
<line x1="144.9" y1="300" x2="144.9" y2="322" class="t"/>
<path d="M65.4,300.5 L89.9,300.5 L89.9,315.7 L65.4,315.7" class="d"/>
<path d="M127,300.5 L163,300.5 M127,300.5 L127,319.2 L150,319.2" class="d"/>
<circle cx="108.5" cy="322.2" r="12.7" class="m"/>
<circle cx="108.5" cy="322.2" r="5.6" class="k2"/>
<circle cx="108.5" cy="322.2" r="1.3" class="blk"/>
<circle cx="119.1" cy="322.2" r="2.2" class="blk"/>
<circle cx="108.5" cy="332.8" r="2.2" class="blk"/>
<circle cx="97.9" cy="322.2" r="2.2" class="blk"/>
<circle cx="108.5" cy="311.6" r="2.2" class="blk"/>
<line x1="87" y1="322.2" x2="130" y2="322.2" class="t"/>
<path d="M84,330 Q86,341.2 95,341.2 L126,341.2 Q139.5,341 139.5,326 L139.5,318" class="d"/>
<circle cx="72.1" cy="347.9" r="5" class="k"/>
<circle cx="72.1" cy="347.9" r="2.5" class="t"/>
<line x1="63.1" y1="347.9" x2="81.1" y2="347.9" class="t"/>
<line x1="72.1" y1="340" x2="72.1" y2="357" class="t"/>
<circle cx="144.4" cy="347.9" r="5" class="k"/>
<circle cx="144.4" cy="347.9" r="2.5" class="t"/>
<line x1="135.4" y1="347.9" x2="153.4" y2="347.9" class="t"/>
<line x1="144.4" y1="340" x2="144.4" y2="357" class="t"/>
<path d="M51,279.4 L51,271.8 L66.2,271.8 L66.2,279.4 L51,279.4" class="d"/>
<line x1="53.5" y1="279" x2="53.5" y2="316" class="d"/>
<line x1="58" y1="279" x2="58" y2="316" class="d"/>
<line x1="62" y1="279" x2="62" y2="300" class="d"/>
<line x1="64.5" y1="279" x2="64.5" y2="300" class="d"/>
<path d="M151,272 L166,272 L166,279 L151,279 Z" class="d"/>
<line x1="152" y1="279" x2="152" y2="318" class="d"/>
<line x1="156" y1="279" x2="156" y2="300" class="d"/>
<line x1="162" y1="279" x2="162" y2="318" class="d"/>
<line x1="165" y1="279" x2="165" y2="318" class="d"/>
<path d="M155.9,319.2 L155.9,344.6 L167.7,344.6" class="d"/>
<path d="M22,395.9 L40,343 L63.7,331" class="t"/>
<path d="M100.5,395.9 L75,320" class="t"/>
<path d="M133.3,395.9 L143.5,354" class="t"/>
<path d="M60.4,519 L6,519 Q3.6,519 3.6,521.5 L3.6,541.5 Q3.6,544 6,544 L60.4,544" class="m"/>
<line x1="3.6" y1="526.3" x2="59.2" y2="526.3" class="t"/>
<line x1="3.6" y1="537.6" x2="59.2" y2="537.6" class="t"/>
<line x1="0" y1="532" x2="160" y2="532" class="c"/>
<path d="M60.4,498 L75.7,497.3 Q90,490 101,490.4 Q118,491 128.7,496.5 L129.5,496.5 L129.5,565.6 Q118,571 101,571.5 Q90,571 75.7,565.6 L60.4,565.6 Z" class="m"/>
<clipPath id="cp10"><path clip-rule="nonzero" d="M86,493 Q98,489.8 110,491 Q120,492 129.5,496.5 L129.5,518 L92.6,518 L92.6,505 L86,505 Z M92.6,546.4 L129.5,546.4 L129.5,565.6 Q118,571 101,571.5 Q92,571.5 88,570 L92.6,558 Z"/></clipPath>
<g clip-path="url(#cp10)"><path d="M815.4,-1853.8L2653.8,-15.4M805.8,-1844.3L2644.3,-5.8M796.3,-1834.8L2634.8,3.7M786.7,-1825.2L2625.2,13.3M777.2,-1815.7L2615.7,22.8M767.6,-1806.1L2606.1,32.4M758.1,-1796.6L2596.6,41.9M748.5,-1787.0L2587.0,51.5M739.0,-1777.5L2577.5,61.0M729.5,-1767.9L2567.9,70.5M719.9,-1758.4L2558.4,80.1M710.4,-1748.8L2548.8,89.6M700.8,-1739.3L2539.3,99.2M691.3,-1729.8L2529.8,108.7M681.7,-1720.2L2520.2,118.3M672.2,-1710.7L2510.7,127.8M662.6,-1701.1L2501.1,137.4M653.1,-1691.6L2491.6,146.9M643.5,-1682.0L2482.0,156.5M634.0,-1672.5L2472.5,166.0M624.5,-1662.9L2462.9,175.5M614.9,-1653.4L2453.4,185.1M605.4,-1643.8L2443.8,194.6M595.8,-1634.3L2434.3,204.2M586.3,-1624.7L2424.7,213.7M576.7,-1615.2L2415.2,223.3M567.2,-1605.7L2405.7,232.8M557.6,-1596.1L2396.1,242.4M548.1,-1586.6L2386.6,251.9M538.5,-1577.0L2377.0,261.5M529.0,-1567.5L2367.5,271.0M519.4,-1557.9L2357.9,280.6M509.9,-1548.4L2348.4,290.1M500.4,-1538.8L2338.8,299.6M490.8,-1529.3L2329.3,309.2M481.3,-1519.7L2319.7,318.7M471.7,-1510.2L2310.2,328.3M462.2,-1500.6L2300.6,337.8M452.6,-1491.1L2291.1,347.4M443.1,-1481.6L2281.6,356.9M433.5,-1472.0L2272.0,366.5M424.0,-1462.5L2262.5,376.0M414.4,-1452.9L2252.9,385.6M404.9,-1443.4L2243.4,395.1M395.3,-1433.8L2233.8,404.7M385.8,-1424.3L2224.3,414.2M376.3,-1414.7L2214.7,423.7M366.7,-1405.2L2205.2,433.3M357.2,-1395.6L2195.6,442.8M347.6,-1386.1L2186.1,452.4M338.1,-1376.6L2176.6,461.9M328.5,-1367.0L2167.0,471.5M319.0,-1357.5L2157.5,481.0M309.4,-1347.9L2147.9,490.6M299.9,-1338.4L2138.4,500.1M290.3,-1328.8L2128.8,509.7M280.8,-1319.3L2119.3,519.2M271.3,-1309.7L2109.7,528.7M261.7,-1300.2L2100.2,538.3M252.2,-1290.6L2090.6,547.8M242.6,-1281.1L2081.1,557.4M233.1,-1271.5L2071.5,566.9M223.5,-1262.0L2062.0,576.5M214.0,-1252.5L2052.5,586.0M204.4,-1242.9L2042.9,595.6M194.9,-1233.4L2033.4,605.1M185.3,-1223.8L2023.8,614.7M175.8,-1214.3L2014.3,624.2M166.2,-1204.7L2004.7,633.8M156.7,-1195.2L1995.2,643.3M147.2,-1185.6L1985.6,652.8M137.6,-1176.1L1976.1,662.4M128.1,-1166.5L1966.5,671.9M118.5,-1157.0L1957.0,681.5M109.0,-1147.4L1947.4,691.0M99.4,-1137.9L1937.9,700.6M89.9,-1128.4L1928.4,710.1M80.3,-1118.8L1918.8,719.7M70.8,-1109.3L1909.3,729.2M61.2,-1099.7L1899.7,738.8M51.7,-1090.2L1890.2,748.3M42.1,-1080.6L1880.6,757.9M32.6,-1071.1L1871.1,767.4M23.1,-1061.5L1861.5,776.9M13.5,-1052.0L1852.0,786.5M4.0,-1042.4L1842.4,796.0M-5.6,-1032.9L1832.9,805.6M-15.1,-1023.4L1823.4,815.1M-24.7,-1013.8L1813.8,824.7M-34.2,-1004.3L1804.3,834.2M-43.8,-994.7L1794.7,843.8M-53.3,-985.2L1785.2,853.3M-62.9,-975.6L1775.6,862.9M-72.4,-966.1L1766.1,872.4M-81.9,-956.5L1756.5,881.9M-91.5,-947.0L1747.0,891.5M-101.0,-937.4L1737.4,901.0M-110.6,-927.9L1727.9,910.6M-120.1,-918.3L1718.3,920.1M-129.7,-908.8L1708.8,929.7M-139.2,-899.3L1699.3,939.2M-148.8,-889.7L1689.7,948.8M-158.3,-880.2L1680.2,958.3M-167.9,-870.6L1670.6,967.9M-177.4,-861.1L1661.1,977.4M-187.0,-851.5L1651.5,987.0M-196.5,-842.0L1642.0,996.5M-206.0,-832.4L1632.4,1006.0M-215.6,-822.9L1622.9,1015.6M-225.1,-813.3L1613.3,1025.1M-234.7,-803.8L1603.8,1034.7M-244.2,-794.2L1594.2,1044.2M-253.8,-784.7L1584.7,1053.8M-263.3,-775.2L1575.2,1063.3M-272.9,-765.6L1565.6,1072.9M-282.4,-756.1L1556.1,1082.4M-292.0,-746.5L1546.5,1092.0M-301.5,-737.0L1537.0,1101.5M-311.1,-727.4L1527.4,1111.1M-320.6,-717.9L1517.9,1120.6M-330.1,-708.3L1508.3,1130.1M-339.7,-698.8L1498.8,1139.7M-349.2,-689.2L1489.2,1149.2M-358.8,-679.7L1479.7,1158.8M-368.3,-670.2L1470.2,1168.3M-377.9,-660.6L1460.6,1177.9M-387.4,-651.1L1451.1,1187.4M-397.0,-641.5L1441.5,1197.0M-406.5,-632.0L1432.0,1206.5M-416.1,-622.4L1422.4,1216.1M-425.6,-612.9L1412.9,1225.6M-435.1,-603.3L1403.3,1235.1M-444.7,-593.8L1393.8,1244.7M-454.2,-584.2L1384.2,1254.2M-463.8,-574.7L1374.7,1263.8M-473.3,-565.1L1365.1,1273.3M-482.9,-555.6L1355.6,1282.9M-492.4,-546.1L1346.1,1292.4M-502.0,-536.5L1336.5,1302.0M-511.5,-527.0L1327.0,1311.5M-521.1,-517.4L1317.4,1321.1M-530.6,-507.9L1307.9,1330.6M-540.2,-498.3L1298.3,1340.2M-549.7,-488.8L1288.8,1349.7M-559.2,-479.2L1279.2,1359.2M-568.8,-469.7L1269.7,1368.8M-578.3,-460.1L1260.1,1378.3M-587.9,-450.6L1250.6,1387.9M-597.4,-441.0L1241.0,1397.4M-607.0,-431.5L1231.5,1407.0M-616.5,-422.0L1222.0,1416.5M-626.1,-412.4L1212.4,1426.1M-635.6,-402.9L1202.9,1435.6M-645.2,-393.3L1193.3,1445.2M-654.7,-383.8L1183.8,1454.7M-664.3,-374.2L1174.2,1464.3M-673.8,-364.7L1164.7,1473.8M-683.3,-355.1L1155.1,1483.3M-692.9,-345.6L1145.6,1492.9M-702.4,-336.0L1136.0,1502.4M-712.0,-326.5L1126.5,1512.0M-721.5,-317.0L1117.0,1521.5M-731.1,-307.4L1107.4,1531.1M-740.6,-297.9L1097.9,1540.6M-750.2,-288.3L1088.3,1550.2M-759.7,-278.8L1078.8,1559.7M-769.3,-269.2L1069.2,1569.3M-778.8,-259.7L1059.7,1578.8M-788.3,-250.1L1050.1,1588.3M-797.9,-240.6L1040.6,1597.9M-807.4,-231.0L1031.0,1607.4M-817.0,-221.5L1021.5,1617.0M-826.5,-211.9L1011.9,1626.5M-836.1,-202.4L1002.4,1636.1M-845.6,-192.9L992.9,1645.6M-855.2,-183.3L983.3,1655.2M-864.7,-173.8L973.8,1664.7M-874.3,-164.2L964.2,1674.3M-883.8,-154.7L954.7,1683.8M-893.4,-145.1L945.1,1693.4M-902.9,-135.6L935.6,1702.9M-912.4,-126.0L926.0,1712.4M-922.0,-116.5L916.5,1722.0M-931.5,-106.9L906.9,1731.5M-941.1,-97.4L897.4,1741.1M-950.6,-87.8L887.8,1750.6M-960.2,-78.3L878.3,1760.2M-969.7,-68.8L868.8,1769.7M-979.3,-59.2L859.2,1779.3M-988.8,-49.7L849.7,1788.8M-998.4,-40.1L840.1,1798.4M-1007.9,-30.6L830.6,1807.9M-1017.5,-21.0L821.0,1817.5M-1027.0,-11.5L811.5,1827.0M-1036.5,-1.9L801.9,1836.5M-1046.1,7.6L792.4,1846.1M-1055.6,17.2L782.8,1855.6M-1065.2,26.7L773.3,1865.2M-1074.7,36.2L763.8,1874.7M-1084.3,45.8L754.2,1884.3M-1093.8,55.3L744.7,1893.8M-1103.4,64.9L735.1,1903.4M-1112.9,74.4L725.6,1912.9M-1122.5,84.0L716.0,1922.5M-1132.0,93.5L706.5,1932.0M-1141.5,103.1L696.9,1941.5M-1151.1,112.6L687.4,1951.1M-1160.6,122.2L677.8,1960.6M-1170.2,131.7L668.3,1970.2M-1179.7,141.3L658.7,1979.7M-1189.3,150.8L649.2,1989.3M-1198.8,160.3L639.7,1998.8M-1208.4,169.9L630.1,2008.4M-1217.9,179.4L620.6,2017.9M-1227.5,189.0L611.0,2027.5M-1237.0,198.5L601.5,2037.0M-1246.6,208.1L591.9,2046.6M-1256.1,217.6L582.4,2056.1M-1265.6,227.2L572.8,2065.6M-1275.2,236.7L563.3,2075.2M-1284.7,246.3L553.7,2084.7M-1294.3,255.8L544.2,2094.3M-1303.8,265.4L534.6,2103.8M-1313.4,274.9L525.1,2113.4M-1322.9,284.4L515.6,2122.9M-1332.5,294.0L506.0,2132.5M-1342.0,303.5L496.5,2142.0M-1351.6,313.1L486.9,2151.6M-1361.1,322.6L477.4,2161.1M-1370.7,332.2L467.8,2170.7M-1380.2,341.7L458.3,2180.2M-1389.7,351.3L448.7,2189.7M-1399.3,360.8L439.2,2199.3M-1408.8,370.4L429.6,2208.8M-1418.4,379.9L420.1,2218.4M-1427.9,389.4L410.6,2227.9M-1437.5,399.0L401.0,2237.5M-1447.0,408.5L391.5,2247.0M-1456.6,418.1L381.9,2256.6M-1466.1,427.6L372.4,2266.1M-1475.7,437.2L362.8,2275.7M-1485.2,446.7L353.3,2285.2M-1494.7,456.3L343.7,2294.7M-1504.3,465.8L334.2,2304.3M-1513.8,475.4L324.6,2313.8M-1523.4,484.9L315.1,2323.4M-1532.9,494.5L305.5,2332.9M-1542.5,504.0L296.0,2342.5M-1552.0,513.5L286.5,2352.0M-1561.6,523.1L276.9,2361.6M-1571.1,532.6L267.4,2371.1M-1580.7,542.2L257.8,2380.7M-1590.2,551.7L248.3,2390.2M-1599.8,561.3L238.7,2399.8M-1609.3,570.8L229.2,2409.3M-1618.8,580.4L219.6,2418.8M-1628.4,589.9L210.1,2428.4M-1637.9,599.5L200.5,2437.9M-1647.5,609.0L191.0,2447.5M-1657.0,618.6L181.4,2457.0" class="h"/></g>
<line x1="60.4" y1="518" x2="129.5" y2="518" class="m"/>
<line x1="60.4" y1="546.4" x2="129.5" y2="546.4" class="m"/>
<line x1="64.2" y1="518" x2="64.2" y2="546.4" class="t"/>
<line x1="88.8" y1="518" x2="88.8" y2="546.4" class="t"/>
<line x1="92.6" y1="518" x2="92.6" y2="546.4" class="t"/>
<line x1="102.6" y1="518" x2="102.6" y2="546.4" class="t"/>
<line x1="105.7" y1="518" x2="105.7" y2="546.4" class="t"/>
<line x1="126.4" y1="518" x2="126.4" y2="546.4" class="t"/>
<line x1="64.2" y1="518" x2="88.8" y2="518" class="d"/>
<rect x="60.4" y="505" width="32.2" height="13" class="k"/>
<rect x="62" y="507" width="4" height="9" class="blk"/>
<clipPath id="cp11"><path clip-rule="nonzero" d="M78,505 L88,505 L88,518 L78,518Z"/></clipPath>
<g clip-path="url(#cp11)"><path d="M-235.4,-803.1L1603.1,1035.4M-236.8,-801.7L1601.7,1036.8M-238.2,-800.3L1600.3,1038.2M-239.6,-798.8L1598.8,1039.6M-241.0,-797.4L1597.4,1041.0M-242.5,-796.0L1596.0,1042.5M-243.9,-794.6L1594.6,1043.9M-245.3,-793.2L1593.2,1045.3M-246.7,-791.8L1591.8,1046.7M-248.1,-790.4L1590.4,1048.1M-249.5,-788.9L1588.9,1049.5M-250.9,-787.5L1587.5,1050.9M-252.4,-786.1L1586.1,1052.4M-253.8,-784.7L1584.7,1053.8M-255.2,-783.3L1583.3,1055.2M-256.6,-781.9L1581.9,1056.6M-258.0,-780.5L1580.5,1058.0M-259.4,-779.0L1579.0,1059.4M-260.8,-777.6L1577.6,1060.8M-262.3,-776.2L1576.2,1062.3M-263.7,-774.8L1574.8,1063.7M-265.1,-773.4L1573.4,1065.1M-266.5,-772.0L1572.0,1066.5M-267.9,-770.6L1570.6,1067.9M-269.3,-769.1L1569.1,1069.3M-270.7,-767.7L1567.7,1070.7M-272.2,-766.3L1566.3,1072.2M-273.6,-764.9L1564.9,1073.6M-275.0,-763.5L1563.5,1075.0M-276.4,-762.1L1562.1,1076.4M-277.8,-760.7L1560.7,1077.8M-279.2,-759.2L1559.2,1079.2M-280.6,-757.8L1557.8,1080.6M-282.1,-756.4L1556.4,1082.1M-283.5,-755.0L1555.0,1083.5M-284.9,-753.6L1553.6,1084.9M-286.3,-752.2L1552.2,1086.3M-287.7,-750.8L1550.8,1087.7M-289.1,-749.3L1549.3,1089.1M-290.5,-747.9L1547.9,1090.5M-292.0,-746.5L1546.5,1092.0M-293.4,-745.1L1545.1,1093.4M-294.8,-743.7L1543.7,1094.8M-296.2,-742.3L1542.3,1096.2M-297.6,-740.9L1540.9,1097.6M-299.0,-739.4L1539.4,1099.0M-300.4,-738.0L1538.0,1100.4M-301.9,-736.6L1536.6,1101.9M-303.3,-735.2L1535.2,1103.3M-304.7,-733.8L1533.8,1104.7M-306.1,-732.4L1532.4,1106.1M-307.5,-731.0L1531.0,1107.5M-308.9,-729.5L1529.5,1108.9M-310.3,-728.1L1528.1,1110.3M-311.8,-726.7L1526.7,1111.8M-313.2,-725.3L1525.3,1113.2M-314.6,-723.9L1523.9,1114.6M-316.0,-722.5L1522.5,1116.0M-317.4,-721.1L1521.1,1117.4M-318.8,-719.6L1519.6,1118.8M-320.2,-718.2L1518.2,1120.2M-321.7,-716.8L1516.8,1121.7M-323.1,-715.4L1515.4,1123.1M-324.5,-714.0L1514.0,1124.5M-325.9,-712.6L1512.6,1125.9M-327.3,-711.2L1511.2,1127.3M-328.7,-709.7L1509.7,1128.7M-330.1,-708.3L1508.3,1130.1M-331.6,-706.9L1506.9,1131.6M-333.0,-705.5L1505.5,1133.0M-334.4,-704.1L1504.1,1134.4M-335.8,-702.7L1502.7,1135.8M-337.2,-701.3L1501.3,1137.2M-338.6,-699.8L1499.8,1138.6M-340.0,-698.4L1498.4,1140.0M-341.5,-697.0L1497.0,1141.5M-342.9,-695.6L1495.6,1142.9M-344.3,-694.2L1494.2,1144.3M-345.7,-692.8L1492.8,1145.7M-347.1,-691.4L1491.4,1147.1M-348.5,-689.9L1489.9,1148.5M-349.9,-688.5L1488.5,1149.9M-351.4,-687.1L1487.1,1151.4M-352.8,-685.7L1485.7,1152.8M-354.2,-684.3L1484.3,1154.2M-355.6,-682.9L1482.9,1155.6M-357.0,-681.5L1481.5,1157.0M-358.4,-680.0L1480.0,1158.4M-359.8,-678.6L1478.6,1159.8M-361.3,-677.2L1477.2,1161.3M-362.7,-675.8L1475.8,1162.7M-364.1,-674.4L1474.4,1164.1M-365.5,-673.0L1473.0,1165.5M-366.9,-671.6L1471.6,1166.9M-368.3,-670.2L1470.2,1168.3M-369.7,-668.7L1468.7,1169.7M-371.2,-667.3L1467.3,1171.2M-372.6,-665.9L1465.9,1172.6M-374.0,-664.5L1464.5,1174.0M-375.4,-663.1L1463.1,1175.4M-376.8,-661.7L1461.7,1176.8M-378.2,-660.3L1460.3,1178.2M-379.6,-658.8L1458.8,1179.6M-381.1,-657.4L1457.4,1181.1M-382.5,-656.0L1456.0,1182.5M-383.9,-654.6L1454.6,1183.9M-385.3,-653.2L1453.2,1185.3M-386.7,-651.8L1451.8,1186.7M-388.1,-650.4L1450.4,1188.1M-389.5,-648.9L1448.9,1189.5M-391.0,-647.5L1447.5,1191.0M-392.4,-646.1L1446.1,1192.4M-393.8,-644.7L1444.7,1193.8M-395.2,-643.3L1443.3,1195.2M-396.6,-641.9L1441.9,1196.6M-398.0,-640.5L1440.5,1198.0M-399.4,-639.0L1439.0,1199.4M-400.9,-637.6L1437.6,1200.9M-402.3,-636.2L1436.2,1202.3M-403.7,-634.8L1434.8,1203.7M-405.1,-633.4L1433.4,1205.1M-406.5,-632.0L1432.0,1206.5M-407.9,-630.6L1430.6,1207.9M-409.3,-629.1L1429.1,1209.3M-410.8,-627.7L1427.7,1210.8M-412.2,-626.3L1426.3,1212.2M-413.6,-624.9L1424.9,1213.6M-415.0,-623.5L1423.5,1215.0M-416.4,-622.1L1422.1,1216.4M-417.8,-620.7L1420.7,1217.8M-419.2,-619.2L1419.2,1219.2M-420.7,-617.8L1417.8,1220.7M-422.1,-616.4L1416.4,1222.1M-423.5,-615.0L1415.0,1223.5M-424.9,-613.6L1413.6,1224.9M-426.3,-612.2L1412.2,1226.3M-427.7,-610.8L1410.8,1227.7M-429.1,-609.3L1409.3,1229.1M-430.6,-607.9L1407.9,1230.6M-432.0,-606.5L1406.5,1232.0M-433.4,-605.1L1405.1,1233.4M-434.8,-603.7L1403.7,1234.8M-436.2,-602.3L1402.3,1236.2M-437.6,-600.9L1400.9,1237.6M-439.0,-599.4L1399.4,1239.0M-440.5,-598.0L1398.0,1240.5M-441.9,-596.6L1396.6,1241.9M-443.3,-595.2L1395.2,1243.3M-444.7,-593.8L1393.8,1244.7M-446.1,-592.4L1392.4,1246.1M-447.5,-591.0L1391.0,1247.5M-448.9,-589.5L1389.5,1248.9M-450.4,-588.1L1388.1,1250.4M-451.8,-586.7L1386.7,1251.8M-453.2,-585.3L1385.3,1253.2M-454.6,-583.9L1383.9,1254.6M-456.0,-582.5L1382.5,1256.0M-457.4,-581.1L1381.1,1257.4M-458.8,-579.6L1379.6,1258.8M-460.3,-578.2L1378.2,1260.3M-461.7,-576.8L1376.8,1261.7M-463.1,-575.4L1375.4,1263.1M-464.5,-574.0L1374.0,1264.5M-465.9,-572.6L1372.6,1265.9M-467.3,-571.2L1371.2,1267.3M-468.7,-569.7L1369.7,1268.7M-470.2,-568.3L1368.3,1270.2M-471.6,-566.9L1366.9,1271.6M-473.0,-565.5L1365.5,1273.0M-474.4,-564.1L1364.1,1274.4M-475.8,-562.7L1362.7,1275.8M-477.2,-561.3L1361.3,1277.2M-478.6,-559.8L1359.8,1278.6M-480.0,-558.4L1358.4,1280.0M-481.5,-557.0L1357.0,1281.5M-482.9,-555.6L1355.6,1282.9M-484.3,-554.2L1354.2,1284.3M-485.7,-552.8L1352.8,1285.7M-487.1,-551.4L1351.4,1287.1M-488.5,-549.9L1349.9,1288.5M-489.9,-548.5L1348.5,1289.9M-491.4,-547.1L1347.1,1291.4M-492.8,-545.7L1345.7,1292.8M-494.2,-544.3L1344.3,1294.2M-495.6,-542.9L1342.9,1295.6M-497.0,-541.5L1341.5,1297.0M-498.4,-540.0L1340.0,1298.4M-499.8,-538.6L1338.6,1299.8M-501.3,-537.2L1337.2,1301.3M-502.7,-535.8L1335.8,1302.7M-504.1,-534.4L1334.4,1304.1M-505.5,-533.0L1333.0,1305.5M-506.9,-531.6L1331.6,1306.9M-508.3,-530.1L1330.1,1308.3M-509.7,-528.7L1328.7,1309.7M-511.2,-527.3L1327.3,1311.2M-512.6,-525.9L1325.9,1312.6M-514.0,-524.5L1324.5,1314.0M-515.4,-523.1L1323.1,1315.4M-516.8,-521.7L1321.7,1316.8M-518.2,-520.2L1320.2,1318.2M-519.6,-518.8L1318.8,1319.6M-521.1,-517.4L1317.4,1321.1M-522.5,-516.0L1316.0,1322.5M-523.9,-514.6L1314.6,1323.9M-525.3,-513.2L1313.2,1325.3M-526.7,-511.8L1311.8,1326.7M-528.1,-510.3L1310.3,1328.1M-529.5,-508.9L1308.9,1329.5M-531.0,-507.5L1307.5,1331.0M-532.4,-506.1L1306.1,1332.4M-533.8,-504.7L1304.7,1333.8M-535.2,-503.3L1303.3,1335.2M-536.6,-501.9L1301.9,1336.6M-538.0,-500.4L1300.4,1338.0M-539.4,-499.0L1299.0,1339.4M-540.9,-497.6L1297.6,1340.9M-542.3,-496.2L1296.2,1342.3M-543.7,-494.8L1294.8,1343.7M-545.1,-493.4L1293.4,1345.1M-546.5,-492.0L1292.0,1346.5M-547.9,-490.5L1290.5,1347.9M-549.3,-489.1L1289.1,1349.3M-550.8,-487.7L1287.7,1350.8M-552.2,-486.3L1286.3,1352.2M-553.6,-484.9L1284.9,1353.6M-555.0,-483.5L1283.5,1355.0M-556.4,-482.1L1282.1,1356.4M-557.8,-480.6L1280.6,1357.8M-559.2,-479.2L1279.2,1359.2M-560.7,-477.8L1277.8,1360.7M-562.1,-476.4L1276.4,1362.1M-563.5,-475.0L1275.0,1363.5M-564.9,-473.6L1273.6,1364.9M-566.3,-472.2L1272.2,1366.3M-567.7,-470.7L1270.7,1367.7M-569.1,-469.3L1269.3,1369.1M-570.6,-467.9L1267.9,1370.6M-572.0,-466.5L1266.5,1372.0M-573.4,-465.1L1265.1,1373.4M-574.8,-463.7L1263.7,1374.8M-576.2,-462.3L1262.3,1376.2M-577.6,-460.8L1260.8,1377.6M-579.0,-459.4L1259.4,1379.0M-580.5,-458.0L1258.0,1380.5M-581.9,-456.6L1256.6,1381.9M-583.3,-455.2L1255.2,1383.3M-584.7,-453.8L1253.8,1384.7M-586.1,-452.4L1252.4,1386.1M-587.5,-450.9L1250.9,1387.5M-588.9,-449.5L1249.5,1388.9M-590.4,-448.1L1248.1,1390.4M-591.8,-446.7L1246.7,1391.8M-593.2,-445.3L1245.3,1393.2M-594.6,-443.9L1243.9,1394.6M-596.0,-442.5L1242.5,1396.0M-597.4,-441.0L1241.0,1397.4M-598.8,-439.6L1239.6,1398.8M-600.3,-438.2L1238.2,1400.3M-601.7,-436.8L1236.8,1401.7" class="h"/></g>
<line x1="67" y1="510" x2="80" y2="510" class="t"/>
<line x1="67" y1="513" x2="80" y2="513" class="t"/>
<rect x="89" y="505" width="3.6" height="13" class="blk"/>
<rect x="60.4" y="546.4" width="32.2" height="13" class="k"/>
<rect x="62" y="548.4" width="4" height="9" class="blk"/>
<clipPath id="cp12"><path clip-rule="nonzero" d="M78,546.4 L88,546.4 L88,559.4 L78,559.4Z"/></clipPath>
<g clip-path="url(#cp12)"><path d="M-235.4,-803.1L1603.1,1035.4M-236.8,-801.7L1601.7,1036.8M-238.2,-800.3L1600.3,1038.2M-239.6,-798.8L1598.8,1039.6M-241.0,-797.4L1597.4,1041.0M-242.5,-796.0L1596.0,1042.5M-243.9,-794.6L1594.6,1043.9M-245.3,-793.2L1593.2,1045.3M-246.7,-791.8L1591.8,1046.7M-248.1,-790.4L1590.4,1048.1M-249.5,-788.9L1588.9,1049.5M-250.9,-787.5L1587.5,1050.9M-252.4,-786.1L1586.1,1052.4M-253.8,-784.7L1584.7,1053.8M-255.2,-783.3L1583.3,1055.2M-256.6,-781.9L1581.9,1056.6M-258.0,-780.5L1580.5,1058.0M-259.4,-779.0L1579.0,1059.4M-260.8,-777.6L1577.6,1060.8M-262.3,-776.2L1576.2,1062.3M-263.7,-774.8L1574.8,1063.7M-265.1,-773.4L1573.4,1065.1M-266.5,-772.0L1572.0,1066.5M-267.9,-770.6L1570.6,1067.9M-269.3,-769.1L1569.1,1069.3M-270.7,-767.7L1567.7,1070.7M-272.2,-766.3L1566.3,1072.2M-273.6,-764.9L1564.9,1073.6M-275.0,-763.5L1563.5,1075.0M-276.4,-762.1L1562.1,1076.4M-277.8,-760.7L1560.7,1077.8M-279.2,-759.2L1559.2,1079.2M-280.6,-757.8L1557.8,1080.6M-282.1,-756.4L1556.4,1082.1M-283.5,-755.0L1555.0,1083.5M-284.9,-753.6L1553.6,1084.9M-286.3,-752.2L1552.2,1086.3M-287.7,-750.8L1550.8,1087.7M-289.1,-749.3L1549.3,1089.1M-290.5,-747.9L1547.9,1090.5M-292.0,-746.5L1546.5,1092.0M-293.4,-745.1L1545.1,1093.4M-294.8,-743.7L1543.7,1094.8M-296.2,-742.3L1542.3,1096.2M-297.6,-740.9L1540.9,1097.6M-299.0,-739.4L1539.4,1099.0M-300.4,-738.0L1538.0,1100.4M-301.9,-736.6L1536.6,1101.9M-303.3,-735.2L1535.2,1103.3M-304.7,-733.8L1533.8,1104.7M-306.1,-732.4L1532.4,1106.1M-307.5,-731.0L1531.0,1107.5M-308.9,-729.5L1529.5,1108.9M-310.3,-728.1L1528.1,1110.3M-311.8,-726.7L1526.7,1111.8M-313.2,-725.3L1525.3,1113.2M-314.6,-723.9L1523.9,1114.6M-316.0,-722.5L1522.5,1116.0M-317.4,-721.1L1521.1,1117.4M-318.8,-719.6L1519.6,1118.8M-320.2,-718.2L1518.2,1120.2M-321.7,-716.8L1516.8,1121.7M-323.1,-715.4L1515.4,1123.1M-324.5,-714.0L1514.0,1124.5M-325.9,-712.6L1512.6,1125.9M-327.3,-711.2L1511.2,1127.3M-328.7,-709.7L1509.7,1128.7M-330.1,-708.3L1508.3,1130.1M-331.6,-706.9L1506.9,1131.6M-333.0,-705.5L1505.5,1133.0M-334.4,-704.1L1504.1,1134.4M-335.8,-702.7L1502.7,1135.8M-337.2,-701.3L1501.3,1137.2M-338.6,-699.8L1499.8,1138.6M-340.0,-698.4L1498.4,1140.0M-341.5,-697.0L1497.0,1141.5M-342.9,-695.6L1495.6,1142.9M-344.3,-694.2L1494.2,1144.3M-345.7,-692.8L1492.8,1145.7M-347.1,-691.4L1491.4,1147.1M-348.5,-689.9L1489.9,1148.5M-349.9,-688.5L1488.5,1149.9M-351.4,-687.1L1487.1,1151.4M-352.8,-685.7L1485.7,1152.8M-354.2,-684.3L1484.3,1154.2M-355.6,-682.9L1482.9,1155.6M-357.0,-681.5L1481.5,1157.0M-358.4,-680.0L1480.0,1158.4M-359.8,-678.6L1478.6,1159.8M-361.3,-677.2L1477.2,1161.3M-362.7,-675.8L1475.8,1162.7M-364.1,-674.4L1474.4,1164.1M-365.5,-673.0L1473.0,1165.5M-366.9,-671.6L1471.6,1166.9M-368.3,-670.2L1470.2,1168.3M-369.7,-668.7L1468.7,1169.7M-371.2,-667.3L1467.3,1171.2M-372.6,-665.9L1465.9,1172.6M-374.0,-664.5L1464.5,1174.0M-375.4,-663.1L1463.1,1175.4M-376.8,-661.7L1461.7,1176.8M-378.2,-660.3L1460.3,1178.2M-379.6,-658.8L1458.8,1179.6M-381.1,-657.4L1457.4,1181.1M-382.5,-656.0L1456.0,1182.5M-383.9,-654.6L1454.6,1183.9M-385.3,-653.2L1453.2,1185.3M-386.7,-651.8L1451.8,1186.7M-388.1,-650.4L1450.4,1188.1M-389.5,-648.9L1448.9,1189.5M-391.0,-647.5L1447.5,1191.0M-392.4,-646.1L1446.1,1192.4M-393.8,-644.7L1444.7,1193.8M-395.2,-643.3L1443.3,1195.2M-396.6,-641.9L1441.9,1196.6M-398.0,-640.5L1440.5,1198.0M-399.4,-639.0L1439.0,1199.4M-400.9,-637.6L1437.6,1200.9M-402.3,-636.2L1436.2,1202.3M-403.7,-634.8L1434.8,1203.7M-405.1,-633.4L1433.4,1205.1M-406.5,-632.0L1432.0,1206.5M-407.9,-630.6L1430.6,1207.9M-409.3,-629.1L1429.1,1209.3M-410.8,-627.7L1427.7,1210.8M-412.2,-626.3L1426.3,1212.2M-413.6,-624.9L1424.9,1213.6M-415.0,-623.5L1423.5,1215.0M-416.4,-622.1L1422.1,1216.4M-417.8,-620.7L1420.7,1217.8M-419.2,-619.2L1419.2,1219.2M-420.7,-617.8L1417.8,1220.7M-422.1,-616.4L1416.4,1222.1M-423.5,-615.0L1415.0,1223.5M-424.9,-613.6L1413.6,1224.9M-426.3,-612.2L1412.2,1226.3M-427.7,-610.8L1410.8,1227.7M-429.1,-609.3L1409.3,1229.1M-430.6,-607.9L1407.9,1230.6M-432.0,-606.5L1406.5,1232.0M-433.4,-605.1L1405.1,1233.4M-434.8,-603.7L1403.7,1234.8M-436.2,-602.3L1402.3,1236.2M-437.6,-600.9L1400.9,1237.6M-439.0,-599.4L1399.4,1239.0M-440.5,-598.0L1398.0,1240.5M-441.9,-596.6L1396.6,1241.9M-443.3,-595.2L1395.2,1243.3M-444.7,-593.8L1393.8,1244.7M-446.1,-592.4L1392.4,1246.1M-447.5,-591.0L1391.0,1247.5M-448.9,-589.5L1389.5,1248.9M-450.4,-588.1L1388.1,1250.4M-451.8,-586.7L1386.7,1251.8M-453.2,-585.3L1385.3,1253.2M-454.6,-583.9L1383.9,1254.6M-456.0,-582.5L1382.5,1256.0M-457.4,-581.1L1381.1,1257.4M-458.8,-579.6L1379.6,1258.8M-460.3,-578.2L1378.2,1260.3M-461.7,-576.8L1376.8,1261.7M-463.1,-575.4L1375.4,1263.1M-464.5,-574.0L1374.0,1264.5M-465.9,-572.6L1372.6,1265.9M-467.3,-571.2L1371.2,1267.3M-468.7,-569.7L1369.7,1268.7M-470.2,-568.3L1368.3,1270.2M-471.6,-566.9L1366.9,1271.6M-473.0,-565.5L1365.5,1273.0M-474.4,-564.1L1364.1,1274.4M-475.8,-562.7L1362.7,1275.8M-477.2,-561.3L1361.3,1277.2M-478.6,-559.8L1359.8,1278.6M-480.0,-558.4L1358.4,1280.0M-481.5,-557.0L1357.0,1281.5M-482.9,-555.6L1355.6,1282.9M-484.3,-554.2L1354.2,1284.3M-485.7,-552.8L1352.8,1285.7M-487.1,-551.4L1351.4,1287.1M-488.5,-549.9L1349.9,1288.5M-489.9,-548.5L1348.5,1289.9M-491.4,-547.1L1347.1,1291.4M-492.8,-545.7L1345.7,1292.8M-494.2,-544.3L1344.3,1294.2M-495.6,-542.9L1342.9,1295.6M-497.0,-541.5L1341.5,1297.0M-498.4,-540.0L1340.0,1298.4M-499.8,-538.6L1338.6,1299.8M-501.3,-537.2L1337.2,1301.3M-502.7,-535.8L1335.8,1302.7M-504.1,-534.4L1334.4,1304.1M-505.5,-533.0L1333.0,1305.5M-506.9,-531.6L1331.6,1306.9M-508.3,-530.1L1330.1,1308.3M-509.7,-528.7L1328.7,1309.7M-511.2,-527.3L1327.3,1311.2M-512.6,-525.9L1325.9,1312.6M-514.0,-524.5L1324.5,1314.0M-515.4,-523.1L1323.1,1315.4M-516.8,-521.7L1321.7,1316.8M-518.2,-520.2L1320.2,1318.2M-519.6,-518.8L1318.8,1319.6M-521.1,-517.4L1317.4,1321.1M-522.5,-516.0L1316.0,1322.5M-523.9,-514.6L1314.6,1323.9M-525.3,-513.2L1313.2,1325.3M-526.7,-511.8L1311.8,1326.7M-528.1,-510.3L1310.3,1328.1M-529.5,-508.9L1308.9,1329.5M-531.0,-507.5L1307.5,1331.0M-532.4,-506.1L1306.1,1332.4M-533.8,-504.7L1304.7,1333.8M-535.2,-503.3L1303.3,1335.2M-536.6,-501.9L1301.9,1336.6M-538.0,-500.4L1300.4,1338.0M-539.4,-499.0L1299.0,1339.4M-540.9,-497.6L1297.6,1340.9M-542.3,-496.2L1296.2,1342.3M-543.7,-494.8L1294.8,1343.7M-545.1,-493.4L1293.4,1345.1M-546.5,-492.0L1292.0,1346.5M-547.9,-490.5L1290.5,1347.9M-549.3,-489.1L1289.1,1349.3M-550.8,-487.7L1287.7,1350.8M-552.2,-486.3L1286.3,1352.2M-553.6,-484.9L1284.9,1353.6M-555.0,-483.5L1283.5,1355.0M-556.4,-482.1L1282.1,1356.4M-557.8,-480.6L1280.6,1357.8M-559.2,-479.2L1279.2,1359.2M-560.7,-477.8L1277.8,1360.7M-562.1,-476.4L1276.4,1362.1M-563.5,-475.0L1275.0,1363.5M-564.9,-473.6L1273.6,1364.9M-566.3,-472.2L1272.2,1366.3M-567.7,-470.7L1270.7,1367.7M-569.1,-469.3L1269.3,1369.1M-570.6,-467.9L1267.9,1370.6M-572.0,-466.5L1266.5,1372.0M-573.4,-465.1L1265.1,1373.4M-574.8,-463.7L1263.7,1374.8M-576.2,-462.3L1262.3,1376.2M-577.6,-460.8L1260.8,1377.6M-579.0,-459.4L1259.4,1379.0M-580.5,-458.0L1258.0,1380.5M-581.9,-456.6L1256.6,1381.9M-583.3,-455.2L1255.2,1383.3M-584.7,-453.8L1253.8,1384.7M-586.1,-452.4L1252.4,1386.1M-587.5,-450.9L1250.9,1387.5M-588.9,-449.5L1249.5,1388.9M-590.4,-448.1L1248.1,1390.4M-591.8,-446.7L1246.7,1391.8M-593.2,-445.3L1245.3,1393.2M-594.6,-443.9L1243.9,1394.6M-596.0,-442.5L1242.5,1396.0M-597.4,-441.0L1241.0,1397.4M-598.8,-439.6L1239.6,1398.8M-600.3,-438.2L1238.2,1400.3M-601.7,-436.8L1236.8,1401.7" class="h"/></g>
<line x1="67" y1="551.4" x2="80" y2="551.4" class="t"/>
<line x1="67" y1="554.4" x2="80" y2="554.4" class="t"/>
<rect x="89" y="546.4" width="3.6" height="13" class="blk"/>
<line x1="62" y1="498" x2="62" y2="505" class="t"/>
<line x1="62" y1="559.4" x2="62" y2="565.6" class="t"/>
<line x1="66.5" y1="498" x2="66.5" y2="505" class="t"/>
<line x1="66.5" y1="559.4" x2="66.5" y2="565.6" class="t"/>
<line x1="70.5" y1="498" x2="70.5" y2="505" class="t"/>
<line x1="70.5" y1="559.4" x2="70.5" y2="565.6" class="t"/>
<line x1="73.5" y1="498" x2="73.5" y2="505" class="t"/>
<line x1="73.5" y1="559.4" x2="73.5" y2="565.6" class="t"/>
<path d="M129.5,511.6 L139.5,511.6 L139.5,551.4 L129.5,551.4" class="m"/>
<path d="M139.5,514 Q148,514 148,523 Q148,532 141,532 Q148,532 148,541 Q148,550 139.5,550" class="m"/>
<path d="M44.7,452.2 L60.5,507" class="t"/>
<path d="M67,452.2 L64.5,499" class="t"/>
<path d="M86.7,452.2 L77.3,505" class="t"/>
<path d="M104.8,452.2 L92,508" class="t"/>
<path d="M136,452.2 L105.3,516" class="t"/>
<path d="M215.5,339 L139.5,491" class="t"/>
<path d="M139.0,492.0L139.8,486.9L142.1,487.9Z" class="ah"/>
<text x="246" y="494" font-size="12.2" class="tx" textLength="38" lengthAdjust="spacingAndGlyphs">NOTES:</text>
<text x="249" y="505" font-size="8.4" class="tx" textLength="7" lengthAdjust="spacingAndGlyphs">1.</text>
<text x="261" y="505" font-size="8.4" class="tx" textLength="170" lengthAdjust="spacingAndGlyphs">IF REQUIRED, CAN REMOVE .750 STOCK FROM</text>
<text x="261" y="512.5" font-size="8.4" class="tx" textLength="179" lengthAdjust="spacingAndGlyphs">FRONT EDGE ON MOVABLE JAW AND STILL CLOSE</text>
<text x="261" y="520" font-size="8.4" class="tx" textLength="188" lengthAdjust="spacingAndGlyphs">VISE TO ZERO.  OPENING WOULD BECOME 21.750.</text>
<text x="249" y="527.5" font-size="8.4" class="tx" textLength="7" lengthAdjust="spacingAndGlyphs">2.</text>
<text x="261" y="527.5" font-size="8.4" class="tx" textLength="126.5" lengthAdjust="spacingAndGlyphs">SEE SHEET 2 FOR DXF DRAWINGS.</text>
<text x="249" y="535.5" font-size="8.4" class="tx" textLength="7" lengthAdjust="spacingAndGlyphs">3.</text>
<text x="261" y="535.5" font-size="8.4" class="tx" textLength="142.7" lengthAdjust="spacingAndGlyphs">SEE SHEET 3 FOR CATALOG DRAWINGS.</text>
<text x="249" y="543.5" font-size="8.4" class="tx" textLength="7" lengthAdjust="spacingAndGlyphs">4.</text>
<text x="261" y="543.5" font-size="8.4" class="tx" textLength="140" lengthAdjust="spacingAndGlyphs">OPTIONAL MOVABLE JAW P/N PT800-2</text>
<text x="261" y="552" font-size="8.4" class="tx" textLength="79" lengthAdjust="spacingAndGlyphs">(DRAWING #D10399).</text>
<circle cx="253" cy="188" r="6.2" class="b"/>
<text x="249.85" y="190.4" font-size="6.7" class="bt" textLength="6.3" lengthAdjust="spacingAndGlyphs">16</text>
<circle cx="288" cy="188" r="6.2" class="b"/>
<text x="284.85" y="190.4" font-size="6.7" class="bt" textLength="6.3" lengthAdjust="spacingAndGlyphs">17</text>
<circle cx="629" cy="188" r="6.2" class="b"/>
<text x="625.85" y="190.4" font-size="6.7" class="bt" textLength="6.3" lengthAdjust="spacingAndGlyphs">18</text>
<circle cx="667.5" cy="188" r="6.2" class="b"/>
<text x="664.35" y="190.4" font-size="6.7" class="bt" textLength="6.3" lengthAdjust="spacingAndGlyphs">19</text>
<circle cx="697.5" cy="188" r="6.2" class="b"/>
<text x="694.35" y="190.4" font-size="6.7" class="bt" textLength="6.3" lengthAdjust="spacingAndGlyphs">20</text>
<circle cx="724" cy="188" r="6.2" class="b"/>
<text x="720.85" y="190.4" font-size="6.7" class="bt" textLength="6.3" lengthAdjust="spacingAndGlyphs">21</text>
<circle cx="778.5" cy="303.7" r="6.2" class="b"/>
<text x="775.35" y="306.1" font-size="6.7" class="bt" textLength="6.3" lengthAdjust="spacingAndGlyphs">22</text>
<circle cx="778.5" cy="351.6" r="6.2" class="b"/>
<text x="775.35" y="354" font-size="6.7" class="bt" textLength="6.3" lengthAdjust="spacingAndGlyphs">23</text>
<circle cx="731" cy="400" r="6.2" class="b"/>
<text x="727.85" y="402.4" font-size="6.7" class="bt" textLength="6.3" lengthAdjust="spacingAndGlyphs">26</text>
<circle cx="647.8" cy="401.4" r="6.2" class="b"/>
<text x="646.2" y="403.8" font-size="6.7" class="bt" textLength="3.2" lengthAdjust="spacingAndGlyphs">2</text>
<circle cx="671.8" cy="401.4" r="6.2" class="b"/>
<text x="670.2" y="403.8" font-size="6.7" class="bt" textLength="3.2" lengthAdjust="spacingAndGlyphs">1</text>
<circle cx="552.5" cy="401.4" r="6.2" class="b"/>
<text x="550.9" y="403.8" font-size="6.7" class="bt" textLength="3.2" lengthAdjust="spacingAndGlyphs">4</text>
<circle cx="582.5" cy="401.4" r="6.2" class="b"/>
<text x="580.9" y="403.8" font-size="6.7" class="bt" textLength="3.2" lengthAdjust="spacingAndGlyphs">3</text>
<circle cx="203.6" cy="401.8" r="6.2" class="b"/>
<text x="202" y="404.2" font-size="6.7" class="bt" textLength="3.2" lengthAdjust="spacingAndGlyphs">5</text>
<circle cx="865" cy="200.3" r="6.2" class="b"/>
<text x="861.85" y="202.7" font-size="6.7" class="bt" textLength="6.3" lengthAdjust="spacingAndGlyphs">24</text>
<circle cx="877.6" cy="200.3" r="6.2" class="b"/>
<text x="874.45" y="202.7" font-size="6.7" class="bt" textLength="6.3" lengthAdjust="spacingAndGlyphs">25</text>
<circle cx="20.3" cy="402" r="6.2" class="b"/>
<text x="17.15" y="404.4" font-size="6.7" class="bt" textLength="6.3" lengthAdjust="spacingAndGlyphs">15</text>
<circle cx="32.5" cy="402" r="6.2" class="b"/>
<text x="29.35" y="404.4" font-size="6.7" class="bt" textLength="6.3" lengthAdjust="spacingAndGlyphs">14</text>
<circle cx="101.6" cy="402" r="6.2" class="b"/>
<text x="98.45" y="404.4" font-size="6.7" class="bt" textLength="6.3" lengthAdjust="spacingAndGlyphs">13</text>
<circle cx="132.4" cy="402" r="6.2" class="b"/>
<text x="129.25" y="404.4" font-size="6.7" class="bt" textLength="6.3" lengthAdjust="spacingAndGlyphs">12</text>
<circle cx="44.7" cy="446" r="6.2" class="b"/>
<text x="41.55" y="448.4" font-size="6.7" class="bt" textLength="6.3" lengthAdjust="spacingAndGlyphs">11</text>
<circle cx="67" cy="446" r="6.2" class="b"/>
<text x="63.85" y="448.4" font-size="6.7" class="bt" textLength="6.3" lengthAdjust="spacingAndGlyphs">10</text>
<circle cx="86.7" cy="446" r="6.2" class="b"/>
<text x="85.1" y="448.4" font-size="6.7" class="bt" textLength="3.2" lengthAdjust="spacingAndGlyphs">9</text>
<circle cx="104.8" cy="446" r="6.2" class="b"/>
<text x="103.2" y="448.4" font-size="6.7" class="bt" textLength="3.2" lengthAdjust="spacingAndGlyphs">8</text>
<circle cx="117" cy="446" r="6.2" class="b"/>
<text x="115.4" y="448.4" font-size="6.7" class="bt" textLength="3.2" lengthAdjust="spacingAndGlyphs">7</text>
<circle cx="136" cy="446" r="6.2" class="b"/>
<text x="134.4" y="448.4" font-size="6.7" class="bt" textLength="3.2" lengthAdjust="spacingAndGlyphs">6</text>
</svg>
</body></html>
